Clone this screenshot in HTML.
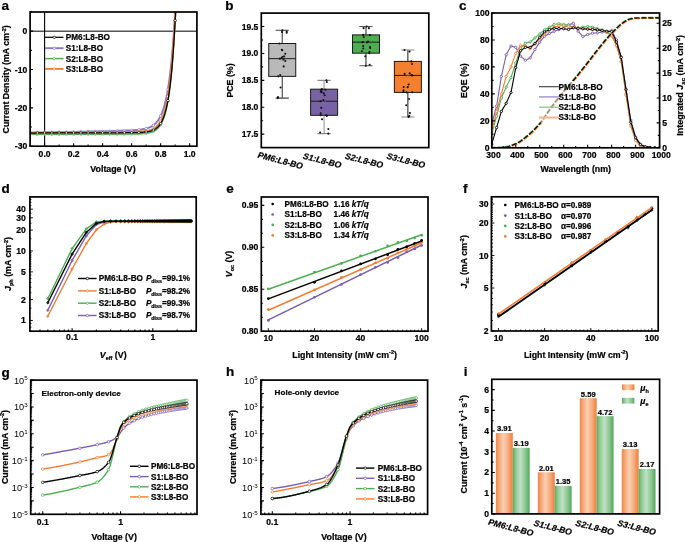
<!DOCTYPE html>
<html><head><meta charset="utf-8"><title>figure</title><style>html,body{margin:0;padding:0;background:#fff;width:685px;height:542px;overflow:hidden;}svg{display:block;font-family:"Liberation Sans",sans-serif;will-change:transform;}text{stroke:currentColor;stroke-width:0.22px;paint-order:stroke;}</style></head><body>
<svg width="685" height="542" viewBox="0 0 685 542" font-family="Liberation Sans, sans-serif" font-weight="bold"><text x="1.40" y="9.60" font-size="13.5" text-anchor="start" fill="#000">a</text>
<clipPath id="ca"><rect x="30.10" y="12.00" width="166.80" height="134.20"/></clipPath>
<line x1="30.10" y1="31.17" x2="196.90" y2="31.17" stroke="#555" stroke-width="1.5"/>
<line x1="44.60" y1="12.00" x2="44.60" y2="146.20" stroke="#000" stroke-width="1.1"/>
<g clip-path="url(#ca)">
<path d="M30.10 132.93 L30.83 132.92 L31.55 132.90 L32.28 132.88 L33.00 132.86 L33.73 132.85 L34.45 132.83 L35.18 132.81 L35.90 132.80 L36.63 132.78 L37.35 132.76 L38.08 132.74 L38.80 132.73 L39.53 132.71 L40.25 132.69 L40.98 132.67 L41.70 132.66 L42.43 132.64 L43.15 132.62 L43.88 132.61 L44.60 132.59 L45.33 132.57 L46.05 132.55 L46.78 132.54 L47.51 132.52 L48.23 132.50 L48.96 132.48 L49.68 132.47 L50.41 132.45 L51.13 132.43 L51.86 132.42 L52.58 132.40 L53.31 132.38 L54.03 132.36 L54.76 132.35 L55.48 132.33 L56.21 132.31 L56.93 132.29 L57.66 132.28 L58.38 132.26 L59.11 132.24 L59.83 132.23 L60.56 132.21 L61.28 132.19 L62.01 132.17 L62.73 132.16 L63.46 132.14 L64.19 132.12 L64.91 132.11 L65.64 132.09 L66.36 132.07 L67.09 132.05 L67.81 132.04 L68.54 132.02 L69.26 132.00 L69.99 131.98 L70.71 131.97 L71.44 131.95 L72.16 131.93 L72.89 131.92 L73.61 131.90 L74.34 131.88 L75.06 131.86 L75.79 131.85 L76.51 131.83 L77.24 131.81 L77.96 131.79 L78.69 131.78 L79.41 131.76 L80.14 131.74 L80.87 131.73 L81.59 131.71 L82.32 131.69 L83.04 131.67 L83.77 131.66 L84.49 131.64 L85.22 131.62 L85.94 131.60 L86.67 131.59 L87.39 131.57 L88.12 131.55 L88.84 131.54 L89.57 131.52 L90.29 131.50 L91.02 131.48 L91.74 131.47 L92.47 131.45 L93.19 131.43 L93.92 131.41 L94.64 131.40 L95.37 131.38 L96.09 131.36 L96.82 131.34 L97.55 131.33 L98.27 131.31 L99.00 131.29 L99.72 131.28 L100.45 131.26 L101.17 131.24 L101.90 131.22 L102.62 131.21 L103.35 131.19 L104.07 131.17 L104.80 131.15 L105.52 131.13 L106.25 131.12 L106.97 131.10 L107.70 131.08 L108.42 131.06 L109.15 131.05 L109.87 131.03 L110.60 131.01 L111.32 130.99 L112.05 130.97 L112.77 130.95 L113.50 130.94 L114.23 130.92 L114.95 130.90 L115.68 130.88 L116.40 130.86 L117.13 130.84 L117.85 130.82 L118.58 130.80 L119.30 130.78 L120.03 130.76 L120.75 130.74 L121.48 130.71 L122.20 130.69 L122.93 130.67 L123.65 130.65 L124.38 130.62 L125.10 130.60 L125.83 130.57 L126.55 130.54 L127.28 130.52 L128.00 130.49 L128.73 130.46 L129.45 130.42 L130.18 130.39 L130.91 130.36 L131.63 130.32 L132.36 130.28 L133.08 130.24 L133.81 130.19 L134.53 130.14 L135.26 130.09 L135.98 130.04 L136.71 129.98 L137.43 129.91 L138.16 129.84 L138.88 129.77 L139.61 129.69 L140.33 129.60 L141.06 129.50 L141.78 129.40 L142.51 129.28 L143.23 129.15 L143.96 129.01 L144.68 128.86 L145.41 128.69 L146.13 128.51 L146.86 128.30 L147.59 128.08 L148.31 127.83 L149.04 127.56 L149.76 127.25 L150.49 126.92 L151.21 126.55 L151.94 126.14 L152.66 125.69 L153.39 125.18 L154.11 124.63 L154.84 124.01 L155.56 123.32 L156.29 122.56 L157.01 121.72 L157.74 120.79 L158.46 119.75 L159.19 118.60 L159.91 117.32 L160.64 115.90 L161.36 114.32 L162.09 112.56 L162.81 110.62 L163.54 108.45 L164.27 106.05 L164.99 103.37 L165.72 100.40 L166.44 97.10 L167.17 93.44 L167.89 89.36 L168.62 84.83 L169.34 79.79 L170.07 74.19 L170.79 67.96 L171.52 61.04 L172.24 53.34 L172.97 44.78 L173.69 35.27 L174.42 24.69 L175.14 12.93" stroke="#8a76c2" stroke-width="1.9" fill="none" stroke-linejoin="round" stroke-linecap="round"/>
<circle cx="30.10" cy="132.93" r="1.2" fill="#fff" stroke="#8a76c2" stroke-width="0.7"/>
<circle cx="37.35" cy="132.76" r="1.2" fill="#fff" stroke="#8a76c2" stroke-width="0.7"/>
<circle cx="44.60" cy="132.59" r="1.2" fill="#fff" stroke="#8a76c2" stroke-width="0.7"/>
<circle cx="51.86" cy="132.42" r="1.2" fill="#fff" stroke="#8a76c2" stroke-width="0.7"/>
<circle cx="59.11" cy="132.24" r="1.2" fill="#fff" stroke="#8a76c2" stroke-width="0.7"/>
<circle cx="66.36" cy="132.07" r="1.2" fill="#fff" stroke="#8a76c2" stroke-width="0.7"/>
<circle cx="73.61" cy="131.90" r="1.2" fill="#fff" stroke="#8a76c2" stroke-width="0.7"/>
<circle cx="80.87" cy="131.73" r="1.2" fill="#fff" stroke="#8a76c2" stroke-width="0.7"/>
<circle cx="88.12" cy="131.55" r="1.2" fill="#fff" stroke="#8a76c2" stroke-width="0.7"/>
<circle cx="95.37" cy="131.38" r="1.2" fill="#fff" stroke="#8a76c2" stroke-width="0.7"/>
<circle cx="102.62" cy="131.21" r="1.2" fill="#fff" stroke="#8a76c2" stroke-width="0.7"/>
<circle cx="109.87" cy="131.03" r="1.2" fill="#fff" stroke="#8a76c2" stroke-width="0.7"/>
<circle cx="117.13" cy="130.84" r="1.2" fill="#fff" stroke="#8a76c2" stroke-width="0.7"/>
<circle cx="124.38" cy="130.62" r="1.2" fill="#fff" stroke="#8a76c2" stroke-width="0.7"/>
<circle cx="131.63" cy="130.32" r="1.2" fill="#fff" stroke="#8a76c2" stroke-width="0.7"/>
<circle cx="138.88" cy="129.77" r="1.2" fill="#fff" stroke="#8a76c2" stroke-width="0.7"/>
<circle cx="146.13" cy="128.51" r="1.2" fill="#fff" stroke="#8a76c2" stroke-width="0.7"/>
<circle cx="153.39" cy="125.18" r="1.2" fill="#fff" stroke="#8a76c2" stroke-width="0.7"/>
<circle cx="160.64" cy="115.90" r="1.2" fill="#fff" stroke="#8a76c2" stroke-width="0.7"/>
<circle cx="167.89" cy="89.36" r="1.2" fill="#fff" stroke="#8a76c2" stroke-width="0.7"/>
<circle cx="175.14" cy="12.93" r="1.2" fill="#fff" stroke="#8a76c2" stroke-width="0.7"/>
<path d="M30.10 134.35 L30.83 134.35 L31.55 134.35 L32.28 134.35 L33.00 134.34 L33.73 134.34 L34.45 134.34 L35.18 134.34 L35.90 134.34 L36.63 134.33 L37.35 134.33 L38.08 134.33 L38.80 134.33 L39.53 134.33 L40.25 134.33 L40.98 134.32 L41.70 134.32 L42.43 134.32 L43.15 134.32 L43.88 134.32 L44.60 134.31 L45.33 134.31 L46.05 134.31 L46.78 134.31 L47.51 134.31 L48.23 134.30 L48.96 134.30 L49.68 134.30 L50.41 134.30 L51.13 134.30 L51.86 134.29 L52.58 134.29 L53.31 134.29 L54.03 134.29 L54.76 134.29 L55.48 134.28 L56.21 134.28 L56.93 134.28 L57.66 134.28 L58.38 134.28 L59.11 134.28 L59.83 134.27 L60.56 134.27 L61.28 134.27 L62.01 134.27 L62.73 134.27 L63.46 134.26 L64.19 134.26 L64.91 134.26 L65.64 134.26 L66.36 134.26 L67.09 134.25 L67.81 134.25 L68.54 134.25 L69.26 134.25 L69.99 134.25 L70.71 134.24 L71.44 134.24 L72.16 134.24 L72.89 134.24 L73.61 134.24 L74.34 134.24 L75.06 134.23 L75.79 134.23 L76.51 134.23 L77.24 134.23 L77.96 134.23 L78.69 134.22 L79.41 134.22 L80.14 134.22 L80.87 134.22 L81.59 134.22 L82.32 134.21 L83.04 134.21 L83.77 134.21 L84.49 134.21 L85.22 134.21 L85.94 134.20 L86.67 134.20 L87.39 134.20 L88.12 134.20 L88.84 134.20 L89.57 134.19 L90.29 134.19 L91.02 134.19 L91.74 134.19 L92.47 134.19 L93.19 134.19 L93.92 134.18 L94.64 134.18 L95.37 134.18 L96.09 134.18 L96.82 134.18 L97.55 134.17 L98.27 134.17 L99.00 134.17 L99.72 134.17 L100.45 134.17 L101.17 134.16 L101.90 134.16 L102.62 134.16 L103.35 134.16 L104.07 134.16 L104.80 134.15 L105.52 134.15 L106.25 134.15 L106.97 134.15 L107.70 134.15 L108.42 134.14 L109.15 134.14 L109.87 134.14 L110.60 134.14 L111.32 134.14 L112.05 134.13 L112.77 134.13 L113.50 134.13 L114.23 134.13 L114.95 134.12 L115.68 134.12 L116.40 134.12 L117.13 134.12 L117.85 134.11 L118.58 134.11 L119.30 134.11 L120.03 134.11 L120.75 134.10 L121.48 134.10 L122.20 134.10 L122.93 134.09 L123.65 134.09 L124.38 134.08 L125.10 134.08 L125.83 134.08 L126.55 134.07 L127.28 134.07 L128.00 134.06 L128.73 134.05 L129.45 134.05 L130.18 134.04 L130.91 134.03 L131.63 134.02 L132.36 134.01 L133.08 134.00 L133.81 133.99 L134.53 133.97 L135.26 133.96 L135.98 133.94 L136.71 133.92 L137.43 133.90 L138.16 133.87 L138.88 133.84 L139.61 133.81 L140.33 133.78 L141.06 133.74 L141.78 133.69 L142.51 133.64 L143.23 133.59 L143.96 133.52 L144.68 133.45 L145.41 133.37 L146.13 133.28 L146.86 133.18 L147.59 133.06 L148.31 132.93 L149.04 132.77 L149.76 132.60 L150.49 132.41 L151.21 132.19 L151.94 131.95 L152.66 131.67 L153.39 131.35 L154.11 131.00 L154.84 130.59 L155.56 130.13 L156.29 129.61 L157.01 129.02 L157.74 128.36 L158.46 127.60 L159.19 126.75 L159.91 125.78 L160.64 124.68 L161.36 123.43 L162.09 122.02 L162.81 120.43 L163.54 118.62 L164.27 116.57 L164.99 114.25 L165.72 111.62 L166.44 108.64 L167.17 105.26 L167.89 101.43 L168.62 97.10 L169.34 92.18 L170.07 86.62 L170.79 80.31 L171.52 73.16 L172.24 65.06 L172.97 55.89 L173.69 45.49 L174.42 33.71 L175.14 20.36 L175.87 5.23" stroke="#4cae52" stroke-width="1.5" fill="none" stroke-linejoin="round" stroke-linecap="round"/>
<circle cx="30.10" cy="134.35" r="1.2" fill="#fff" stroke="#4cae52" stroke-width="0.7"/>
<circle cx="37.35" cy="134.33" r="1.2" fill="#fff" stroke="#4cae52" stroke-width="0.7"/>
<circle cx="44.60" cy="134.31" r="1.2" fill="#fff" stroke="#4cae52" stroke-width="0.7"/>
<circle cx="51.86" cy="134.29" r="1.2" fill="#fff" stroke="#4cae52" stroke-width="0.7"/>
<circle cx="59.11" cy="134.28" r="1.2" fill="#fff" stroke="#4cae52" stroke-width="0.7"/>
<circle cx="66.36" cy="134.26" r="1.2" fill="#fff" stroke="#4cae52" stroke-width="0.7"/>
<circle cx="73.61" cy="134.24" r="1.2" fill="#fff" stroke="#4cae52" stroke-width="0.7"/>
<circle cx="80.87" cy="134.22" r="1.2" fill="#fff" stroke="#4cae52" stroke-width="0.7"/>
<circle cx="88.12" cy="134.20" r="1.2" fill="#fff" stroke="#4cae52" stroke-width="0.7"/>
<circle cx="95.37" cy="134.18" r="1.2" fill="#fff" stroke="#4cae52" stroke-width="0.7"/>
<circle cx="102.62" cy="134.16" r="1.2" fill="#fff" stroke="#4cae52" stroke-width="0.7"/>
<circle cx="109.87" cy="134.14" r="1.2" fill="#fff" stroke="#4cae52" stroke-width="0.7"/>
<circle cx="117.13" cy="134.12" r="1.2" fill="#fff" stroke="#4cae52" stroke-width="0.7"/>
<circle cx="124.38" cy="134.08" r="1.2" fill="#fff" stroke="#4cae52" stroke-width="0.7"/>
<circle cx="131.63" cy="134.02" r="1.2" fill="#fff" stroke="#4cae52" stroke-width="0.7"/>
<circle cx="138.88" cy="133.84" r="1.2" fill="#fff" stroke="#4cae52" stroke-width="0.7"/>
<circle cx="146.13" cy="133.28" r="1.2" fill="#fff" stroke="#4cae52" stroke-width="0.7"/>
<circle cx="153.39" cy="131.35" r="1.2" fill="#fff" stroke="#4cae52" stroke-width="0.7"/>
<circle cx="160.64" cy="124.68" r="1.2" fill="#fff" stroke="#4cae52" stroke-width="0.7"/>
<circle cx="167.89" cy="101.43" r="1.2" fill="#fff" stroke="#4cae52" stroke-width="0.7"/>
<circle cx="175.14" cy="20.36" r="1.2" fill="#fff" stroke="#4cae52" stroke-width="0.7"/>
<path d="M30.10 132.45 L30.83 132.45 L31.55 132.45 L32.28 132.45 L33.00 132.44 L33.73 132.44 L34.45 132.44 L35.18 132.43 L35.90 132.43 L36.63 132.43 L37.35 132.43 L38.08 132.42 L38.80 132.42 L39.53 132.42 L40.25 132.41 L40.98 132.41 L41.70 132.41 L42.43 132.41 L43.15 132.40 L43.88 132.40 L44.60 132.40 L45.33 132.39 L46.05 132.39 L46.78 132.39 L47.51 132.39 L48.23 132.38 L48.96 132.38 L49.68 132.38 L50.41 132.37 L51.13 132.37 L51.86 132.37 L52.58 132.36 L53.31 132.36 L54.03 132.36 L54.76 132.36 L55.48 132.35 L56.21 132.35 L56.93 132.35 L57.66 132.34 L58.38 132.34 L59.11 132.34 L59.83 132.34 L60.56 132.33 L61.28 132.33 L62.01 132.33 L62.73 132.32 L63.46 132.32 L64.19 132.32 L64.91 132.32 L65.64 132.31 L66.36 132.31 L67.09 132.31 L67.81 132.30 L68.54 132.30 L69.26 132.30 L69.99 132.30 L70.71 132.29 L71.44 132.29 L72.16 132.29 L72.89 132.28 L73.61 132.28 L74.34 132.28 L75.06 132.28 L75.79 132.27 L76.51 132.27 L77.24 132.27 L77.96 132.26 L78.69 132.26 L79.41 132.26 L80.14 132.26 L80.87 132.25 L81.59 132.25 L82.32 132.25 L83.04 132.24 L83.77 132.24 L84.49 132.24 L85.22 132.24 L85.94 132.23 L86.67 132.23 L87.39 132.23 L88.12 132.22 L88.84 132.22 L89.57 132.22 L90.29 132.22 L91.02 132.21 L91.74 132.21 L92.47 132.21 L93.19 132.20 L93.92 132.20 L94.64 132.20 L95.37 132.20 L96.09 132.19 L96.82 132.19 L97.55 132.19 L98.27 132.18 L99.00 132.18 L99.72 132.18 L100.45 132.17 L101.17 132.17 L101.90 132.17 L102.62 132.17 L103.35 132.16 L104.07 132.16 L104.80 132.16 L105.52 132.15 L106.25 132.15 L106.97 132.15 L107.70 132.14 L108.42 132.14 L109.15 132.14 L109.87 132.14 L110.60 132.13 L111.32 132.13 L112.05 132.13 L112.77 132.12 L113.50 132.12 L114.23 132.12 L114.95 132.11 L115.68 132.11 L116.40 132.10 L117.13 132.10 L117.85 132.10 L118.58 132.09 L119.30 132.09 L120.03 132.08 L120.75 132.08 L121.48 132.07 L122.20 132.07 L122.93 132.06 L123.65 132.06 L124.38 132.05 L125.10 132.05 L125.83 132.04 L126.55 132.03 L127.28 132.02 L128.00 132.02 L128.73 132.01 L129.45 132.00 L130.18 131.98 L130.91 131.97 L131.63 131.96 L132.36 131.94 L133.08 131.93 L133.81 131.91 L134.53 131.89 L135.26 131.87 L135.98 131.85 L136.71 131.82 L137.43 131.79 L138.16 131.76 L138.88 131.72 L139.61 131.68 L140.33 131.63 L141.06 131.58 L141.78 131.52 L142.51 131.46 L143.23 131.39 L143.96 131.31 L144.68 131.22 L145.41 131.11 L146.13 131.00 L146.86 130.87 L147.59 130.73 L148.31 130.56 L149.04 130.38 L149.76 130.18 L150.49 129.95 L151.21 129.69 L151.94 129.39 L152.66 129.07 L153.39 128.70 L154.11 128.28 L154.84 127.81 L155.56 127.28 L156.29 126.69 L157.01 126.02 L157.74 125.27 L158.46 124.42 L159.19 123.47 L159.91 122.40 L160.64 121.19 L161.36 119.83 L162.09 118.29 L162.81 116.57 L163.54 114.62 L164.27 112.43 L164.99 109.97 L165.72 107.19 L166.44 104.06 L167.17 100.54 L167.89 96.57 L168.62 92.10 L169.34 87.07 L170.07 81.40 L170.79 75.02 L171.52 67.82 L172.24 59.72 L172.97 50.60 L173.69 40.32 L174.42 28.74 L175.14 15.71 L175.87 1.02" stroke="#f47c30" stroke-width="1.9" fill="none" stroke-linejoin="round" stroke-linecap="round"/>
<circle cx="30.10" cy="132.45" r="1.2" fill="#fff" stroke="#f47c30" stroke-width="0.7"/>
<circle cx="37.35" cy="132.43" r="1.2" fill="#fff" stroke="#f47c30" stroke-width="0.7"/>
<circle cx="44.60" cy="132.40" r="1.2" fill="#fff" stroke="#f47c30" stroke-width="0.7"/>
<circle cx="51.86" cy="132.37" r="1.2" fill="#fff" stroke="#f47c30" stroke-width="0.7"/>
<circle cx="59.11" cy="132.34" r="1.2" fill="#fff" stroke="#f47c30" stroke-width="0.7"/>
<circle cx="66.36" cy="132.31" r="1.2" fill="#fff" stroke="#f47c30" stroke-width="0.7"/>
<circle cx="73.61" cy="132.28" r="1.2" fill="#fff" stroke="#f47c30" stroke-width="0.7"/>
<circle cx="80.87" cy="132.25" r="1.2" fill="#fff" stroke="#f47c30" stroke-width="0.7"/>
<circle cx="88.12" cy="132.22" r="1.2" fill="#fff" stroke="#f47c30" stroke-width="0.7"/>
<circle cx="95.37" cy="132.20" r="1.2" fill="#fff" stroke="#f47c30" stroke-width="0.7"/>
<circle cx="102.62" cy="132.17" r="1.2" fill="#fff" stroke="#f47c30" stroke-width="0.7"/>
<circle cx="109.87" cy="132.14" r="1.2" fill="#fff" stroke="#f47c30" stroke-width="0.7"/>
<circle cx="117.13" cy="132.10" r="1.2" fill="#fff" stroke="#f47c30" stroke-width="0.7"/>
<circle cx="124.38" cy="132.05" r="1.2" fill="#fff" stroke="#f47c30" stroke-width="0.7"/>
<circle cx="131.63" cy="131.96" r="1.2" fill="#fff" stroke="#f47c30" stroke-width="0.7"/>
<circle cx="138.88" cy="131.72" r="1.2" fill="#fff" stroke="#f47c30" stroke-width="0.7"/>
<circle cx="146.13" cy="131.00" r="1.2" fill="#fff" stroke="#f47c30" stroke-width="0.7"/>
<circle cx="153.39" cy="128.70" r="1.2" fill="#fff" stroke="#f47c30" stroke-width="0.7"/>
<circle cx="160.64" cy="121.19" r="1.2" fill="#fff" stroke="#f47c30" stroke-width="0.7"/>
<circle cx="167.89" cy="96.57" r="1.2" fill="#fff" stroke="#f47c30" stroke-width="0.7"/>
<circle cx="175.14" cy="15.71" r="1.2" fill="#fff" stroke="#f47c30" stroke-width="0.7"/>
<path d="M30.10 133.01 L30.83 133.01 L31.55 133.01 L32.28 133.00 L33.00 133.00 L33.73 133.00 L34.45 133.00 L35.18 133.00 L35.90 132.99 L36.63 132.99 L37.35 132.99 L38.08 132.99 L38.80 132.99 L39.53 132.99 L40.25 132.98 L40.98 132.98 L41.70 132.98 L42.43 132.98 L43.15 132.98 L43.88 132.97 L44.60 132.97 L45.33 132.97 L46.05 132.97 L46.78 132.97 L47.51 132.96 L48.23 132.96 L48.96 132.96 L49.68 132.96 L50.41 132.96 L51.13 132.95 L51.86 132.95 L52.58 132.95 L53.31 132.95 L54.03 132.95 L54.76 132.94 L55.48 132.94 L56.21 132.94 L56.93 132.94 L57.66 132.94 L58.38 132.94 L59.11 132.93 L59.83 132.93 L60.56 132.93 L61.28 132.93 L62.01 132.93 L62.73 132.92 L63.46 132.92 L64.19 132.92 L64.91 132.92 L65.64 132.92 L66.36 132.91 L67.09 132.91 L67.81 132.91 L68.54 132.91 L69.26 132.91 L69.99 132.90 L70.71 132.90 L71.44 132.90 L72.16 132.90 L72.89 132.90 L73.61 132.90 L74.34 132.89 L75.06 132.89 L75.79 132.89 L76.51 132.89 L77.24 132.89 L77.96 132.88 L78.69 132.88 L79.41 132.88 L80.14 132.88 L80.87 132.88 L81.59 132.87 L82.32 132.87 L83.04 132.87 L83.77 132.87 L84.49 132.87 L85.22 132.86 L85.94 132.86 L86.67 132.86 L87.39 132.86 L88.12 132.86 L88.84 132.85 L89.57 132.85 L90.29 132.85 L91.02 132.85 L91.74 132.85 L92.47 132.85 L93.19 132.84 L93.92 132.84 L94.64 132.84 L95.37 132.84 L96.09 132.84 L96.82 132.83 L97.55 132.83 L98.27 132.83 L99.00 132.83 L99.72 132.83 L100.45 132.82 L101.17 132.82 L101.90 132.82 L102.62 132.82 L103.35 132.82 L104.07 132.81 L104.80 132.81 L105.52 132.81 L106.25 132.81 L106.97 132.81 L107.70 132.80 L108.42 132.80 L109.15 132.80 L109.87 132.80 L110.60 132.80 L111.32 132.79 L112.05 132.79 L112.77 132.79 L113.50 132.79 L114.23 132.78 L114.95 132.78 L115.68 132.78 L116.40 132.78 L117.13 132.77 L117.85 132.77 L118.58 132.77 L119.30 132.77 L120.03 132.76 L120.75 132.76 L121.48 132.76 L122.20 132.75 L122.93 132.75 L123.65 132.75 L124.38 132.74 L125.10 132.74 L125.83 132.73 L126.55 132.73 L127.28 132.72 L128.00 132.72 L128.73 132.71 L129.45 132.70 L130.18 132.70 L130.91 132.69 L131.63 132.68 L132.36 132.67 L133.08 132.66 L133.81 132.65 L134.53 132.63 L135.26 132.62 L135.98 132.60 L136.71 132.58 L137.43 132.56 L138.16 132.53 L138.88 132.51 L139.61 132.48 L140.33 132.44 L141.06 132.40 L141.78 132.36 L142.51 132.31 L143.23 132.25 L143.96 132.19 L144.68 132.12 L145.41 132.04 L146.13 131.95 L146.86 131.84 L147.59 131.73 L148.31 131.60 L149.04 131.45 L149.76 131.28 L150.49 131.09 L151.21 130.88 L151.94 130.63 L152.66 130.36 L153.39 130.05 L154.11 129.69 L154.84 129.29 L155.56 128.84 L156.29 128.33 L157.01 127.75 L157.74 127.09 L158.46 126.34 L159.19 125.50 L159.91 124.54 L160.64 123.46 L161.36 122.23 L162.09 120.84 L162.81 119.26 L163.54 117.48 L164.27 115.46 L164.99 113.16 L165.72 110.57 L166.44 107.63 L167.17 104.29 L167.89 100.52 L168.62 96.24 L169.34 91.39 L170.07 85.89 L170.79 79.67 L171.52 72.61 L172.24 64.62 L172.97 55.57 L173.69 45.30 L174.42 33.68 L175.14 20.50 L175.87 5.57" stroke="#000000" stroke-width="1.25" fill="none" stroke-linejoin="round" stroke-linecap="round"/>
<circle cx="30.10" cy="133.01" r="1.2" fill="#fff" stroke="#000000" stroke-width="0.7"/>
<circle cx="37.35" cy="132.99" r="1.2" fill="#fff" stroke="#000000" stroke-width="0.7"/>
<circle cx="44.60" cy="132.97" r="1.2" fill="#fff" stroke="#000000" stroke-width="0.7"/>
<circle cx="51.86" cy="132.95" r="1.2" fill="#fff" stroke="#000000" stroke-width="0.7"/>
<circle cx="59.11" cy="132.93" r="1.2" fill="#fff" stroke="#000000" stroke-width="0.7"/>
<circle cx="66.36" cy="132.91" r="1.2" fill="#fff" stroke="#000000" stroke-width="0.7"/>
<circle cx="73.61" cy="132.90" r="1.2" fill="#fff" stroke="#000000" stroke-width="0.7"/>
<circle cx="80.87" cy="132.88" r="1.2" fill="#fff" stroke="#000000" stroke-width="0.7"/>
<circle cx="88.12" cy="132.86" r="1.2" fill="#fff" stroke="#000000" stroke-width="0.7"/>
<circle cx="95.37" cy="132.84" r="1.2" fill="#fff" stroke="#000000" stroke-width="0.7"/>
<circle cx="102.62" cy="132.82" r="1.2" fill="#fff" stroke="#000000" stroke-width="0.7"/>
<circle cx="109.87" cy="132.80" r="1.2" fill="#fff" stroke="#000000" stroke-width="0.7"/>
<circle cx="117.13" cy="132.77" r="1.2" fill="#fff" stroke="#000000" stroke-width="0.7"/>
<circle cx="124.38" cy="132.74" r="1.2" fill="#fff" stroke="#000000" stroke-width="0.7"/>
<circle cx="131.63" cy="132.68" r="1.2" fill="#fff" stroke="#000000" stroke-width="0.7"/>
<circle cx="138.88" cy="132.51" r="1.2" fill="#fff" stroke="#000000" stroke-width="0.7"/>
<circle cx="146.13" cy="131.95" r="1.2" fill="#fff" stroke="#000000" stroke-width="0.7"/>
<circle cx="153.39" cy="130.05" r="1.2" fill="#fff" stroke="#000000" stroke-width="0.7"/>
<circle cx="160.64" cy="123.46" r="1.2" fill="#fff" stroke="#000000" stroke-width="0.7"/>
<circle cx="167.89" cy="100.52" r="1.2" fill="#fff" stroke="#000000" stroke-width="0.7"/>
<circle cx="175.14" cy="20.50" r="1.2" fill="#fff" stroke="#000000" stroke-width="0.7"/>
</g>
<rect x="30.10" y="12.00" width="166.80" height="134.20" fill="none" stroke="#000" stroke-width="1.7"/>
<path d="M44.60 146.20v-3.0M73.61 146.20v-3.0M102.62 146.20v-3.0M131.63 146.20v-3.0M160.64 146.20v-3.0M189.65 146.20v-3.0M30.10 146.20v-1.8M59.11 146.20v-1.8M88.12 146.20v-1.8M117.13 146.20v-1.8M146.13 146.20v-1.8M175.14 146.20v-1.8" stroke="#000" stroke-width="1.1" fill="none"/>
<path d="M30.10 31.17h3.0M30.10 69.51h3.0M30.10 107.86h3.0M30.10 146.20h3.0M30.10 12.00h1.8M30.10 50.34h1.8M30.10 88.69h1.8M30.10 127.03h1.8" stroke="#000" stroke-width="1.1" fill="none"/>
<text x="44.60" y="156.60" font-size="8.6" text-anchor="middle" fill="#000">0.0</text>
<text x="73.61" y="156.60" font-size="8.6" text-anchor="middle" fill="#000">0.2</text>
<text x="102.62" y="156.60" font-size="8.6" text-anchor="middle" fill="#000">0.4</text>
<text x="131.63" y="156.60" font-size="8.6" text-anchor="middle" fill="#000">0.6</text>
<text x="160.64" y="156.60" font-size="8.6" text-anchor="middle" fill="#000">0.8</text>
<text x="189.65" y="156.60" font-size="8.6" text-anchor="middle" fill="#000">1.0</text>
<text x="27.20" y="34.17" font-size="8.6" text-anchor="end" fill="#000">0</text>
<text x="27.20" y="72.51" font-size="8.6" text-anchor="end" fill="#000">-10</text>
<text x="27.20" y="110.86" font-size="8.6" text-anchor="end" fill="#000">-20</text>
<text x="27.20" y="149.20" font-size="8.6" text-anchor="end" fill="#000">-30</text>
<text x="113.00" y="172.20" font-size="8.8" text-anchor="middle" fill="#000">Voltage (V)</text>
<text x="9.30" y="79.30" font-size="8.8" text-anchor="middle" fill="#000" transform="rotate(-90.00 9.30 79.30)">Current Density (mA cm<tspan font-size="5.5" dy="-3.2">-2</tspan><tspan dy="3.2">)</tspan></text>
<line x1="45" y1="37.3" x2="63.5" y2="37.3" stroke="#000000" stroke-width="1.25"/>
<circle cx="54.20" cy="37.30" r="1.2" fill="#fff" stroke="#000000" stroke-width="0.7"/>
<text x="65.80" y="40.20" font-size="8.2" text-anchor="start" fill="#000">PM6:L8-BO</text>
<line x1="45" y1="48.2" x2="63.5" y2="48.2" stroke="#8a76c2" stroke-width="1.9"/>
<circle cx="54.20" cy="48.20" r="1.2" fill="#fff" stroke="#8a76c2" stroke-width="0.7"/>
<text x="65.80" y="51.10" font-size="8.2" text-anchor="start" fill="#000">S1:L8-BO</text>
<line x1="45" y1="58.6" x2="63.5" y2="58.6" stroke="#4cae52" stroke-width="1.5"/>
<circle cx="54.20" cy="58.60" r="1.2" fill="#fff" stroke="#4cae52" stroke-width="0.7"/>
<text x="65.80" y="61.50" font-size="8.2" text-anchor="start" fill="#000">S2:L8-BO</text>
<line x1="45" y1="68.9" x2="63.5" y2="68.9" stroke="#f47c30" stroke-width="1.9"/>
<circle cx="54.20" cy="68.90" r="1.2" fill="#fff" stroke="#f47c30" stroke-width="0.7"/>
<text x="65.80" y="71.80" font-size="8.2" text-anchor="start" fill="#000">S3:L8-BO</text>
<text x="225.20" y="9.60" font-size="13.5" text-anchor="start" fill="#000">b</text>
<path d="M282.24 30.32V43.50M282.24 76.37V98.10" stroke="#444" stroke-width="1.1"/>
<path d="M275.64 30.32h13.2M275.64 98.10h13.2" stroke="#444" stroke-width="1.1"/>
<rect x="268.74" y="43.50" width="27.0" height="32.87" fill="#b9b9b9" stroke="#1a1a1a" stroke-width="1.0"/>
<line x1="268.74" y1="58.67" x2="295.74" y2="58.67" stroke="#1a1a1a" stroke-width="1.0"/>
<circle cx="282.24" cy="59.39" r="1.3" fill="none" stroke="#888" stroke-width="0.6"/>
<circle cx="277.87" cy="98.10" r="1.05" fill="#111"/>
<circle cx="282.49" cy="30.32" r="1.05" fill="#111"/>
<circle cx="278.27" cy="76.37" r="1.05" fill="#111"/>
<circle cx="279.45" cy="43.50" r="1.05" fill="#111"/>
<circle cx="279.91" cy="58.67" r="1.05" fill="#111"/>
<circle cx="278.01" cy="97.03" r="1.05" fill="#111"/>
<circle cx="281.91" cy="31.93" r="1.05" fill="#111"/>
<circle cx="281.70" cy="57.97" r="1.05" fill="#111"/>
<circle cx="285.32" cy="61.06" r="1.05" fill="#111"/>
<circle cx="282.41" cy="57.06" r="1.05" fill="#111"/>
<circle cx="283.50" cy="59.54" r="1.05" fill="#111"/>
<circle cx="282.24" cy="50.30" r="1.05" fill="#111"/>
<circle cx="283.70" cy="66.40" r="1.05" fill="#111"/>
<circle cx="281.85" cy="49.75" r="1.05" fill="#111"/>
<circle cx="280.24" cy="74.99" r="1.05" fill="#111"/>
<circle cx="286.72" cy="31.52" r="1.05" fill="#111"/>
<circle cx="286.70" cy="32.70" r="1.05" fill="#111"/>
<circle cx="285.30" cy="53.78" r="1.05" fill="#111"/>
<circle cx="284.11" cy="56.38" r="1.05" fill="#111"/>
<circle cx="280.57" cy="87.43" r="1.05" fill="#111"/>
<path d="M324.11 80.35V89.17M324.11 115.32V133.61" stroke="#9a9a9a" stroke-width="1.1"/>
<path d="M317.51 80.35h13.2M317.51 133.61h13.2" stroke="#8a8a8a" stroke-width="1.1"/>
<rect x="310.61" y="89.17" width="27.0" height="26.15" fill="#7862a6" stroke="#1a1a1a" stroke-width="1.0"/>
<line x1="310.61" y1="101.22" x2="337.61" y2="101.22" stroke="#1a1a1a" stroke-width="1.0"/>
<circle cx="324.11" cy="101.71" r="1.3" fill="none" stroke="#888" stroke-width="0.6"/>
<circle cx="328.29" cy="133.61" r="1.05" fill="#111"/>
<circle cx="326.43" cy="80.35" r="1.05" fill="#111"/>
<circle cx="320.67" cy="115.32" r="1.05" fill="#111"/>
<circle cx="321.83" cy="89.17" r="1.05" fill="#111"/>
<circle cx="320.52" cy="101.22" r="1.05" fill="#111"/>
<circle cx="320.15" cy="132.54" r="1.05" fill="#111"/>
<circle cx="326.79" cy="81.96" r="1.05" fill="#111"/>
<circle cx="321.21" cy="107.76" r="1.05" fill="#111"/>
<circle cx="324.65" cy="95.28" r="1.05" fill="#111"/>
<circle cx="323.64" cy="93.18" r="1.05" fill="#111"/>
<circle cx="321.33" cy="90.27" r="1.05" fill="#111"/>
<circle cx="326.20" cy="115.31" r="1.05" fill="#111"/>
<circle cx="320.79" cy="91.52" r="1.05" fill="#111"/>
<circle cx="325.41" cy="89.69" r="1.05" fill="#111"/>
<circle cx="320.66" cy="113.41" r="1.05" fill="#111"/>
<circle cx="323.40" cy="100.09" r="1.05" fill="#111"/>
<circle cx="321.53" cy="92.15" r="1.05" fill="#111"/>
<circle cx="322.04" cy="119.24" r="1.05" fill="#111"/>
<circle cx="328.35" cy="128.97" r="1.05" fill="#111"/>
<circle cx="326.84" cy="115.90" r="1.05" fill="#111"/>
<path d="M365.99 26.55V34.89M365.99 53.18V65.82" stroke="#333" stroke-width="1.1"/>
<path d="M359.39 26.55h13.2M359.39 65.82h13.2" stroke="#555" stroke-width="1.1"/>
<rect x="352.49" y="34.89" width="27.0" height="18.29" fill="#4cae50" stroke="#1a1a1a" stroke-width="1.0"/>
<line x1="352.49" y1="42.15" x2="379.49" y2="42.15" stroke="#1a1a1a" stroke-width="1.0"/>
<circle cx="365.99" cy="43.50" r="1.3" fill="none" stroke="#888" stroke-width="0.6"/>
<circle cx="365.84" cy="65.82" r="1.05" fill="#111"/>
<circle cx="366.66" cy="26.55" r="1.05" fill="#111"/>
<circle cx="369.29" cy="53.18" r="1.05" fill="#111"/>
<circle cx="363.13" cy="34.89" r="1.05" fill="#111"/>
<circle cx="362.87" cy="42.15" r="1.05" fill="#111"/>
<circle cx="369.66" cy="64.75" r="1.05" fill="#111"/>
<circle cx="368.85" cy="28.16" r="1.05" fill="#111"/>
<circle cx="363.73" cy="37.00" r="1.05" fill="#111"/>
<circle cx="363.20" cy="45.97" r="1.05" fill="#111"/>
<circle cx="368.14" cy="41.44" r="1.05" fill="#111"/>
<circle cx="369.95" cy="35.08" r="1.05" fill="#111"/>
<circle cx="363.26" cy="48.46" r="1.05" fill="#111"/>
<circle cx="370.04" cy="47.16" r="1.05" fill="#111"/>
<circle cx="369.43" cy="51.84" r="1.05" fill="#111"/>
<circle cx="366.92" cy="42.52" r="1.05" fill="#111"/>
<circle cx="365.28" cy="56.28" r="1.05" fill="#111"/>
<circle cx="362.42" cy="42.21" r="1.05" fill="#111"/>
<circle cx="361.84" cy="51.23" r="1.05" fill="#111"/>
<circle cx="370.15" cy="48.02" r="1.05" fill="#111"/>
<circle cx="363.63" cy="28.15" r="1.05" fill="#111"/>
<path d="M407.86 50.01V61.41M407.86 92.40V116.99" stroke="#333" stroke-width="1.1"/>
<path d="M401.26 50.01h13.2M401.26 116.99h13.2" stroke="#8a8a8a" stroke-width="1.1"/>
<rect x="394.36" y="61.41" width="27.0" height="30.99" fill="#f4802f" stroke="#1a1a1a" stroke-width="1.0"/>
<line x1="394.36" y1="75.40" x2="421.36" y2="75.40" stroke="#1a1a1a" stroke-width="1.0"/>
<circle cx="407.86" cy="76.37" r="1.3" fill="none" stroke="#888" stroke-width="0.6"/>
<circle cx="408.51" cy="116.99" r="1.05" fill="#111"/>
<circle cx="404.55" cy="50.01" r="1.05" fill="#111"/>
<circle cx="406.62" cy="92.40" r="1.05" fill="#111"/>
<circle cx="411.38" cy="61.41" r="1.05" fill="#111"/>
<circle cx="412.19" cy="75.40" r="1.05" fill="#111"/>
<circle cx="409.27" cy="115.91" r="1.05" fill="#111"/>
<circle cx="409.58" cy="51.62" r="1.05" fill="#111"/>
<circle cx="408.62" cy="84.44" r="1.05" fill="#111"/>
<circle cx="404.63" cy="73.92" r="1.05" fill="#111"/>
<circle cx="403.68" cy="86.96" r="1.05" fill="#111"/>
<circle cx="403.52" cy="90.27" r="1.05" fill="#111"/>
<circle cx="411.55" cy="75.07" r="1.05" fill="#111"/>
<circle cx="409.67" cy="73.36" r="1.05" fill="#111"/>
<circle cx="412.03" cy="63.97" r="1.05" fill="#111"/>
<circle cx="403.55" cy="91.89" r="1.05" fill="#111"/>
<circle cx="409.09" cy="98.96" r="1.05" fill="#111"/>
<circle cx="407.70" cy="87.13" r="1.05" fill="#111"/>
<circle cx="409.94" cy="112.94" r="1.05" fill="#111"/>
<circle cx="406.23" cy="105.18" r="1.05" fill="#111"/>
<circle cx="412.36" cy="92.29" r="1.05" fill="#111"/>
<rect x="261.30" y="13.10" width="167.50" height="134.50" fill="none" stroke="#000" stroke-width="1.7"/>
<path d="M261.30 134.15h3.0M261.30 107.25h3.0M261.30 80.35h3.0M261.30 53.45h3.0M261.30 26.55h3.0M261.30 120.70h1.8M261.30 93.80h1.8M261.30 66.90h1.8M261.30 40.00h1.8" stroke="#000" stroke-width="1.1" fill="none"/>
<text x="258.40" y="137.15" font-size="8.6" text-anchor="end" fill="#000">17.5</text>
<text x="258.40" y="110.25" font-size="8.6" text-anchor="end" fill="#000">18.0</text>
<text x="258.40" y="83.35" font-size="8.6" text-anchor="end" fill="#000">18.5</text>
<text x="258.40" y="56.45" font-size="8.6" text-anchor="end" fill="#000">19.0</text>
<text x="258.40" y="29.55" font-size="8.6" text-anchor="end" fill="#000">19.5</text>
<text x="233.00" y="80.50" font-size="8.8" text-anchor="middle" fill="#000" transform="rotate(-90.00 233.00 80.50)">PCE (%)</text>
<text x="279.64" y="163.40" font-size="8.6" text-anchor="middle" font-style="italic" fill="#000" transform="rotate(14.50 279.64 163.40)">PM6:L8-BO</text>
<text x="321.51" y="163.40" font-size="8.6" text-anchor="middle" font-style="italic" fill="#000" transform="rotate(14.50 321.51 163.40)">S1:L8-BO</text>
<text x="363.39" y="163.40" font-size="8.6" text-anchor="middle" font-style="italic" fill="#000" transform="rotate(14.50 363.39 163.40)">S2:L8-BO</text>
<text x="405.26" y="163.40" font-size="8.6" text-anchor="middle" font-style="italic" fill="#000" transform="rotate(14.50 405.26 163.40)">S3:L8-BO</text>
<text x="458.90" y="9.60" font-size="13.5" text-anchor="start" fill="#000">c</text>
<clipPath id="cc"><rect x="491.80" y="13.00" width="167.80" height="134.80"/></clipPath>
<g clip-path="url(#cc)">
<path d="M491.80 124.21 L496.59 106.01 L501.39 76.36 L506.18 54.79 L510.98 46.03 L515.77 47.37 L520.57 56.14 L525.36 60.18 L530.15 57.89 L534.95 49.40 L539.74 42.12 L544.54 36.32 L549.33 33.49 L554.13 31.33 L558.92 29.58 L563.71 27.56 L568.51 24.86 L573.30 23.24 L578.10 31.20 L582.89 36.59 L587.69 34.57 L592.48 33.22 L597.27 32.82 L602.07 32.14 L606.86 31.60 L611.66 30.52 L616.45 39.96 L621.25 56.81 L626.04 89.16 L630.83 120.17 L635.63 137.02 L640.42 144.43 L645.22 146.72 L650.01 147.40 L654.81 147.67 L659.60 147.80" stroke="#7b5cb0" stroke-width="1.1" fill="none" stroke-linejoin="round" stroke-linecap="round"/>
<circle cx="491.80" cy="124.21" r="1.15" fill="#fff" stroke="#7b5cb0" stroke-width="0.9"/>
<circle cx="496.59" cy="106.01" r="1.15" fill="#fff" stroke="#7b5cb0" stroke-width="0.9"/>
<circle cx="501.39" cy="76.36" r="1.15" fill="#fff" stroke="#7b5cb0" stroke-width="0.9"/>
<circle cx="506.18" cy="54.79" r="1.15" fill="#fff" stroke="#7b5cb0" stroke-width="0.9"/>
<circle cx="510.98" cy="46.03" r="1.15" fill="#fff" stroke="#7b5cb0" stroke-width="0.9"/>
<circle cx="515.77" cy="47.37" r="1.15" fill="#fff" stroke="#7b5cb0" stroke-width="0.9"/>
<circle cx="520.57" cy="56.14" r="1.15" fill="#fff" stroke="#7b5cb0" stroke-width="0.9"/>
<circle cx="525.36" cy="60.18" r="1.15" fill="#fff" stroke="#7b5cb0" stroke-width="0.9"/>
<circle cx="530.15" cy="57.89" r="1.15" fill="#fff" stroke="#7b5cb0" stroke-width="0.9"/>
<circle cx="534.95" cy="49.40" r="1.15" fill="#fff" stroke="#7b5cb0" stroke-width="0.9"/>
<circle cx="539.74" cy="42.12" r="1.15" fill="#fff" stroke="#7b5cb0" stroke-width="0.9"/>
<circle cx="544.54" cy="36.32" r="1.15" fill="#fff" stroke="#7b5cb0" stroke-width="0.9"/>
<circle cx="549.33" cy="33.49" r="1.15" fill="#fff" stroke="#7b5cb0" stroke-width="0.9"/>
<circle cx="554.13" cy="31.33" r="1.15" fill="#fff" stroke="#7b5cb0" stroke-width="0.9"/>
<circle cx="558.92" cy="29.58" r="1.15" fill="#fff" stroke="#7b5cb0" stroke-width="0.9"/>
<circle cx="563.71" cy="27.56" r="1.15" fill="#fff" stroke="#7b5cb0" stroke-width="0.9"/>
<circle cx="568.51" cy="24.86" r="1.15" fill="#fff" stroke="#7b5cb0" stroke-width="0.9"/>
<circle cx="573.30" cy="23.24" r="1.15" fill="#fff" stroke="#7b5cb0" stroke-width="0.9"/>
<circle cx="578.10" cy="31.20" r="1.15" fill="#fff" stroke="#7b5cb0" stroke-width="0.9"/>
<circle cx="582.89" cy="36.59" r="1.15" fill="#fff" stroke="#7b5cb0" stroke-width="0.9"/>
<circle cx="587.69" cy="34.57" r="1.15" fill="#fff" stroke="#7b5cb0" stroke-width="0.9"/>
<circle cx="592.48" cy="33.22" r="1.15" fill="#fff" stroke="#7b5cb0" stroke-width="0.9"/>
<circle cx="597.27" cy="32.82" r="1.15" fill="#fff" stroke="#7b5cb0" stroke-width="0.9"/>
<circle cx="602.07" cy="32.14" r="1.15" fill="#fff" stroke="#7b5cb0" stroke-width="0.9"/>
<circle cx="606.86" cy="31.60" r="1.15" fill="#fff" stroke="#7b5cb0" stroke-width="0.9"/>
<circle cx="611.66" cy="30.52" r="1.15" fill="#fff" stroke="#7b5cb0" stroke-width="0.9"/>
<circle cx="616.45" cy="39.96" r="1.15" fill="#fff" stroke="#7b5cb0" stroke-width="0.9"/>
<circle cx="621.25" cy="56.81" r="1.15" fill="#fff" stroke="#7b5cb0" stroke-width="0.9"/>
<circle cx="626.04" cy="89.16" r="1.15" fill="#fff" stroke="#7b5cb0" stroke-width="0.9"/>
<circle cx="630.83" cy="120.17" r="1.15" fill="#fff" stroke="#7b5cb0" stroke-width="0.9"/>
<circle cx="635.63" cy="137.02" r="1.15" fill="#fff" stroke="#7b5cb0" stroke-width="0.9"/>
<circle cx="640.42" cy="144.43" r="1.15" fill="#fff" stroke="#7b5cb0" stroke-width="0.9"/>
<circle cx="645.22" cy="146.72" r="1.15" fill="#fff" stroke="#7b5cb0" stroke-width="0.9"/>
<circle cx="650.01" cy="147.40" r="1.15" fill="#fff" stroke="#7b5cb0" stroke-width="0.9"/>
<circle cx="654.81" cy="147.67" r="1.15" fill="#fff" stroke="#7b5cb0" stroke-width="0.9"/>
<circle cx="659.60" cy="147.80" r="1.15" fill="#fff" stroke="#7b5cb0" stroke-width="0.9"/>
<path d="M491.80 133.65 L496.59 116.12 L501.39 97.92 L506.18 87.14 L510.98 77.70 L515.77 62.88 L520.57 48.05 L525.36 43.33 L530.15 41.98 L534.95 37.94 L539.74 33.89 L544.54 29.85 L549.33 27.15 L554.13 24.46 L558.92 23.78 L563.71 24.46 L568.51 25.13 L573.30 27.15 L578.10 27.83 L582.89 27.15 L587.69 26.48 L592.48 27.15 L597.27 28.50 L602.07 29.85 L606.86 31.87 L611.66 34.57 L616.45 45.35 L621.25 61.53 L626.04 93.88 L630.83 124.88 L635.63 139.71 L640.42 145.37 L645.22 147.13 L650.01 147.53 L654.81 147.73 L659.60 147.80" stroke="#4cae52" stroke-width="1.1" fill="none" stroke-linejoin="round" stroke-linecap="round"/>
<circle cx="491.80" cy="133.65" r="1.15" fill="#fff" stroke="#4cae52" stroke-width="0.9"/>
<circle cx="496.59" cy="116.12" r="1.15" fill="#fff" stroke="#4cae52" stroke-width="0.9"/>
<circle cx="501.39" cy="97.92" r="1.15" fill="#fff" stroke="#4cae52" stroke-width="0.9"/>
<circle cx="506.18" cy="87.14" r="1.15" fill="#fff" stroke="#4cae52" stroke-width="0.9"/>
<circle cx="510.98" cy="77.70" r="1.15" fill="#fff" stroke="#4cae52" stroke-width="0.9"/>
<circle cx="515.77" cy="62.88" r="1.15" fill="#fff" stroke="#4cae52" stroke-width="0.9"/>
<circle cx="520.57" cy="48.05" r="1.15" fill="#fff" stroke="#4cae52" stroke-width="0.9"/>
<circle cx="525.36" cy="43.33" r="1.15" fill="#fff" stroke="#4cae52" stroke-width="0.9"/>
<circle cx="530.15" cy="41.98" r="1.15" fill="#fff" stroke="#4cae52" stroke-width="0.9"/>
<circle cx="534.95" cy="37.94" r="1.15" fill="#fff" stroke="#4cae52" stroke-width="0.9"/>
<circle cx="539.74" cy="33.89" r="1.15" fill="#fff" stroke="#4cae52" stroke-width="0.9"/>
<circle cx="544.54" cy="29.85" r="1.15" fill="#fff" stroke="#4cae52" stroke-width="0.9"/>
<circle cx="549.33" cy="27.15" r="1.15" fill="#fff" stroke="#4cae52" stroke-width="0.9"/>
<circle cx="554.13" cy="24.46" r="1.15" fill="#fff" stroke="#4cae52" stroke-width="0.9"/>
<circle cx="558.92" cy="23.78" r="1.15" fill="#fff" stroke="#4cae52" stroke-width="0.9"/>
<circle cx="563.71" cy="24.46" r="1.15" fill="#fff" stroke="#4cae52" stroke-width="0.9"/>
<circle cx="568.51" cy="25.13" r="1.15" fill="#fff" stroke="#4cae52" stroke-width="0.9"/>
<circle cx="573.30" cy="27.15" r="1.15" fill="#fff" stroke="#4cae52" stroke-width="0.9"/>
<circle cx="578.10" cy="27.83" r="1.15" fill="#fff" stroke="#4cae52" stroke-width="0.9"/>
<circle cx="582.89" cy="27.15" r="1.15" fill="#fff" stroke="#4cae52" stroke-width="0.9"/>
<circle cx="587.69" cy="26.48" r="1.15" fill="#fff" stroke="#4cae52" stroke-width="0.9"/>
<circle cx="592.48" cy="27.15" r="1.15" fill="#fff" stroke="#4cae52" stroke-width="0.9"/>
<circle cx="597.27" cy="28.50" r="1.15" fill="#fff" stroke="#4cae52" stroke-width="0.9"/>
<circle cx="602.07" cy="29.85" r="1.15" fill="#fff" stroke="#4cae52" stroke-width="0.9"/>
<circle cx="606.86" cy="31.87" r="1.15" fill="#fff" stroke="#4cae52" stroke-width="0.9"/>
<circle cx="611.66" cy="34.57" r="1.15" fill="#fff" stroke="#4cae52" stroke-width="0.9"/>
<circle cx="616.45" cy="45.35" r="1.15" fill="#fff" stroke="#4cae52" stroke-width="0.9"/>
<circle cx="621.25" cy="61.53" r="1.15" fill="#fff" stroke="#4cae52" stroke-width="0.9"/>
<circle cx="626.04" cy="93.88" r="1.15" fill="#fff" stroke="#4cae52" stroke-width="0.9"/>
<circle cx="630.83" cy="124.88" r="1.15" fill="#fff" stroke="#4cae52" stroke-width="0.9"/>
<circle cx="635.63" cy="139.71" r="1.15" fill="#fff" stroke="#4cae52" stroke-width="0.9"/>
<circle cx="640.42" cy="145.37" r="1.15" fill="#fff" stroke="#4cae52" stroke-width="0.9"/>
<circle cx="645.22" cy="147.13" r="1.15" fill="#fff" stroke="#4cae52" stroke-width="0.9"/>
<circle cx="650.01" cy="147.53" r="1.15" fill="#fff" stroke="#4cae52" stroke-width="0.9"/>
<circle cx="654.81" cy="147.73" r="1.15" fill="#fff" stroke="#4cae52" stroke-width="0.9"/>
<circle cx="659.60" cy="147.80" r="1.15" fill="#fff" stroke="#4cae52" stroke-width="0.9"/>
<path d="M491.80 130.95 L496.59 111.40 L501.39 93.88 L506.18 76.36 L510.98 66.92 L515.77 53.44 L520.57 45.35 L525.36 46.03 L530.15 48.72 L534.95 44.00 L539.74 38.61 L544.54 33.89 L549.33 30.52 L554.13 27.15 L558.92 25.81 L563.71 25.81 L568.51 26.48 L573.30 27.15 L578.10 27.83 L582.89 28.50 L587.69 28.77 L592.48 29.18 L597.27 29.85 L602.07 30.52 L606.86 32.55 L611.66 35.92 L616.45 45.35 L621.25 61.53 L626.04 95.23 L630.83 126.23 L635.63 140.39 L640.42 145.78 L645.22 147.26 L650.01 147.67 L654.81 147.80 L659.60 147.80" stroke="#f47c30" stroke-width="1.1" fill="none" stroke-linejoin="round" stroke-linecap="round"/>
<circle cx="491.80" cy="130.95" r="1.15" fill="#fff" stroke="#f47c30" stroke-width="0.9"/>
<circle cx="496.59" cy="111.40" r="1.15" fill="#fff" stroke="#f47c30" stroke-width="0.9"/>
<circle cx="501.39" cy="93.88" r="1.15" fill="#fff" stroke="#f47c30" stroke-width="0.9"/>
<circle cx="506.18" cy="76.36" r="1.15" fill="#fff" stroke="#f47c30" stroke-width="0.9"/>
<circle cx="510.98" cy="66.92" r="1.15" fill="#fff" stroke="#f47c30" stroke-width="0.9"/>
<circle cx="515.77" cy="53.44" r="1.15" fill="#fff" stroke="#f47c30" stroke-width="0.9"/>
<circle cx="520.57" cy="45.35" r="1.15" fill="#fff" stroke="#f47c30" stroke-width="0.9"/>
<circle cx="525.36" cy="46.03" r="1.15" fill="#fff" stroke="#f47c30" stroke-width="0.9"/>
<circle cx="530.15" cy="48.72" r="1.15" fill="#fff" stroke="#f47c30" stroke-width="0.9"/>
<circle cx="534.95" cy="44.00" r="1.15" fill="#fff" stroke="#f47c30" stroke-width="0.9"/>
<circle cx="539.74" cy="38.61" r="1.15" fill="#fff" stroke="#f47c30" stroke-width="0.9"/>
<circle cx="544.54" cy="33.89" r="1.15" fill="#fff" stroke="#f47c30" stroke-width="0.9"/>
<circle cx="549.33" cy="30.52" r="1.15" fill="#fff" stroke="#f47c30" stroke-width="0.9"/>
<circle cx="554.13" cy="27.15" r="1.15" fill="#fff" stroke="#f47c30" stroke-width="0.9"/>
<circle cx="558.92" cy="25.81" r="1.15" fill="#fff" stroke="#f47c30" stroke-width="0.9"/>
<circle cx="563.71" cy="25.81" r="1.15" fill="#fff" stroke="#f47c30" stroke-width="0.9"/>
<circle cx="568.51" cy="26.48" r="1.15" fill="#fff" stroke="#f47c30" stroke-width="0.9"/>
<circle cx="573.30" cy="27.15" r="1.15" fill="#fff" stroke="#f47c30" stroke-width="0.9"/>
<circle cx="578.10" cy="27.83" r="1.15" fill="#fff" stroke="#f47c30" stroke-width="0.9"/>
<circle cx="582.89" cy="28.50" r="1.15" fill="#fff" stroke="#f47c30" stroke-width="0.9"/>
<circle cx="587.69" cy="28.77" r="1.15" fill="#fff" stroke="#f47c30" stroke-width="0.9"/>
<circle cx="592.48" cy="29.18" r="1.15" fill="#fff" stroke="#f47c30" stroke-width="0.9"/>
<circle cx="597.27" cy="29.85" r="1.15" fill="#fff" stroke="#f47c30" stroke-width="0.9"/>
<circle cx="602.07" cy="30.52" r="1.15" fill="#fff" stroke="#f47c30" stroke-width="0.9"/>
<circle cx="606.86" cy="32.55" r="1.15" fill="#fff" stroke="#f47c30" stroke-width="0.9"/>
<circle cx="611.66" cy="35.92" r="1.15" fill="#fff" stroke="#f47c30" stroke-width="0.9"/>
<circle cx="616.45" cy="45.35" r="1.15" fill="#fff" stroke="#f47c30" stroke-width="0.9"/>
<circle cx="621.25" cy="61.53" r="1.15" fill="#fff" stroke="#f47c30" stroke-width="0.9"/>
<circle cx="626.04" cy="95.23" r="1.15" fill="#fff" stroke="#f47c30" stroke-width="0.9"/>
<circle cx="630.83" cy="126.23" r="1.15" fill="#fff" stroke="#f47c30" stroke-width="0.9"/>
<circle cx="635.63" cy="140.39" r="1.15" fill="#fff" stroke="#f47c30" stroke-width="0.9"/>
<circle cx="640.42" cy="145.78" r="1.15" fill="#fff" stroke="#f47c30" stroke-width="0.9"/>
<circle cx="645.22" cy="147.26" r="1.15" fill="#fff" stroke="#f47c30" stroke-width="0.9"/>
<circle cx="650.01" cy="147.67" r="1.15" fill="#fff" stroke="#f47c30" stroke-width="0.9"/>
<circle cx="654.81" cy="147.80" r="1.15" fill="#fff" stroke="#f47c30" stroke-width="0.9"/>
<circle cx="659.60" cy="147.80" r="1.15" fill="#fff" stroke="#f47c30" stroke-width="0.9"/>
<path d="M491.80 144.16 L496.59 127.58 L501.39 111.40 L506.18 103.32 L510.98 92.53 L515.77 67.59 L520.57 50.74 L525.36 47.37 L530.15 47.37 L534.95 43.33 L539.74 37.26 L544.54 31.87 L549.33 29.45 L554.13 28.37 L558.92 28.50 L563.71 28.77 L568.51 29.45 L573.30 27.83 L578.10 28.50 L582.89 28.77 L587.69 29.18 L592.48 29.45 L597.27 29.85 L602.07 30.52 L606.86 31.20 L611.66 31.47 L616.45 41.98 L621.25 57.48 L626.04 89.84 L630.83 122.19 L635.63 137.69 L640.42 144.43 L645.22 146.72 L650.01 147.40 L654.81 147.67 L659.60 147.80" stroke="#000000" stroke-width="1.1" fill="none" stroke-linejoin="round" stroke-linecap="round"/>
<circle cx="491.80" cy="144.16" r="1.15" fill="#fff" stroke="#000000" stroke-width="0.9"/>
<circle cx="496.59" cy="127.58" r="1.15" fill="#fff" stroke="#000000" stroke-width="0.9"/>
<circle cx="501.39" cy="111.40" r="1.15" fill="#fff" stroke="#000000" stroke-width="0.9"/>
<circle cx="506.18" cy="103.32" r="1.15" fill="#fff" stroke="#000000" stroke-width="0.9"/>
<circle cx="510.98" cy="92.53" r="1.15" fill="#fff" stroke="#000000" stroke-width="0.9"/>
<circle cx="515.77" cy="67.59" r="1.15" fill="#fff" stroke="#000000" stroke-width="0.9"/>
<circle cx="520.57" cy="50.74" r="1.15" fill="#fff" stroke="#000000" stroke-width="0.9"/>
<circle cx="525.36" cy="47.37" r="1.15" fill="#fff" stroke="#000000" stroke-width="0.9"/>
<circle cx="530.15" cy="47.37" r="1.15" fill="#fff" stroke="#000000" stroke-width="0.9"/>
<circle cx="534.95" cy="43.33" r="1.15" fill="#fff" stroke="#000000" stroke-width="0.9"/>
<circle cx="539.74" cy="37.26" r="1.15" fill="#fff" stroke="#000000" stroke-width="0.9"/>
<circle cx="544.54" cy="31.87" r="1.15" fill="#fff" stroke="#000000" stroke-width="0.9"/>
<circle cx="549.33" cy="29.45" r="1.15" fill="#fff" stroke="#000000" stroke-width="0.9"/>
<circle cx="554.13" cy="28.37" r="1.15" fill="#fff" stroke="#000000" stroke-width="0.9"/>
<circle cx="558.92" cy="28.50" r="1.15" fill="#fff" stroke="#000000" stroke-width="0.9"/>
<circle cx="563.71" cy="28.77" r="1.15" fill="#fff" stroke="#000000" stroke-width="0.9"/>
<circle cx="568.51" cy="29.45" r="1.15" fill="#fff" stroke="#000000" stroke-width="0.9"/>
<circle cx="573.30" cy="27.83" r="1.15" fill="#fff" stroke="#000000" stroke-width="0.9"/>
<circle cx="578.10" cy="28.50" r="1.15" fill="#fff" stroke="#000000" stroke-width="0.9"/>
<circle cx="582.89" cy="28.77" r="1.15" fill="#fff" stroke="#000000" stroke-width="0.9"/>
<circle cx="587.69" cy="29.18" r="1.15" fill="#fff" stroke="#000000" stroke-width="0.9"/>
<circle cx="592.48" cy="29.45" r="1.15" fill="#fff" stroke="#000000" stroke-width="0.9"/>
<circle cx="597.27" cy="29.85" r="1.15" fill="#fff" stroke="#000000" stroke-width="0.9"/>
<circle cx="602.07" cy="30.52" r="1.15" fill="#fff" stroke="#000000" stroke-width="0.9"/>
<circle cx="606.86" cy="31.20" r="1.15" fill="#fff" stroke="#000000" stroke-width="0.9"/>
<circle cx="611.66" cy="31.47" r="1.15" fill="#fff" stroke="#000000" stroke-width="0.9"/>
<circle cx="616.45" cy="41.98" r="1.15" fill="#fff" stroke="#000000" stroke-width="0.9"/>
<circle cx="621.25" cy="57.48" r="1.15" fill="#fff" stroke="#000000" stroke-width="0.9"/>
<circle cx="626.04" cy="89.84" r="1.15" fill="#fff" stroke="#000000" stroke-width="0.9"/>
<circle cx="630.83" cy="122.19" r="1.15" fill="#fff" stroke="#000000" stroke-width="0.9"/>
<circle cx="635.63" cy="137.69" r="1.15" fill="#fff" stroke="#000000" stroke-width="0.9"/>
<circle cx="640.42" cy="144.43" r="1.15" fill="#fff" stroke="#000000" stroke-width="0.9"/>
<circle cx="645.22" cy="146.72" r="1.15" fill="#fff" stroke="#000000" stroke-width="0.9"/>
<circle cx="650.01" cy="147.40" r="1.15" fill="#fff" stroke="#000000" stroke-width="0.9"/>
<circle cx="654.81" cy="147.67" r="1.15" fill="#fff" stroke="#000000" stroke-width="0.9"/>
<circle cx="659.60" cy="147.80" r="1.15" fill="#fff" stroke="#000000" stroke-width="0.9"/>
<path d="M491.45 147.45 L492.29 147.45 L493.14 147.44 L493.98 147.42 L494.82 147.40 L495.67 147.38 L496.51 147.35 L497.35 147.31 L498.20 147.28 L499.04 147.23 L499.88 147.19 L500.73 147.13 L501.57 147.08 L502.41 147.02 L503.26 146.97 L504.10 146.89 L504.94 146.78 L505.78 146.64 L506.63 146.47 L507.47 146.27 L508.31 146.05 L509.16 145.80 L510.00 145.53 L510.84 145.24 L511.69 144.94 L512.53 144.62 L513.37 144.29 L514.22 143.95 L515.06 143.61 L515.90 143.26 L516.75 142.86 L517.59 142.42 L518.43 141.94 L519.28 141.42 L520.12 140.87 L520.96 140.29 L521.81 139.68 L522.65 139.05 L523.49 138.40 L524.34 137.73 L525.18 137.06 L526.02 136.38 L526.87 135.69 L527.71 135.00 L528.55 134.30 L529.39 133.57 L530.24 132.82 L531.08 132.05 L531.92 131.25 L532.77 130.44 L533.61 129.60 L534.45 128.74 L535.30 127.86 L536.14 126.96 L536.98 126.04 L537.83 125.10 L538.67 124.14 L539.51 123.16 L540.36 122.13 L541.20 121.05 L542.04 119.91 L542.89 118.74 L543.73 117.53 L544.57 116.29 L545.42 115.04 L546.26 113.78 L547.10 112.51 L547.95 111.25 L548.79 110.01 L549.63 108.79 L550.48 107.60 L551.32 106.45 L552.16 105.33 L553.00 104.21 L553.85 103.11 L554.69 102.01 L555.53 100.93 L556.38 99.85 L557.22 98.78 L558.06 97.72 L558.91 96.66 L559.75 95.61 L560.59 94.57 L561.44 93.53 L562.28 92.50 L563.12 91.47 L563.97 90.45 L564.81 89.45 L565.65 88.46 L566.50 87.48 L567.34 86.50 L568.18 85.54 L569.03 84.57 L569.87 83.61 L570.71 82.65 L571.56 81.68 L572.40 80.71 L573.24 79.73 L574.09 78.74 L574.93 77.74 L575.77 76.73 L576.61 75.71 L577.46 74.68 L578.30 73.64 L579.14 72.60 L579.99 71.55 L580.83 70.50 L581.67 69.45 L582.52 68.39 L583.36 67.33 L584.20 66.26 L585.05 65.20 L585.89 64.13 L586.73 63.06 L587.58 61.99 L588.42 60.91 L589.26 59.83 L590.11 58.73 L590.95 57.63 L591.79 56.53 L592.64 55.42 L593.48 54.32 L594.32 53.21 L595.17 52.12 L596.01 51.03 L596.85 49.95 L597.70 48.88 L598.54 47.83 L599.38 46.79 L600.22 45.75 L601.07 44.72 L601.91 43.69 L602.75 42.67 L603.60 41.64 L604.44 40.63 L605.28 39.63 L606.13 38.63 L606.97 37.66 L607.81 36.69 L608.66 35.75 L609.50 34.82 L610.34 33.92 L611.19 33.04 L612.03 32.18 L612.87 31.31 L613.72 30.45 L614.56 29.59 L615.40 28.75 L616.25 27.91 L617.09 27.10 L617.93 26.30 L618.78 25.53 L619.62 24.79 L620.46 24.07 L621.31 23.40 L622.15 22.76 L622.99 22.16 L623.83 21.60 L624.68 21.05 L625.52 20.50 L626.36 20.00 L627.21 19.54 L628.05 19.15 L628.89 18.84 L629.74 18.61 L630.58 18.41 L631.42 18.23 L632.27 18.07 L633.11 17.93 L633.95 17.83 L634.80 17.75 L635.64 17.71 L636.48 17.68 L637.33 17.65 L638.17 17.63 L639.01 17.60 L639.86 17.58 L640.70 17.56 L641.54 17.54 L642.39 17.52 L643.23 17.51 L644.07 17.50 L644.92 17.49 L645.76 17.48 L646.60 17.48 L647.44 17.48 L648.29 17.48 L649.13 17.48 L649.97 17.48 L650.82 17.48 L651.66 17.48 L652.50 17.48 L653.35 17.48 L654.19 17.48 L655.03 17.48 L655.88 17.48 L656.72 17.48 L657.56 17.48 L658.41 17.48 L659.25 17.48" stroke="#4cae52" stroke-width="1.3" fill="none" stroke-linejoin="round" stroke-linecap="round" stroke-dasharray="4.3 2.6" stroke-linecap="butt"/>
<path d="M492.30 148.30 L493.14 148.30 L493.99 148.29 L494.83 148.27 L495.67 148.25 L496.52 148.23 L497.36 148.20 L498.20 148.16 L499.05 148.13 L499.89 148.08 L500.73 148.04 L501.58 147.98 L502.42 147.93 L503.26 147.87 L504.11 147.82 L504.95 147.74 L505.79 147.63 L506.63 147.49 L507.48 147.32 L508.32 147.12 L509.16 146.90 L510.01 146.65 L510.85 146.38 L511.69 146.09 L512.54 145.79 L513.38 145.47 L514.22 145.14 L515.07 144.80 L515.91 144.46 L516.75 144.11 L517.60 143.71 L518.44 143.27 L519.28 142.79 L520.13 142.27 L520.97 141.72 L521.81 141.14 L522.66 140.53 L523.50 139.90 L524.34 139.25 L525.19 138.58 L526.03 137.91 L526.87 137.23 L527.72 136.54 L528.56 135.85 L529.40 135.15 L530.24 134.42 L531.09 133.67 L531.93 132.90 L532.77 132.10 L533.62 131.29 L534.46 130.45 L535.30 129.59 L536.15 128.71 L536.99 127.81 L537.83 126.89 L538.68 125.95 L539.52 124.99 L540.36 124.01 L541.21 122.98 L542.05 121.90 L542.89 120.76 L543.74 119.59 L544.58 118.38 L545.42 117.14 L546.27 115.89 L547.11 114.63 L547.95 113.36 L548.80 112.10 L549.64 110.86 L550.48 109.64 L551.33 108.45 L552.17 107.30 L553.01 106.18 L553.85 105.06 L554.70 103.96 L555.54 102.86 L556.38 101.78 L557.23 100.70 L558.07 99.63 L558.91 98.57 L559.76 97.51 L560.60 96.46 L561.44 95.42 L562.29 94.38 L563.13 93.35 L563.97 92.32 L564.82 91.30 L565.66 90.30 L566.50 89.31 L567.35 88.33 L568.19 87.35 L569.03 86.39 L569.88 85.42 L570.72 84.46 L571.56 83.50 L572.41 82.53 L573.25 81.56 L574.09 80.58 L574.94 79.59 L575.78 78.59 L576.62 77.58 L577.46 76.56 L578.31 75.53 L579.15 74.49 L579.99 73.45 L580.84 72.40 L581.68 71.35 L582.52 70.30 L583.37 69.24 L584.21 68.18 L585.05 67.11 L585.90 66.05 L586.74 64.98 L587.58 63.91 L588.43 62.84 L589.27 61.76 L590.11 60.68 L590.96 59.58 L591.80 58.48 L592.64 57.38 L593.49 56.27 L594.33 55.17 L595.17 54.06 L596.02 52.97 L596.86 51.88 L597.70 50.80 L598.55 49.73 L599.39 48.68 L600.23 47.64 L601.07 46.60 L601.92 45.57 L602.76 44.54 L603.60 43.52 L604.45 42.49 L605.29 41.48 L606.13 40.48 L606.98 39.48 L607.82 38.51 L608.66 37.54 L609.51 36.60 L610.35 35.67 L611.19 34.77 L612.04 33.89 L612.88 33.03 L613.72 32.16 L614.57 31.30 L615.41 30.44 L616.25 29.60 L617.10 28.76 L617.94 27.95 L618.78 27.15 L619.63 26.38 L620.47 25.64 L621.31 24.92 L622.16 24.25 L623.00 23.61 L623.84 23.01 L624.68 22.45 L625.53 21.90 L626.37 21.35 L627.21 20.85 L628.06 20.39 L628.90 20.00 L629.74 19.69 L630.59 19.46 L631.43 19.26 L632.27 19.08 L633.12 18.92 L633.96 18.78 L634.80 18.68 L635.65 18.60 L636.49 18.56 L637.33 18.53 L638.18 18.50 L639.02 18.48 L639.86 18.45 L640.71 18.43 L641.55 18.41 L642.39 18.39 L643.24 18.37 L644.08 18.36 L644.92 18.35 L645.77 18.34 L646.61 18.33 L647.45 18.33 L648.29 18.33 L649.14 18.33 L649.98 18.33 L650.82 18.33 L651.67 18.33 L652.51 18.33 L653.35 18.33 L654.20 18.33 L655.04 18.33 L655.88 18.33 L656.73 18.33 L657.57 18.33 L658.41 18.33 L659.26 18.33 L660.10 18.33" stroke="#f47c30" stroke-width="1.5" fill="none" stroke-linejoin="round" stroke-linecap="round" stroke-dasharray="4.3 2.6" stroke-linecap="butt"/>
<path d="M491.80 147.80 L492.64 147.80 L493.49 147.79 L494.33 147.77 L495.17 147.75 L496.02 147.73 L496.86 147.70 L497.70 147.66 L498.55 147.63 L499.39 147.58 L500.23 147.54 L501.08 147.48 L501.92 147.43 L502.76 147.37 L503.61 147.32 L504.45 147.24 L505.29 147.13 L506.13 146.99 L506.98 146.82 L507.82 146.62 L508.66 146.40 L509.51 146.15 L510.35 145.88 L511.19 145.59 L512.04 145.29 L512.88 144.97 L513.72 144.64 L514.57 144.30 L515.41 143.96 L516.25 143.61 L517.10 143.21 L517.94 142.77 L518.78 142.29 L519.63 141.77 L520.47 141.22 L521.31 140.64 L522.16 140.03 L523.00 139.40 L523.84 138.75 L524.69 138.08 L525.53 137.41 L526.37 136.73 L527.22 136.04 L528.06 135.35 L528.90 134.65 L529.74 133.92 L530.59 133.17 L531.43 132.40 L532.27 131.60 L533.12 130.79 L533.96 129.95 L534.80 129.09 L535.65 128.21 L536.49 127.31 L537.33 126.39 L538.18 125.45 L539.02 124.49 L539.86 123.51 L540.71 122.48 L541.55 121.40 L542.39 120.26 L543.24 119.09 L544.08 117.88 L544.92 116.64 L545.77 115.39 L546.61 114.13 L547.45 112.86 L548.30 111.60 L549.14 110.36 L549.98 109.14 L550.83 107.95 L551.67 106.80 L552.51 105.68 L553.35 104.56 L554.20 103.46 L555.04 102.36 L555.88 101.28 L556.73 100.20 L557.57 99.13 L558.41 98.07 L559.26 97.01 L560.10 95.96 L560.94 94.92 L561.79 93.88 L562.63 92.85 L563.47 91.82 L564.32 90.80 L565.16 89.80 L566.00 88.81 L566.85 87.83 L567.69 86.85 L568.53 85.89 L569.38 84.92 L570.22 83.96 L571.06 83.00 L571.91 82.03 L572.75 81.06 L573.59 80.08 L574.44 79.09 L575.28 78.09 L576.12 77.08 L576.96 76.06 L577.81 75.03 L578.65 73.99 L579.49 72.95 L580.34 71.90 L581.18 70.85 L582.02 69.80 L582.87 68.74 L583.71 67.68 L584.55 66.61 L585.40 65.55 L586.24 64.48 L587.08 63.41 L587.93 62.34 L588.77 61.26 L589.61 60.18 L590.46 59.08 L591.30 57.98 L592.14 56.88 L592.99 55.77 L593.83 54.67 L594.67 53.56 L595.52 52.47 L596.36 51.38 L597.20 50.30 L598.05 49.23 L598.89 48.18 L599.73 47.14 L600.57 46.10 L601.42 45.07 L602.26 44.04 L603.10 43.02 L603.95 41.99 L604.79 40.98 L605.63 39.98 L606.48 38.98 L607.32 38.01 L608.16 37.04 L609.01 36.10 L609.85 35.17 L610.69 34.27 L611.54 33.39 L612.38 32.53 L613.22 31.66 L614.07 30.80 L614.91 29.94 L615.75 29.10 L616.60 28.26 L617.44 27.45 L618.28 26.65 L619.13 25.88 L619.97 25.14 L620.81 24.42 L621.66 23.75 L622.50 23.11 L623.34 22.51 L624.18 21.95 L625.03 21.40 L625.87 20.85 L626.71 20.35 L627.56 19.89 L628.40 19.50 L629.24 19.19 L630.09 18.96 L630.93 18.76 L631.77 18.58 L632.62 18.42 L633.46 18.28 L634.30 18.18 L635.15 18.10 L635.99 18.06 L636.83 18.03 L637.68 18.00 L638.52 17.98 L639.36 17.95 L640.21 17.93 L641.05 17.91 L641.89 17.89 L642.74 17.87 L643.58 17.86 L644.42 17.85 L645.27 17.84 L646.11 17.83 L646.95 17.83 L647.79 17.83 L648.64 17.83 L649.48 17.83 L650.32 17.83 L651.17 17.83 L652.01 17.83 L652.85 17.83 L653.70 17.83 L654.54 17.83 L655.38 17.83 L656.23 17.83 L657.07 17.83 L657.91 17.83 L658.76 17.83 L659.60 17.83" stroke="#000000" stroke-width="1.15" fill="none" stroke-linejoin="round" stroke-linecap="round" stroke-dasharray="4.3 2.6" stroke-linecap="butt"/>
</g>
<rect x="491.80" y="13.00" width="167.80" height="134.80" fill="none" stroke="#000" stroke-width="1.7"/>
<path d="M491.80 147.80v-3.0M515.77 147.80v-3.0M539.74 147.80v-3.0M563.71 147.80v-3.0M587.69 147.80v-3.0M611.66 147.80v-3.0M635.63 147.80v-3.0M659.60 147.80v-3.0M503.79 147.80v-1.8M527.76 147.80v-1.8M551.73 147.80v-1.8M575.70 147.80v-1.8M599.67 147.80v-1.8M623.64 147.80v-1.8M647.61 147.80v-1.8" stroke="#000" stroke-width="1.1" fill="none"/>
<path d="M491.80 147.80h3.0M491.80 120.84h3.0M491.80 93.88h3.0M491.80 66.92h3.0M491.80 39.96h3.0M491.80 13.00h3.0M491.80 134.32h1.8M491.80 107.36h1.8M491.80 80.40h1.8M491.80 53.44h1.8M491.80 26.48h1.8" stroke="#000" stroke-width="1.1" fill="none"/>
<path d="M659.60 147.80h-3M659.60 122.90h-3M659.60 98.00h-3M659.60 73.10h-3M659.60 48.21h-3M659.60 23.31h-3M659.60 135.35h-1.8M659.60 110.45h-1.8M659.60 85.55h-1.8M659.60 60.66h-1.8M659.60 35.76h-1.8" stroke="#000" stroke-width="1.1"/>
<text x="493.50" y="158.00" font-size="8.6" text-anchor="middle" fill="#000">300</text>
<text x="517.47" y="158.00" font-size="8.6" text-anchor="middle" fill="#000">400</text>
<text x="541.44" y="158.00" font-size="8.6" text-anchor="middle" fill="#000">500</text>
<text x="565.41" y="158.00" font-size="8.6" text-anchor="middle" fill="#000">600</text>
<text x="589.39" y="158.00" font-size="8.6" text-anchor="middle" fill="#000">700</text>
<text x="613.36" y="158.00" font-size="8.6" text-anchor="middle" fill="#000">800</text>
<text x="637.33" y="158.00" font-size="8.6" text-anchor="middle" fill="#000">900</text>
<text x="661.30" y="158.00" font-size="8.6" text-anchor="middle" fill="#000">1000</text>
<text x="489.50" y="150.80" font-size="8.6" text-anchor="end" fill="#000">0</text>
<text x="489.50" y="123.84" font-size="8.6" text-anchor="end" fill="#000">20</text>
<text x="489.50" y="96.88" font-size="8.6" text-anchor="end" fill="#000">40</text>
<text x="489.50" y="69.92" font-size="8.6" text-anchor="end" fill="#000">60</text>
<text x="489.50" y="42.96" font-size="8.6" text-anchor="end" fill="#000">80</text>
<text x="489.50" y="16.00" font-size="8.6" text-anchor="end" fill="#000">100</text>
<text x="662.30" y="150.80" font-size="8.6" text-anchor="start" fill="#000">0</text>
<text x="662.30" y="125.90" font-size="8.6" text-anchor="start" fill="#000">5</text>
<text x="662.30" y="101.00" font-size="8.6" text-anchor="start" fill="#000">10</text>
<text x="662.30" y="76.10" font-size="8.6" text-anchor="start" fill="#000">15</text>
<text x="662.30" y="51.21" font-size="8.6" text-anchor="start" fill="#000">20</text>
<text x="662.30" y="26.31" font-size="8.6" text-anchor="start" fill="#000">25</text>
<text x="575.70" y="172.40" font-size="8.8" text-anchor="middle" fill="#000">Wavelength (nm)</text>
<text x="467.40" y="80.70" font-size="8.8" text-anchor="middle" fill="#000" transform="rotate(-90.00 467.40 80.70)">EQE (%)</text>
<text x="683.00" y="85.30" font-size="9.0" text-anchor="middle" fill="#000" transform="rotate(-90.00 683.00 85.30)">Integrated <tspan font-style="italic">J</tspan><tspan font-size="6.0" dy="2.0">sc</tspan><tspan dy="-2.0"> (mA cm</tspan><tspan font-size="5.5" dy="-3.2">-2</tspan><tspan dy="3.2">)</tspan></text>
<rect x="537" y="81" width="68" height="41.5" fill="#fff" fill-opacity="0.55"/>
<line x1="539" y1="86.7" x2="558.8" y2="86.7" stroke="#3a3a3a" stroke-width="1.1"/>
<text x="558.60" y="89.60" font-size="8.2" text-anchor="start" fill="#000">PM6:L8-BO</text>
<line x1="539" y1="96.9" x2="558.8" y2="96.9" stroke="#a996d6" stroke-width="1.5"/>
<text x="558.60" y="99.80" font-size="8.2" text-anchor="start" fill="#000">S1:L8-BO</text>
<line x1="539" y1="107.2" x2="558.8" y2="107.2" stroke="#7fc784" stroke-width="1.2"/>
<text x="558.60" y="110.10" font-size="8.2" text-anchor="start" fill="#000">S2:L8-BO</text>
<line x1="539" y1="117.5" x2="558.8" y2="117.5" stroke="#f8b48d" stroke-width="2.0"/>
<text x="558.60" y="120.40" font-size="8.2" text-anchor="start" fill="#000">S3:L8-BO</text>
<text x="1.60" y="193.30" font-size="13.5" text-anchor="start" fill="#000">d</text>
<clipPath id="cd"><rect x="29.90" y="196.90" width="166.30" height="134.30"/></clipPath>
<g clip-path="url(#cd)">
<path d="M47.80 310.29 L72.10 260.46 L86.31 235.85 L96.39 224.55 L104.21 222.13 L110.60 221.67 L116.00 221.55 L120.68 221.54 L124.81 221.54 L128.50 221.53 L131.84 221.53 L134.89 221.52 L137.70 221.52 L140.30 221.52 L142.71 221.51 L144.98 221.51 L147.10 221.51 L149.10 221.50 L151.00 221.50 L152.80 221.50 L154.51 221.50 L156.14 221.49 L157.70 221.49 L159.19 221.49 L160.62 221.49 L161.99 221.48 L163.32 221.48 L164.59 221.48 L165.82 221.48 L167.01 221.48 L168.16 221.48 L169.27 221.47 L170.35 221.47 L171.39 221.47 L172.41 221.47 L173.40 221.47 L174.36 221.47 L175.29 221.47 L176.20 221.46 L177.09 221.46 L177.96 221.46 L178.80 221.46 L179.63 221.46 L180.43 221.46 L181.22 221.46 L181.99 221.46 L182.74 221.46 L183.48 221.45 L184.20 221.45 L184.91 221.45 L185.61 221.45 L186.29 221.45 L186.95 221.45 L187.61 221.45 L188.25 221.45 L188.88 221.45 L189.50 221.45 L190.11 221.45 L190.71 221.44 L191.30 221.44" stroke="#7b5cb0" stroke-width="1.4" fill="none" stroke-linejoin="round" stroke-linecap="round"/>
<circle cx="47.80" cy="310.29" r="1.05" fill="none" stroke="#7b5cb0" stroke-width="0.95"/>
<circle cx="72.10" cy="260.46" r="1.05" fill="none" stroke="#7b5cb0" stroke-width="0.95"/>
<circle cx="86.31" cy="235.85" r="1.05" fill="none" stroke="#7b5cb0" stroke-width="0.95"/>
<circle cx="96.39" cy="224.55" r="1.05" fill="none" stroke="#7b5cb0" stroke-width="0.95"/>
<circle cx="104.21" cy="222.13" r="1.05" fill="none" stroke="#7b5cb0" stroke-width="0.95"/>
<circle cx="110.60" cy="221.67" r="1.05" fill="none" stroke="#7b5cb0" stroke-width="0.95"/>
<circle cx="116.00" cy="221.55" r="1.05" fill="none" stroke="#7b5cb0" stroke-width="0.95"/>
<circle cx="120.68" cy="221.54" r="1.05" fill="none" stroke="#7b5cb0" stroke-width="0.95"/>
<circle cx="124.81" cy="221.54" r="1.05" fill="none" stroke="#7b5cb0" stroke-width="0.95"/>
<circle cx="128.50" cy="221.53" r="1.05" fill="none" stroke="#7b5cb0" stroke-width="0.95"/>
<circle cx="131.84" cy="221.53" r="1.05" fill="none" stroke="#7b5cb0" stroke-width="0.95"/>
<circle cx="134.89" cy="221.52" r="1.05" fill="none" stroke="#7b5cb0" stroke-width="0.95"/>
<circle cx="137.70" cy="221.52" r="1.05" fill="none" stroke="#7b5cb0" stroke-width="0.95"/>
<circle cx="140.30" cy="221.52" r="1.05" fill="none" stroke="#7b5cb0" stroke-width="0.95"/>
<circle cx="142.71" cy="221.51" r="1.05" fill="none" stroke="#7b5cb0" stroke-width="0.95"/>
<circle cx="144.98" cy="221.51" r="1.05" fill="none" stroke="#7b5cb0" stroke-width="0.95"/>
<circle cx="147.10" cy="221.51" r="1.05" fill="none" stroke="#7b5cb0" stroke-width="0.95"/>
<circle cx="149.10" cy="221.50" r="1.05" fill="none" stroke="#7b5cb0" stroke-width="0.95"/>
<circle cx="151.00" cy="221.50" r="1.05" fill="none" stroke="#7b5cb0" stroke-width="0.95"/>
<circle cx="152.80" cy="221.50" r="1.05" fill="none" stroke="#7b5cb0" stroke-width="0.95"/>
<circle cx="154.51" cy="221.50" r="1.05" fill="none" stroke="#7b5cb0" stroke-width="0.95"/>
<circle cx="156.14" cy="221.49" r="1.05" fill="none" stroke="#7b5cb0" stroke-width="0.95"/>
<circle cx="157.70" cy="221.49" r="1.05" fill="none" stroke="#7b5cb0" stroke-width="0.95"/>
<circle cx="159.19" cy="221.49" r="1.05" fill="none" stroke="#7b5cb0" stroke-width="0.95"/>
<circle cx="160.62" cy="221.49" r="1.05" fill="none" stroke="#7b5cb0" stroke-width="0.95"/>
<circle cx="161.99" cy="221.48" r="1.05" fill="none" stroke="#7b5cb0" stroke-width="0.95"/>
<circle cx="163.32" cy="221.48" r="1.05" fill="none" stroke="#7b5cb0" stroke-width="0.95"/>
<circle cx="164.59" cy="221.48" r="1.05" fill="none" stroke="#7b5cb0" stroke-width="0.95"/>
<circle cx="165.82" cy="221.48" r="1.05" fill="none" stroke="#7b5cb0" stroke-width="0.95"/>
<circle cx="167.01" cy="221.48" r="1.05" fill="none" stroke="#7b5cb0" stroke-width="0.95"/>
<circle cx="168.16" cy="221.48" r="1.05" fill="none" stroke="#7b5cb0" stroke-width="0.95"/>
<circle cx="169.27" cy="221.47" r="1.05" fill="none" stroke="#7b5cb0" stroke-width="0.95"/>
<circle cx="170.35" cy="221.47" r="1.05" fill="none" stroke="#7b5cb0" stroke-width="0.95"/>
<circle cx="171.39" cy="221.47" r="1.05" fill="none" stroke="#7b5cb0" stroke-width="0.95"/>
<circle cx="172.41" cy="221.47" r="1.05" fill="none" stroke="#7b5cb0" stroke-width="0.95"/>
<circle cx="173.40" cy="221.47" r="1.05" fill="none" stroke="#7b5cb0" stroke-width="0.95"/>
<circle cx="174.36" cy="221.47" r="1.05" fill="none" stroke="#7b5cb0" stroke-width="0.95"/>
<circle cx="175.29" cy="221.47" r="1.05" fill="none" stroke="#7b5cb0" stroke-width="0.95"/>
<circle cx="176.20" cy="221.46" r="1.05" fill="none" stroke="#7b5cb0" stroke-width="0.95"/>
<circle cx="177.09" cy="221.46" r="1.05" fill="none" stroke="#7b5cb0" stroke-width="0.95"/>
<circle cx="177.96" cy="221.46" r="1.05" fill="none" stroke="#7b5cb0" stroke-width="0.95"/>
<circle cx="178.80" cy="221.46" r="1.05" fill="none" stroke="#7b5cb0" stroke-width="0.95"/>
<circle cx="179.63" cy="221.46" r="1.05" fill="none" stroke="#7b5cb0" stroke-width="0.95"/>
<circle cx="180.43" cy="221.46" r="1.05" fill="none" stroke="#7b5cb0" stroke-width="0.95"/>
<circle cx="181.22" cy="221.46" r="1.05" fill="none" stroke="#7b5cb0" stroke-width="0.95"/>
<circle cx="181.99" cy="221.46" r="1.05" fill="none" stroke="#7b5cb0" stroke-width="0.95"/>
<circle cx="182.74" cy="221.46" r="1.05" fill="none" stroke="#7b5cb0" stroke-width="0.95"/>
<circle cx="183.48" cy="221.45" r="1.05" fill="none" stroke="#7b5cb0" stroke-width="0.95"/>
<circle cx="184.20" cy="221.45" r="1.05" fill="none" stroke="#7b5cb0" stroke-width="0.95"/>
<circle cx="184.91" cy="221.45" r="1.05" fill="none" stroke="#7b5cb0" stroke-width="0.95"/>
<circle cx="185.61" cy="221.45" r="1.05" fill="none" stroke="#7b5cb0" stroke-width="0.95"/>
<circle cx="186.29" cy="221.45" r="1.05" fill="none" stroke="#7b5cb0" stroke-width="0.95"/>
<circle cx="186.95" cy="221.45" r="1.05" fill="none" stroke="#7b5cb0" stroke-width="0.95"/>
<circle cx="187.61" cy="221.45" r="1.05" fill="none" stroke="#7b5cb0" stroke-width="0.95"/>
<circle cx="188.25" cy="221.45" r="1.05" fill="none" stroke="#7b5cb0" stroke-width="0.95"/>
<circle cx="188.88" cy="221.45" r="1.05" fill="none" stroke="#7b5cb0" stroke-width="0.95"/>
<circle cx="189.50" cy="221.45" r="1.05" fill="none" stroke="#7b5cb0" stroke-width="0.95"/>
<circle cx="190.11" cy="221.45" r="1.05" fill="none" stroke="#7b5cb0" stroke-width="0.95"/>
<circle cx="190.71" cy="221.44" r="1.05" fill="none" stroke="#7b5cb0" stroke-width="0.95"/>
<circle cx="191.30" cy="221.44" r="1.05" fill="none" stroke="#7b5cb0" stroke-width="0.95"/>
<path d="M47.80 316.22 L72.10 269.00 L86.31 243.51 L96.39 229.75 L104.21 224.05 L110.60 222.13 L116.00 221.66 L120.68 221.66 L124.81 221.65 L128.50 221.65 L131.84 221.64 L134.89 221.64 L137.70 221.63 L140.30 221.63 L142.71 221.63 L144.98 221.62 L147.10 221.62 L149.10 221.62 L151.00 221.61 L152.80 221.61 L154.51 221.61 L156.14 221.61 L157.70 221.60 L159.19 221.60 L160.62 221.60 L161.99 221.60 L163.32 221.60 L164.59 221.59 L165.82 221.59 L167.01 221.59 L168.16 221.59 L169.27 221.59 L170.35 221.59 L171.39 221.59 L172.41 221.58 L173.40 221.58 L174.36 221.58 L175.29 221.58 L176.20 221.58 L177.09 221.58 L177.96 221.58 L178.80 221.57 L179.63 221.57 L180.43 221.57 L181.22 221.57 L181.99 221.57 L182.74 221.57 L183.48 221.57 L184.20 221.57 L184.91 221.57 L185.61 221.57 L186.29 221.56 L186.95 221.56 L187.61 221.56 L188.25 221.56 L188.88 221.56 L189.50 221.56 L190.11 221.56 L190.71 221.56 L191.30 221.56" stroke="#f47c30" stroke-width="1.4" fill="none" stroke-linejoin="round" stroke-linecap="round"/>
<circle cx="47.80" cy="316.22" r="1.05" fill="none" stroke="#f47c30" stroke-width="0.95"/>
<circle cx="72.10" cy="269.00" r="1.05" fill="none" stroke="#f47c30" stroke-width="0.95"/>
<circle cx="86.31" cy="243.51" r="1.05" fill="none" stroke="#f47c30" stroke-width="0.95"/>
<circle cx="96.39" cy="229.75" r="1.05" fill="none" stroke="#f47c30" stroke-width="0.95"/>
<circle cx="104.21" cy="224.05" r="1.05" fill="none" stroke="#f47c30" stroke-width="0.95"/>
<circle cx="110.60" cy="222.13" r="1.05" fill="none" stroke="#f47c30" stroke-width="0.95"/>
<circle cx="116.00" cy="221.66" r="1.05" fill="none" stroke="#f47c30" stroke-width="0.95"/>
<circle cx="120.68" cy="221.66" r="1.05" fill="none" stroke="#f47c30" stroke-width="0.95"/>
<circle cx="124.81" cy="221.65" r="1.05" fill="none" stroke="#f47c30" stroke-width="0.95"/>
<circle cx="128.50" cy="221.65" r="1.05" fill="none" stroke="#f47c30" stroke-width="0.95"/>
<circle cx="131.84" cy="221.64" r="1.05" fill="none" stroke="#f47c30" stroke-width="0.95"/>
<circle cx="134.89" cy="221.64" r="1.05" fill="none" stroke="#f47c30" stroke-width="0.95"/>
<circle cx="137.70" cy="221.63" r="1.05" fill="none" stroke="#f47c30" stroke-width="0.95"/>
<circle cx="140.30" cy="221.63" r="1.05" fill="none" stroke="#f47c30" stroke-width="0.95"/>
<circle cx="142.71" cy="221.63" r="1.05" fill="none" stroke="#f47c30" stroke-width="0.95"/>
<circle cx="144.98" cy="221.62" r="1.05" fill="none" stroke="#f47c30" stroke-width="0.95"/>
<circle cx="147.10" cy="221.62" r="1.05" fill="none" stroke="#f47c30" stroke-width="0.95"/>
<circle cx="149.10" cy="221.62" r="1.05" fill="none" stroke="#f47c30" stroke-width="0.95"/>
<circle cx="151.00" cy="221.61" r="1.05" fill="none" stroke="#f47c30" stroke-width="0.95"/>
<circle cx="152.80" cy="221.61" r="1.05" fill="none" stroke="#f47c30" stroke-width="0.95"/>
<circle cx="154.51" cy="221.61" r="1.05" fill="none" stroke="#f47c30" stroke-width="0.95"/>
<circle cx="156.14" cy="221.61" r="1.05" fill="none" stroke="#f47c30" stroke-width="0.95"/>
<circle cx="157.70" cy="221.60" r="1.05" fill="none" stroke="#f47c30" stroke-width="0.95"/>
<circle cx="159.19" cy="221.60" r="1.05" fill="none" stroke="#f47c30" stroke-width="0.95"/>
<circle cx="160.62" cy="221.60" r="1.05" fill="none" stroke="#f47c30" stroke-width="0.95"/>
<circle cx="161.99" cy="221.60" r="1.05" fill="none" stroke="#f47c30" stroke-width="0.95"/>
<circle cx="163.32" cy="221.60" r="1.05" fill="none" stroke="#f47c30" stroke-width="0.95"/>
<circle cx="164.59" cy="221.59" r="1.05" fill="none" stroke="#f47c30" stroke-width="0.95"/>
<circle cx="165.82" cy="221.59" r="1.05" fill="none" stroke="#f47c30" stroke-width="0.95"/>
<circle cx="167.01" cy="221.59" r="1.05" fill="none" stroke="#f47c30" stroke-width="0.95"/>
<circle cx="168.16" cy="221.59" r="1.05" fill="none" stroke="#f47c30" stroke-width="0.95"/>
<circle cx="169.27" cy="221.59" r="1.05" fill="none" stroke="#f47c30" stroke-width="0.95"/>
<circle cx="170.35" cy="221.59" r="1.05" fill="none" stroke="#f47c30" stroke-width="0.95"/>
<circle cx="171.39" cy="221.59" r="1.05" fill="none" stroke="#f47c30" stroke-width="0.95"/>
<circle cx="172.41" cy="221.58" r="1.05" fill="none" stroke="#f47c30" stroke-width="0.95"/>
<circle cx="173.40" cy="221.58" r="1.05" fill="none" stroke="#f47c30" stroke-width="0.95"/>
<circle cx="174.36" cy="221.58" r="1.05" fill="none" stroke="#f47c30" stroke-width="0.95"/>
<circle cx="175.29" cy="221.58" r="1.05" fill="none" stroke="#f47c30" stroke-width="0.95"/>
<circle cx="176.20" cy="221.58" r="1.05" fill="none" stroke="#f47c30" stroke-width="0.95"/>
<circle cx="177.09" cy="221.58" r="1.05" fill="none" stroke="#f47c30" stroke-width="0.95"/>
<circle cx="177.96" cy="221.58" r="1.05" fill="none" stroke="#f47c30" stroke-width="0.95"/>
<circle cx="178.80" cy="221.57" r="1.05" fill="none" stroke="#f47c30" stroke-width="0.95"/>
<circle cx="179.63" cy="221.57" r="1.05" fill="none" stroke="#f47c30" stroke-width="0.95"/>
<circle cx="180.43" cy="221.57" r="1.05" fill="none" stroke="#f47c30" stroke-width="0.95"/>
<circle cx="181.22" cy="221.57" r="1.05" fill="none" stroke="#f47c30" stroke-width="0.95"/>
<circle cx="181.99" cy="221.57" r="1.05" fill="none" stroke="#f47c30" stroke-width="0.95"/>
<circle cx="182.74" cy="221.57" r="1.05" fill="none" stroke="#f47c30" stroke-width="0.95"/>
<circle cx="183.48" cy="221.57" r="1.05" fill="none" stroke="#f47c30" stroke-width="0.95"/>
<circle cx="184.20" cy="221.57" r="1.05" fill="none" stroke="#f47c30" stroke-width="0.95"/>
<circle cx="184.91" cy="221.57" r="1.05" fill="none" stroke="#f47c30" stroke-width="0.95"/>
<circle cx="185.61" cy="221.57" r="1.05" fill="none" stroke="#f47c30" stroke-width="0.95"/>
<circle cx="186.29" cy="221.56" r="1.05" fill="none" stroke="#f47c30" stroke-width="0.95"/>
<circle cx="186.95" cy="221.56" r="1.05" fill="none" stroke="#f47c30" stroke-width="0.95"/>
<circle cx="187.61" cy="221.56" r="1.05" fill="none" stroke="#f47c30" stroke-width="0.95"/>
<circle cx="188.25" cy="221.56" r="1.05" fill="none" stroke="#f47c30" stroke-width="0.95"/>
<circle cx="188.88" cy="221.56" r="1.05" fill="none" stroke="#f47c30" stroke-width="0.95"/>
<circle cx="189.50" cy="221.56" r="1.05" fill="none" stroke="#f47c30" stroke-width="0.95"/>
<circle cx="190.11" cy="221.56" r="1.05" fill="none" stroke="#f47c30" stroke-width="0.95"/>
<circle cx="190.71" cy="221.56" r="1.05" fill="none" stroke="#f47c30" stroke-width="0.95"/>
<circle cx="191.30" cy="221.56" r="1.05" fill="none" stroke="#f47c30" stroke-width="0.95"/>
<path d="M47.80 298.78 L72.10 248.64 L86.31 228.86 L96.39 221.90 L104.21 221.11 L110.60 220.99 L116.00 220.99 L120.68 220.98 L124.81 220.97 L128.50 220.97 L131.84 220.96 L134.89 220.96 L137.70 220.96 L140.30 220.95 L142.71 220.95 L144.98 220.95 L147.10 220.94 L149.10 220.94 L151.00 220.94 L152.80 220.93 L154.51 220.93 L156.14 220.93 L157.70 220.93 L159.19 220.93 L160.62 220.92 L161.99 220.92 L163.32 220.92 L164.59 220.92 L165.82 220.92 L167.01 220.92 L168.16 220.91 L169.27 220.91 L170.35 220.91 L171.39 220.91 L172.41 220.91 L173.40 220.91 L174.36 220.91 L175.29 220.90 L176.20 220.90 L177.09 220.90 L177.96 220.90 L178.80 220.90 L179.63 220.90 L180.43 220.90 L181.22 220.90 L181.99 220.89 L182.74 220.89 L183.48 220.89 L184.20 220.89 L184.91 220.89 L185.61 220.89 L186.29 220.89 L186.95 220.89 L187.61 220.89 L188.25 220.89 L188.88 220.89 L189.50 220.88 L190.11 220.88 L190.71 220.88 L191.30 220.88" stroke="#4cae52" stroke-width="1.4" fill="none" stroke-linejoin="round" stroke-linecap="round"/>
<circle cx="47.80" cy="298.78" r="1.05" fill="none" stroke="#4cae52" stroke-width="0.95"/>
<circle cx="72.10" cy="248.64" r="1.05" fill="none" stroke="#4cae52" stroke-width="0.95"/>
<circle cx="86.31" cy="228.86" r="1.05" fill="none" stroke="#4cae52" stroke-width="0.95"/>
<circle cx="96.39" cy="221.90" r="1.05" fill="none" stroke="#4cae52" stroke-width="0.95"/>
<circle cx="104.21" cy="221.11" r="1.05" fill="none" stroke="#4cae52" stroke-width="0.95"/>
<circle cx="110.60" cy="220.99" r="1.05" fill="none" stroke="#4cae52" stroke-width="0.95"/>
<circle cx="116.00" cy="220.99" r="1.05" fill="none" stroke="#4cae52" stroke-width="0.95"/>
<circle cx="120.68" cy="220.98" r="1.05" fill="none" stroke="#4cae52" stroke-width="0.95"/>
<circle cx="124.81" cy="220.97" r="1.05" fill="none" stroke="#4cae52" stroke-width="0.95"/>
<circle cx="128.50" cy="220.97" r="1.05" fill="none" stroke="#4cae52" stroke-width="0.95"/>
<circle cx="131.84" cy="220.96" r="1.05" fill="none" stroke="#4cae52" stroke-width="0.95"/>
<circle cx="134.89" cy="220.96" r="1.05" fill="none" stroke="#4cae52" stroke-width="0.95"/>
<circle cx="137.70" cy="220.96" r="1.05" fill="none" stroke="#4cae52" stroke-width="0.95"/>
<circle cx="140.30" cy="220.95" r="1.05" fill="none" stroke="#4cae52" stroke-width="0.95"/>
<circle cx="142.71" cy="220.95" r="1.05" fill="none" stroke="#4cae52" stroke-width="0.95"/>
<circle cx="144.98" cy="220.95" r="1.05" fill="none" stroke="#4cae52" stroke-width="0.95"/>
<circle cx="147.10" cy="220.94" r="1.05" fill="none" stroke="#4cae52" stroke-width="0.95"/>
<circle cx="149.10" cy="220.94" r="1.05" fill="none" stroke="#4cae52" stroke-width="0.95"/>
<circle cx="151.00" cy="220.94" r="1.05" fill="none" stroke="#4cae52" stroke-width="0.95"/>
<circle cx="152.80" cy="220.93" r="1.05" fill="none" stroke="#4cae52" stroke-width="0.95"/>
<circle cx="154.51" cy="220.93" r="1.05" fill="none" stroke="#4cae52" stroke-width="0.95"/>
<circle cx="156.14" cy="220.93" r="1.05" fill="none" stroke="#4cae52" stroke-width="0.95"/>
<circle cx="157.70" cy="220.93" r="1.05" fill="none" stroke="#4cae52" stroke-width="0.95"/>
<circle cx="159.19" cy="220.93" r="1.05" fill="none" stroke="#4cae52" stroke-width="0.95"/>
<circle cx="160.62" cy="220.92" r="1.05" fill="none" stroke="#4cae52" stroke-width="0.95"/>
<circle cx="161.99" cy="220.92" r="1.05" fill="none" stroke="#4cae52" stroke-width="0.95"/>
<circle cx="163.32" cy="220.92" r="1.05" fill="none" stroke="#4cae52" stroke-width="0.95"/>
<circle cx="164.59" cy="220.92" r="1.05" fill="none" stroke="#4cae52" stroke-width="0.95"/>
<circle cx="165.82" cy="220.92" r="1.05" fill="none" stroke="#4cae52" stroke-width="0.95"/>
<circle cx="167.01" cy="220.92" r="1.05" fill="none" stroke="#4cae52" stroke-width="0.95"/>
<circle cx="168.16" cy="220.91" r="1.05" fill="none" stroke="#4cae52" stroke-width="0.95"/>
<circle cx="169.27" cy="220.91" r="1.05" fill="none" stroke="#4cae52" stroke-width="0.95"/>
<circle cx="170.35" cy="220.91" r="1.05" fill="none" stroke="#4cae52" stroke-width="0.95"/>
<circle cx="171.39" cy="220.91" r="1.05" fill="none" stroke="#4cae52" stroke-width="0.95"/>
<circle cx="172.41" cy="220.91" r="1.05" fill="none" stroke="#4cae52" stroke-width="0.95"/>
<circle cx="173.40" cy="220.91" r="1.05" fill="none" stroke="#4cae52" stroke-width="0.95"/>
<circle cx="174.36" cy="220.91" r="1.05" fill="none" stroke="#4cae52" stroke-width="0.95"/>
<circle cx="175.29" cy="220.90" r="1.05" fill="none" stroke="#4cae52" stroke-width="0.95"/>
<circle cx="176.20" cy="220.90" r="1.05" fill="none" stroke="#4cae52" stroke-width="0.95"/>
<circle cx="177.09" cy="220.90" r="1.05" fill="none" stroke="#4cae52" stroke-width="0.95"/>
<circle cx="177.96" cy="220.90" r="1.05" fill="none" stroke="#4cae52" stroke-width="0.95"/>
<circle cx="178.80" cy="220.90" r="1.05" fill="none" stroke="#4cae52" stroke-width="0.95"/>
<circle cx="179.63" cy="220.90" r="1.05" fill="none" stroke="#4cae52" stroke-width="0.95"/>
<circle cx="180.43" cy="220.90" r="1.05" fill="none" stroke="#4cae52" stroke-width="0.95"/>
<circle cx="181.22" cy="220.90" r="1.05" fill="none" stroke="#4cae52" stroke-width="0.95"/>
<circle cx="181.99" cy="220.89" r="1.05" fill="none" stroke="#4cae52" stroke-width="0.95"/>
<circle cx="182.74" cy="220.89" r="1.05" fill="none" stroke="#4cae52" stroke-width="0.95"/>
<circle cx="183.48" cy="220.89" r="1.05" fill="none" stroke="#4cae52" stroke-width="0.95"/>
<circle cx="184.20" cy="220.89" r="1.05" fill="none" stroke="#4cae52" stroke-width="0.95"/>
<circle cx="184.91" cy="220.89" r="1.05" fill="none" stroke="#4cae52" stroke-width="0.95"/>
<circle cx="185.61" cy="220.89" r="1.05" fill="none" stroke="#4cae52" stroke-width="0.95"/>
<circle cx="186.29" cy="220.89" r="1.05" fill="none" stroke="#4cae52" stroke-width="0.95"/>
<circle cx="186.95" cy="220.89" r="1.05" fill="none" stroke="#4cae52" stroke-width="0.95"/>
<circle cx="187.61" cy="220.89" r="1.05" fill="none" stroke="#4cae52" stroke-width="0.95"/>
<circle cx="188.25" cy="220.89" r="1.05" fill="none" stroke="#4cae52" stroke-width="0.95"/>
<circle cx="188.88" cy="220.89" r="1.05" fill="none" stroke="#4cae52" stroke-width="0.95"/>
<circle cx="189.50" cy="220.88" r="1.05" fill="none" stroke="#4cae52" stroke-width="0.95"/>
<circle cx="190.11" cy="220.88" r="1.05" fill="none" stroke="#4cae52" stroke-width="0.95"/>
<circle cx="190.71" cy="220.88" r="1.05" fill="none" stroke="#4cae52" stroke-width="0.95"/>
<circle cx="191.30" cy="220.88" r="1.05" fill="none" stroke="#4cae52" stroke-width="0.95"/>
<path d="M47.80 302.70 L72.10 254.14 L86.31 232.40 L96.39 223.32 L104.21 221.44 L110.60 221.22 L116.00 221.10 L120.68 221.09 L124.81 221.09 L128.50 221.08 L131.84 221.08 L134.89 221.07 L137.70 221.07 L140.30 221.06 L142.71 221.06 L144.98 221.06 L147.10 221.05 L149.10 221.05 L151.00 221.05 L152.80 221.05 L154.51 221.04 L156.14 221.04 L157.70 221.04 L159.19 221.04 L160.62 221.04 L161.99 221.03 L163.32 221.03 L164.59 221.03 L165.82 221.03 L167.01 221.03 L168.16 221.03 L169.27 221.02 L170.35 221.02 L171.39 221.02 L172.41 221.02 L173.40 221.02 L174.36 221.02 L175.29 221.02 L176.20 221.01 L177.09 221.01 L177.96 221.01 L178.80 221.01 L179.63 221.01 L180.43 221.01 L181.22 221.01 L181.99 221.01 L182.74 221.01 L183.48 221.00 L184.20 221.00 L184.91 221.00 L185.61 221.00 L186.29 221.00 L186.95 221.00 L187.61 221.00 L188.25 221.00 L188.88 221.00 L189.50 221.00 L190.11 220.99 L190.71 220.99 L191.30 220.99" stroke="#000000" stroke-width="1.4" fill="none" stroke-linejoin="round" stroke-linecap="round"/>
<circle cx="47.80" cy="302.70" r="1.05" fill="none" stroke="#000000" stroke-width="0.95"/>
<circle cx="72.10" cy="254.14" r="1.05" fill="none" stroke="#000000" stroke-width="0.95"/>
<circle cx="86.31" cy="232.40" r="1.05" fill="none" stroke="#000000" stroke-width="0.95"/>
<circle cx="96.39" cy="223.32" r="1.05" fill="none" stroke="#000000" stroke-width="0.95"/>
<circle cx="104.21" cy="221.44" r="1.05" fill="none" stroke="#000000" stroke-width="0.95"/>
<circle cx="110.60" cy="221.22" r="1.05" fill="none" stroke="#000000" stroke-width="0.95"/>
<circle cx="116.00" cy="221.10" r="1.05" fill="none" stroke="#000000" stroke-width="0.95"/>
<circle cx="120.68" cy="221.09" r="1.05" fill="none" stroke="#000000" stroke-width="0.95"/>
<circle cx="124.81" cy="221.09" r="1.05" fill="none" stroke="#000000" stroke-width="0.95"/>
<circle cx="128.50" cy="221.08" r="1.05" fill="none" stroke="#000000" stroke-width="0.95"/>
<circle cx="131.84" cy="221.08" r="1.05" fill="none" stroke="#000000" stroke-width="0.95"/>
<circle cx="134.89" cy="221.07" r="1.05" fill="none" stroke="#000000" stroke-width="0.95"/>
<circle cx="137.70" cy="221.07" r="1.05" fill="none" stroke="#000000" stroke-width="0.95"/>
<circle cx="140.30" cy="221.06" r="1.05" fill="none" stroke="#000000" stroke-width="0.95"/>
<circle cx="142.71" cy="221.06" r="1.05" fill="none" stroke="#000000" stroke-width="0.95"/>
<circle cx="144.98" cy="221.06" r="1.05" fill="none" stroke="#000000" stroke-width="0.95"/>
<circle cx="147.10" cy="221.05" r="1.05" fill="none" stroke="#000000" stroke-width="0.95"/>
<circle cx="149.10" cy="221.05" r="1.05" fill="none" stroke="#000000" stroke-width="0.95"/>
<circle cx="151.00" cy="221.05" r="1.05" fill="none" stroke="#000000" stroke-width="0.95"/>
<circle cx="152.80" cy="221.05" r="1.05" fill="none" stroke="#000000" stroke-width="0.95"/>
<circle cx="154.51" cy="221.04" r="1.05" fill="none" stroke="#000000" stroke-width="0.95"/>
<circle cx="156.14" cy="221.04" r="1.05" fill="none" stroke="#000000" stroke-width="0.95"/>
<circle cx="157.70" cy="221.04" r="1.05" fill="none" stroke="#000000" stroke-width="0.95"/>
<circle cx="159.19" cy="221.04" r="1.05" fill="none" stroke="#000000" stroke-width="0.95"/>
<circle cx="160.62" cy="221.04" r="1.05" fill="none" stroke="#000000" stroke-width="0.95"/>
<circle cx="161.99" cy="221.03" r="1.05" fill="none" stroke="#000000" stroke-width="0.95"/>
<circle cx="163.32" cy="221.03" r="1.05" fill="none" stroke="#000000" stroke-width="0.95"/>
<circle cx="164.59" cy="221.03" r="1.05" fill="none" stroke="#000000" stroke-width="0.95"/>
<circle cx="165.82" cy="221.03" r="1.05" fill="none" stroke="#000000" stroke-width="0.95"/>
<circle cx="167.01" cy="221.03" r="1.05" fill="none" stroke="#000000" stroke-width="0.95"/>
<circle cx="168.16" cy="221.03" r="1.05" fill="none" stroke="#000000" stroke-width="0.95"/>
<circle cx="169.27" cy="221.02" r="1.05" fill="none" stroke="#000000" stroke-width="0.95"/>
<circle cx="170.35" cy="221.02" r="1.05" fill="none" stroke="#000000" stroke-width="0.95"/>
<circle cx="171.39" cy="221.02" r="1.05" fill="none" stroke="#000000" stroke-width="0.95"/>
<circle cx="172.41" cy="221.02" r="1.05" fill="none" stroke="#000000" stroke-width="0.95"/>
<circle cx="173.40" cy="221.02" r="1.05" fill="none" stroke="#000000" stroke-width="0.95"/>
<circle cx="174.36" cy="221.02" r="1.05" fill="none" stroke="#000000" stroke-width="0.95"/>
<circle cx="175.29" cy="221.02" r="1.05" fill="none" stroke="#000000" stroke-width="0.95"/>
<circle cx="176.20" cy="221.01" r="1.05" fill="none" stroke="#000000" stroke-width="0.95"/>
<circle cx="177.09" cy="221.01" r="1.05" fill="none" stroke="#000000" stroke-width="0.95"/>
<circle cx="177.96" cy="221.01" r="1.05" fill="none" stroke="#000000" stroke-width="0.95"/>
<circle cx="178.80" cy="221.01" r="1.05" fill="none" stroke="#000000" stroke-width="0.95"/>
<circle cx="179.63" cy="221.01" r="1.05" fill="none" stroke="#000000" stroke-width="0.95"/>
<circle cx="180.43" cy="221.01" r="1.05" fill="none" stroke="#000000" stroke-width="0.95"/>
<circle cx="181.22" cy="221.01" r="1.05" fill="none" stroke="#000000" stroke-width="0.95"/>
<circle cx="181.99" cy="221.01" r="1.05" fill="none" stroke="#000000" stroke-width="0.95"/>
<circle cx="182.74" cy="221.01" r="1.05" fill="none" stroke="#000000" stroke-width="0.95"/>
<circle cx="183.48" cy="221.00" r="1.05" fill="none" stroke="#000000" stroke-width="0.95"/>
<circle cx="184.20" cy="221.00" r="1.05" fill="none" stroke="#000000" stroke-width="0.95"/>
<circle cx="184.91" cy="221.00" r="1.05" fill="none" stroke="#000000" stroke-width="0.95"/>
<circle cx="185.61" cy="221.00" r="1.05" fill="none" stroke="#000000" stroke-width="0.95"/>
<circle cx="186.29" cy="221.00" r="1.05" fill="none" stroke="#000000" stroke-width="0.95"/>
<circle cx="186.95" cy="221.00" r="1.05" fill="none" stroke="#000000" stroke-width="0.95"/>
<circle cx="187.61" cy="221.00" r="1.05" fill="none" stroke="#000000" stroke-width="0.95"/>
<circle cx="188.25" cy="221.00" r="1.05" fill="none" stroke="#000000" stroke-width="0.95"/>
<circle cx="188.88" cy="221.00" r="1.05" fill="none" stroke="#000000" stroke-width="0.95"/>
<circle cx="189.50" cy="221.00" r="1.05" fill="none" stroke="#000000" stroke-width="0.95"/>
<circle cx="190.11" cy="220.99" r="1.05" fill="none" stroke="#000000" stroke-width="0.95"/>
<circle cx="190.71" cy="220.99" r="1.05" fill="none" stroke="#000000" stroke-width="0.95"/>
<circle cx="191.30" cy="220.99" r="1.05" fill="none" stroke="#000000" stroke-width="0.95"/>
</g>
<rect x="29.90" y="196.90" width="166.30" height="134.30" fill="none" stroke="#000" stroke-width="1.7"/>
<path d="M72.10 331.20v-3.0M152.80 331.20v-3.0M39.98 331.20v-1.8M47.80 331.20v-1.8M54.19 331.20v-1.8M59.60 331.20v-1.8M64.28 331.20v-1.8M68.40 331.20v-1.8M96.39 331.20v-1.8M110.60 331.20v-1.8M120.68 331.20v-1.8M128.50 331.20v-1.8M134.89 331.20v-1.8M140.30 331.20v-1.8M144.98 331.20v-1.8M149.10 331.20v-1.8M177.09 331.20v-1.8M191.30 331.20v-1.8" stroke="#000" stroke-width="1.1" fill="none"/>
<path d="M29.90 320.44h3.0M29.90 299.52h3.0M29.90 271.88h3.0M29.90 250.96h3.0M29.90 230.05h3.0M29.90 217.81h3.0M29.90 209.13h3.0M29.90 331.20h1.5M29.90 327.17h1.5M29.90 323.62h1.5M29.90 308.20h1.5M29.90 292.79h1.5M29.90 287.29h1.5M29.90 282.64h1.5M29.90 278.61h1.5M29.90 275.06h1.5M29.90 269.00h1.5M29.90 266.38h1.5M29.90 263.96h1.5M29.90 261.72h1.5M29.90 259.64h1.5M29.90 257.70h1.5M29.90 255.87h1.5M29.90 254.14h1.5M29.90 252.51h1.5M29.90 238.73h1.5M29.90 223.32h1.5M29.90 213.16h1.5M29.90 205.58h1.5M29.90 202.40h1.5M29.90 199.53h1.5" stroke="#000" stroke-width="0.9" fill="none"/>
<text x="72.10" y="340.40" font-size="8.6" text-anchor="middle" fill="#000">0.1</text>
<text x="152.80" y="340.40" font-size="8.6" text-anchor="middle" fill="#000">1</text>
<text x="25.80" y="323.44" font-size="8.6" text-anchor="end" fill="#000">1</text>
<text x="25.80" y="302.52" font-size="8.6" text-anchor="end" fill="#000">2</text>
<text x="25.80" y="274.88" font-size="8.6" text-anchor="end" fill="#000">5</text>
<text x="25.80" y="253.96" font-size="8.6" text-anchor="end" fill="#000">10</text>
<text x="25.80" y="233.05" font-size="8.6" text-anchor="end" fill="#000">20</text>
<text x="25.80" y="220.81" font-size="8.6" text-anchor="end" fill="#000">30</text>
<text x="25.80" y="212.13" font-size="8.6" text-anchor="end" fill="#000">40</text>
<text x="113.20" y="357.80" font-size="8.8" text-anchor="middle" fill="#000"><tspan font-style="italic">V</tspan><tspan font-size="5.5" dy="2.0">eff</tspan><tspan dy="-2.0"> (V)</tspan></text>
<text x="10.80" y="264.00" font-size="8.8" text-anchor="middle" fill="#000" transform="rotate(-90.00 10.80 264.00)"><tspan font-style="italic">J</tspan><tspan font-size="5.5" dy="2.0">ph</tspan><tspan dy="-2.0"> (mA cm</tspan><tspan font-size="5.5" dy="-3.2">-2</tspan><tspan dy="3.2">)</tspan></text>
<line x1="78" y1="278.5" x2="96.6" y2="278.5" stroke="#000000" stroke-width="1.4"/>
<circle cx="87.30" cy="278.50" r="1.2" fill="#fff" stroke="#000000" stroke-width="0.7"/>
<text x="98.80" y="281.40" font-size="8.2" text-anchor="start" fill="#000">PM6:L8-BO</text>
<text x="145.90" y="281.40" font-size="8.2" text-anchor="start" fill="#000"><tspan font-style="italic">P</tspan><tspan font-size="5.3" dy="2.0">diss</tspan><tspan dy="-2.0">=99.1%</tspan></text>
<line x1="78" y1="290.9" x2="96.6" y2="290.9" stroke="#f47c30" stroke-width="1.4"/>
<circle cx="87.30" cy="290.90" r="1.2" fill="#fff" stroke="#f47c30" stroke-width="0.7"/>
<text x="98.80" y="293.80" font-size="8.2" text-anchor="start" fill="#000">S1:L8-BO</text>
<text x="145.90" y="293.80" font-size="8.2" text-anchor="start" fill="#000"><tspan font-style="italic">P</tspan><tspan font-size="5.3" dy="2.0">diss</tspan><tspan dy="-2.0">=98.2%</tspan></text>
<line x1="78" y1="303.2" x2="96.6" y2="303.2" stroke="#4cae52" stroke-width="1.4"/>
<circle cx="87.30" cy="303.20" r="1.2" fill="#fff" stroke="#4cae52" stroke-width="0.7"/>
<text x="98.80" y="306.10" font-size="8.2" text-anchor="start" fill="#000">S2:L8-BO</text>
<text x="145.90" y="306.10" font-size="8.2" text-anchor="start" fill="#000"><tspan font-style="italic">P</tspan><tspan font-size="5.3" dy="2.0">diss</tspan><tspan dy="-2.0">=99.3%</tspan></text>
<line x1="78" y1="315.5" x2="96.6" y2="315.5" stroke="#7b5cb0" stroke-width="1.4"/>
<circle cx="87.30" cy="315.50" r="1.2" fill="#fff" stroke="#7b5cb0" stroke-width="0.7"/>
<text x="98.80" y="318.40" font-size="8.2" text-anchor="start" fill="#000">S3:L8-BO</text>
<text x="145.90" y="318.40" font-size="8.2" text-anchor="start" fill="#000"><tspan font-style="italic">P</tspan><tspan font-size="5.3" dy="2.0">diss</tspan><tspan dy="-2.0">=98.7%</tspan></text>
<text x="226.20" y="193.30" font-size="13.5" text-anchor="start" fill="#000">e</text>
<path d="M268.32 319.88 L421.65 244.98" stroke="#7b5cb0" stroke-width="1.5" fill="none" stroke-linejoin="round" stroke-linecap="round"/>
<circle cx="268.32" cy="320.40" r="1.35" fill="#7b5cb0"/>
<circle cx="314.48" cy="297.24" r="1.35" fill="#7b5cb0"/>
<circle cx="341.48" cy="284.40" r="1.35" fill="#7b5cb0"/>
<circle cx="360.63" cy="274.57" r="1.35" fill="#7b5cb0"/>
<circle cx="375.49" cy="267.27" r="1.35" fill="#7b5cb0"/>
<circle cx="387.64" cy="262.47" r="1.35" fill="#7b5cb0"/>
<circle cx="397.90" cy="257.56" r="1.35" fill="#7b5cb0"/>
<circle cx="406.79" cy="251.56" r="1.35" fill="#7b5cb0"/>
<circle cx="414.64" cy="248.89" r="1.35" fill="#7b5cb0"/>
<circle cx="421.65" cy="245.51" r="1.35" fill="#7b5cb0"/>
<path d="M268.32 310.23 L421.65 242.71" stroke="#f47c30" stroke-width="1.5" fill="none" stroke-linejoin="round" stroke-linecap="round"/>
<circle cx="268.32" cy="309.23" r="1.35" fill="#f47c30"/>
<circle cx="314.48" cy="289.97" r="1.35" fill="#f47c30"/>
<circle cx="341.48" cy="277.34" r="1.35" fill="#f47c30"/>
<circle cx="360.63" cy="269.63" r="1.35" fill="#f47c30"/>
<circle cx="375.49" cy="262.76" r="1.35" fill="#f47c30"/>
<circle cx="387.64" cy="258.39" r="1.35" fill="#f47c30"/>
<circle cx="397.90" cy="252.90" r="1.35" fill="#f47c30"/>
<circle cx="406.79" cy="248.51" r="1.35" fill="#f47c30"/>
<circle cx="414.64" cy="245.75" r="1.35" fill="#f47c30"/>
<circle cx="421.65" cy="242.23" r="1.35" fill="#f47c30"/>
<path d="M268.32 298.91 L421.65 241.03" stroke="#000000" stroke-width="1.5" fill="none" stroke-linejoin="round" stroke-linecap="round"/>
<circle cx="268.32" cy="298.56" r="1.35" fill="#000000"/>
<circle cx="314.48" cy="282.36" r="1.35" fill="#000000"/>
<circle cx="341.48" cy="270.78" r="1.35" fill="#000000"/>
<circle cx="360.63" cy="263.88" r="1.35" fill="#000000"/>
<circle cx="375.49" cy="258.86" r="1.35" fill="#000000"/>
<circle cx="387.64" cy="254.82" r="1.35" fill="#000000"/>
<circle cx="397.90" cy="249.26" r="1.35" fill="#000000"/>
<circle cx="406.79" cy="246.70" r="1.35" fill="#000000"/>
<circle cx="414.64" cy="243.24" r="1.35" fill="#000000"/>
<circle cx="421.65" cy="240.27" r="1.35" fill="#000000"/>
<path d="M268.32 289.26 L421.65 234.74" stroke="#4cae52" stroke-width="1.5" fill="none" stroke-linejoin="round" stroke-linecap="round"/>
<circle cx="268.32" cy="288.83" r="1.35" fill="#4cae52"/>
<circle cx="314.48" cy="272.00" r="1.35" fill="#4cae52"/>
<circle cx="341.48" cy="263.46" r="1.35" fill="#4cae52"/>
<circle cx="360.63" cy="255.83" r="1.35" fill="#4cae52"/>
<circle cx="375.49" cy="251.27" r="1.35" fill="#4cae52"/>
<circle cx="387.64" cy="245.96" r="1.35" fill="#4cae52"/>
<circle cx="397.90" cy="242.43" r="1.35" fill="#4cae52"/>
<circle cx="406.79" cy="240.84" r="1.35" fill="#4cae52"/>
<circle cx="414.64" cy="237.97" r="1.35" fill="#4cae52"/>
<circle cx="421.65" cy="235.31" r="1.35" fill="#4cae52"/>
<rect x="261.30" y="197.00" width="166.70" height="134.20" fill="none" stroke="#000" stroke-width="1.7"/>
<path d="M268.32 331.20v-3.0M314.48 331.20v-3.0M360.63 331.20v-3.0M421.65 331.20v-3.0M274.66 331.20v-1.5M280.46 331.20v-1.5M285.79 331.20v-1.5M290.72 331.20v-1.5M295.32 331.20v-1.5M299.62 331.20v-1.5M303.65 331.20v-1.5M307.46 331.20v-1.5M311.06 331.20v-1.5M320.82 331.20v-1.5M326.62 331.20v-1.5M331.95 331.20v-1.5M336.88 331.20v-1.5M341.48 331.20v-1.5M345.77 331.20v-1.5M349.81 331.20v-1.5M353.62 331.20v-1.5M357.22 331.20v-1.5M368.48 331.20v-1.5M375.49 331.20v-1.5M381.84 331.20v-1.5M387.64 331.20v-1.5M392.97 331.20v-1.5M397.90 331.20v-1.5M402.50 331.20v-1.5M406.79 331.20v-1.5M410.83 331.20v-1.5M414.64 331.20v-1.5M418.24 331.20v-1.5M424.90 331.20v-1.5" stroke="#000" stroke-width="0.9" fill="none"/>
<path d="M261.30 331.20h3.0M261.30 289.26h3.0M261.30 247.32h3.0M261.30 205.39h3.0M261.30 317.19h1.6M261.30 303.27h1.6M261.30 275.26h1.6M261.30 261.33h1.6M261.30 233.32h1.6M261.30 219.39h1.6" stroke="#000" stroke-width="1.1" fill="none"/>
<text x="268.32" y="341.00" font-size="8.6" text-anchor="middle" fill="#000">10</text>
<text x="314.48" y="341.00" font-size="8.6" text-anchor="middle" fill="#000">20</text>
<text x="360.63" y="341.00" font-size="8.6" text-anchor="middle" fill="#000">40</text>
<text x="421.65" y="341.00" font-size="8.6" text-anchor="middle" fill="#000">100</text>
<text x="258.40" y="334.20" font-size="8.6" text-anchor="end" fill="#000">0.80</text>
<text x="258.40" y="292.26" font-size="8.6" text-anchor="end" fill="#000">0.85</text>
<text x="258.40" y="250.32" font-size="8.6" text-anchor="end" fill="#000">0.90</text>
<text x="258.40" y="208.39" font-size="8.6" text-anchor="end" fill="#000">0.95</text>
<text x="344.60" y="357.60" font-size="8.8" text-anchor="middle" fill="#000">Light Intensity (mW cm<tspan font-size="5.5" dy="-3.2">-2</tspan><tspan dy="3.2">)</tspan></text>
<text x="231.50" y="264.00" font-size="8.8" text-anchor="middle" fill="#000" transform="rotate(-90.00 231.50 264.00)"><tspan font-style="italic">V</tspan><tspan font-size="5.5" dy="2.0">oc</tspan><tspan dy="-2.0"> (V)</tspan></text>
<circle cx="272.70" cy="204.00" r="1.35" fill="#000000"/>
<text x="284.60" y="206.90" font-size="8.2" text-anchor="start" fill="#000">PM6:L8-BO</text>
<text x="333.60" y="206.90" font-size="8.2" text-anchor="start" fill="#000">1.16 <tspan font-style="italic">kT/q</tspan></text>
<circle cx="272.70" cy="214.50" r="1.35" fill="#7b5cb0"/>
<text x="284.60" y="217.40" font-size="8.2" text-anchor="start" fill="#000">S1:L8-BO</text>
<text x="333.60" y="217.40" font-size="8.2" text-anchor="start" fill="#000">1.46 <tspan font-style="italic">kT/q</tspan></text>
<circle cx="272.70" cy="224.90" r="1.35" fill="#4cae52"/>
<text x="284.60" y="227.80" font-size="8.2" text-anchor="start" fill="#000">S2:L8-BO</text>
<text x="333.60" y="227.80" font-size="8.2" text-anchor="start" fill="#000">1.06 <tspan font-style="italic">kT/q</tspan></text>
<circle cx="272.70" cy="235.40" r="1.35" fill="#f47c30"/>
<text x="284.60" y="238.30" font-size="8.2" text-anchor="start" fill="#000">S3:L8-BO</text>
<text x="333.60" y="238.30" font-size="8.2" text-anchor="start" fill="#000">1.34 <tspan font-style="italic">kT/q</tspan></text>
<text x="463.00" y="193.30" font-size="13.5" text-anchor="start" fill="#000">f</text>
<clipPath id="cf"><rect x="491.40" y="196.80" width="166.80" height="134.20"/></clipPath>
<g clip-path="url(#cf)">
<circle cx="498.42" cy="314.88" r="1.4" fill="#7b5cb0"/>
<circle cx="544.61" cy="283.02" r="1.4" fill="#7b5cb0"/>
<circle cx="571.62" cy="264.44" r="1.4" fill="#7b5cb0"/>
<circle cx="590.79" cy="250.95" r="1.4" fill="#7b5cb0"/>
<circle cx="605.66" cy="241.36" r="1.4" fill="#7b5cb0"/>
<circle cx="617.81" cy="232.56" r="1.4" fill="#7b5cb0"/>
<circle cx="628.08" cy="228.07" r="1.4" fill="#7b5cb0"/>
<circle cx="636.98" cy="220.75" r="1.4" fill="#7b5cb0"/>
<circle cx="644.83" cy="214.06" r="1.4" fill="#7b5cb0"/>
<circle cx="651.85" cy="210.08" r="1.4" fill="#7b5cb0"/>
<circle cx="498.42" cy="315.47" r="1.4" fill="#4cae52"/>
<circle cx="544.61" cy="285.31" r="1.4" fill="#4cae52"/>
<circle cx="571.62" cy="265.37" r="1.4" fill="#4cae52"/>
<circle cx="590.79" cy="252.56" r="1.4" fill="#4cae52"/>
<circle cx="605.66" cy="241.30" r="1.4" fill="#4cae52"/>
<circle cx="617.81" cy="232.70" r="1.4" fill="#4cae52"/>
<circle cx="628.08" cy="227.10" r="1.4" fill="#4cae52"/>
<circle cx="636.98" cy="220.28" r="1.4" fill="#4cae52"/>
<circle cx="644.83" cy="214.60" r="1.4" fill="#4cae52"/>
<circle cx="651.85" cy="207.90" r="1.4" fill="#4cae52"/>
<circle cx="498.42" cy="313.65" r="1.4" fill="#f47c30"/>
<circle cx="544.61" cy="283.28" r="1.4" fill="#f47c30"/>
<circle cx="571.62" cy="262.72" r="1.4" fill="#f47c30"/>
<circle cx="590.79" cy="251.27" r="1.4" fill="#f47c30"/>
<circle cx="605.66" cy="239.58" r="1.4" fill="#f47c30"/>
<circle cx="617.81" cy="232.54" r="1.4" fill="#f47c30"/>
<circle cx="628.08" cy="225.77" r="1.4" fill="#f47c30"/>
<circle cx="636.98" cy="217.13" r="1.4" fill="#f47c30"/>
<circle cx="644.83" cy="213.54" r="1.4" fill="#f47c30"/>
<circle cx="651.85" cy="208.64" r="1.4" fill="#f47c30"/>
<circle cx="498.42" cy="314.90" r="1.4" fill="#000000"/>
<circle cx="544.61" cy="283.06" r="1.4" fill="#000000"/>
<circle cx="571.62" cy="265.89" r="1.4" fill="#000000"/>
<circle cx="590.79" cy="250.67" r="1.4" fill="#000000"/>
<circle cx="605.66" cy="241.50" r="1.4" fill="#000000"/>
<circle cx="617.81" cy="232.66" r="1.4" fill="#000000"/>
<circle cx="628.08" cy="226.84" r="1.4" fill="#000000"/>
<circle cx="636.98" cy="218.59" r="1.4" fill="#000000"/>
<circle cx="644.83" cy="213.82" r="1.4" fill="#000000"/>
<circle cx="651.85" cy="208.17" r="1.4" fill="#000000"/>
<path d="M498.42 314.09 L651.85 207.54" stroke="#f47c30" stroke-width="1.6" fill="none" stroke-linejoin="round" stroke-linecap="round"/>
<path d="M498.42 316.84 L651.85 210.07" stroke="#000000" stroke-width="1.9" fill="none" stroke-linejoin="round" stroke-linecap="round"/>
</g>
<rect x="491.40" y="196.80" width="166.80" height="134.20" fill="none" stroke="#000" stroke-width="1.7"/>
<path d="M498.42 331.00v-3.0M544.61 331.00v-3.0M590.79 331.00v-3.0M651.85 331.00v-3.0M504.77 331.00v-1.5M510.57 331.00v-1.5M515.90 331.00v-1.5M520.84 331.00v-1.5M525.44 331.00v-1.5M529.74 331.00v-1.5M533.78 331.00v-1.5M537.59 331.00v-1.5M541.19 331.00v-1.5M550.96 331.00v-1.5M556.76 331.00v-1.5M562.09 331.00v-1.5M567.03 331.00v-1.5M571.62 331.00v-1.5M575.92 331.00v-1.5M579.96 331.00v-1.5M583.77 331.00v-1.5M587.38 331.00v-1.5M598.64 331.00v-1.5M605.66 331.00v-1.5M612.01 331.00v-1.5M617.81 331.00v-1.5M623.14 331.00v-1.5M628.08 331.00v-1.5M632.68 331.00v-1.5M636.98 331.00v-1.5M641.02 331.00v-1.5M644.83 331.00v-1.5M648.43 331.00v-1.5M655.10 331.00v-1.5" stroke="#000" stroke-width="0.9" fill="none"/>
<path d="M491.40 331.00h3.0M491.40 288.04h3.0M491.40 255.54h3.0M491.40 223.04h3.0M491.40 204.03h3.0M491.40 320.54h1.5M491.40 311.99h1.5M491.40 304.76h1.5M491.40 298.50h1.5M491.40 292.98h1.5M491.40 283.57h1.5M491.40 279.49h1.5M491.40 275.74h1.5M491.40 272.26h1.5M491.40 269.03h1.5M491.40 266.00h1.5M491.40 263.16h1.5M491.40 260.48h1.5M491.40 257.94h1.5M491.40 251.07h1.5M491.40 246.99h1.5M491.40 243.24h1.5M491.40 239.76h1.5M491.40 236.53h1.5M491.40 233.50h1.5M491.40 230.66h1.5M491.40 227.98h1.5M491.40 225.44h1.5M491.40 220.75h1.5M491.40 218.57h1.5M491.40 216.49h1.5M491.40 214.49h1.5M491.40 212.58h1.5M491.40 210.74h1.5M491.40 208.97h1.5M491.40 207.26h1.5M491.40 205.62h1.5M491.40 202.49h1.5M491.40 201.00h1.5M491.40 199.56h1.5M491.40 198.16h1.5" stroke="#000" stroke-width="0.9" fill="none"/>
<text x="498.42" y="341.00" font-size="8.6" text-anchor="middle" fill="#000">10</text>
<text x="544.61" y="341.00" font-size="8.6" text-anchor="middle" fill="#000">20</text>
<text x="590.79" y="341.00" font-size="8.6" text-anchor="middle" fill="#000">40</text>
<text x="651.85" y="341.00" font-size="8.6" text-anchor="middle" fill="#000">100</text>
<text x="488.60" y="334.00" font-size="8.6" text-anchor="end" fill="#000">2</text>
<text x="488.60" y="291.04" font-size="8.6" text-anchor="end" fill="#000">5</text>
<text x="488.60" y="258.54" font-size="8.6" text-anchor="end" fill="#000">10</text>
<text x="488.60" y="226.04" font-size="8.6" text-anchor="end" fill="#000">20</text>
<text x="488.60" y="207.03" font-size="8.6" text-anchor="end" fill="#000">30</text>
<text x="576.20" y="357.60" font-size="8.8" text-anchor="middle" fill="#000">Light Intensity (mW cm<tspan font-size="5.5" dy="-3.2">-2</tspan><tspan dy="3.2">)</tspan></text>
<text x="467.10" y="261.80" font-size="8.8" text-anchor="middle" fill="#000" transform="rotate(-90.00 467.10 261.80)"><tspan font-style="italic">J</tspan><tspan font-size="5.5" dy="2.0">sc</tspan><tspan dy="-2.0"> (mA cm</tspan><tspan font-size="5.5" dy="-3.2">-2</tspan><tspan dy="3.2">)</tspan></text>
<circle cx="505.30" cy="205.00" r="1.35" fill="#000000"/>
<text x="514.60" y="207.90" font-size="8.2" text-anchor="start" fill="#000">PM6:L8-BO</text>
<text x="561.00" y="207.90" font-size="8.2" text-anchor="start" fill="#000">α=0.989</text>
<circle cx="505.30" cy="215.60" r="1.35" fill="#7b5cb0"/>
<text x="514.60" y="218.50" font-size="8.2" text-anchor="start" fill="#000">S1:L8-BO</text>
<text x="561.00" y="218.50" font-size="8.2" text-anchor="start" fill="#000">α=0.970</text>
<circle cx="505.30" cy="225.90" r="1.35" fill="#4cae52"/>
<text x="514.60" y="228.80" font-size="8.2" text-anchor="start" fill="#000">S2:L8-BO</text>
<text x="561.00" y="228.80" font-size="8.2" text-anchor="start" fill="#000">α=0.996</text>
<circle cx="505.30" cy="236.40" r="1.35" fill="#f47c30"/>
<text x="514.60" y="239.30" font-size="8.2" text-anchor="start" fill="#000">S3:L8-BO</text>
<text x="561.00" y="239.30" font-size="8.2" text-anchor="start" fill="#000">α=0.987</text>
<text x="1.50" y="377.00" font-size="13.5" text-anchor="start" fill="#000">g</text>
<clipPath id="cg"><rect x="30.70" y="380.10" width="166.30" height="134.20"/></clipPath>
<g clip-path="url(#cg)">
<path d="M42.75 454.81 L43.48 454.69 L44.20 454.57 L44.93 454.45 L45.65 454.33 L46.37 454.21 L47.10 454.09 L47.82 453.96 L48.54 453.84 L49.27 453.72 L49.99 453.59 L50.72 453.47 L51.44 453.35 L52.16 453.22 L52.89 453.09 L53.61 452.97 L54.34 452.84 L55.06 452.72 L55.78 452.59 L56.51 452.46 L57.23 452.33 L57.95 452.20 L58.68 452.07 L59.40 451.95 L60.13 451.82 L60.85 451.68 L61.57 451.55 L62.30 451.42 L63.02 451.29 L63.75 451.16 L64.47 451.03 L65.19 450.90 L65.92 450.76 L66.64 450.63 L67.37 450.50 L68.09 450.36 L68.81 450.23 L69.54 450.09 L70.26 449.96 L70.98 449.82 L71.71 449.69 L72.43 449.55 L73.16 449.42 L73.88 449.28 L74.60 449.14 L75.33 449.01 L76.05 448.87 L76.78 448.73 L77.50 448.59 L78.22 448.46 L78.95 448.32 L79.67 448.18 L80.40 448.04 L81.12 447.90 L81.84 447.76 L82.57 447.63 L83.29 447.49 L84.01 447.35 L84.74 447.21 L85.46 447.07 L86.19 446.93 L86.91 446.79 L87.63 446.65 L88.36 446.51 L89.08 446.36 L89.81 446.22 L90.53 446.07 L91.25 445.92 L91.98 445.77 L92.70 445.62 L93.42 445.47 L94.15 445.32 L94.87 445.16 L95.60 445.00 L96.32 444.84 L97.04 444.67 L97.77 444.51 L98.49 444.35 L99.22 444.18 L99.94 444.02 L100.66 443.86 L101.39 443.69 L102.11 443.53 L102.84 443.35 L103.56 443.17 L104.28 442.99 L105.01 442.79 L105.73 442.59 L106.45 442.37 L107.18 442.15 L107.90 441.91 L108.63 441.66 L109.35 441.39 L110.07 441.11 L110.80 440.81 L111.52 440.50 L112.25 440.16 L112.97 439.79 L113.69 439.39 L114.42 438.97 L115.14 438.50 L115.87 438.01 L116.59 437.47 L117.31 436.86 L118.04 436.05 L118.76 435.06 L119.48 434.00 L120.21 432.93 L120.93 431.93 L121.66 430.87 L122.38 429.81 L123.10 428.81 L123.83 427.97 L124.55 427.24 L125.28 426.55 L126.00 425.91 L126.72 425.30 L127.45 424.74 L128.17 424.21 L128.90 423.71 L129.62 423.25 L130.34 422.81 L131.07 422.38 L131.79 421.97 L132.51 421.56 L133.24 421.17 L133.96 420.79 L134.69 420.42 L135.41 420.06 L136.13 419.71 L136.86 419.37 L137.58 419.04 L138.31 418.72 L139.03 418.42 L139.75 418.12 L140.48 417.83 L141.20 417.55 L141.92 417.28 L142.65 417.01 L143.37 416.76 L144.10 416.52 L144.82 416.28 L145.54 416.05 L146.27 415.83 L146.99 415.61 L147.72 415.39 L148.44 415.18 L149.16 414.98 L149.89 414.77 L150.61 414.58 L151.34 414.38 L152.06 414.19 L152.78 414.01 L153.51 413.82 L154.23 413.64 L154.95 413.47 L155.68 413.30 L156.40 413.13 L157.13 412.96 L157.85 412.80 L158.57 412.64 L159.30 412.48 L160.02 412.33 L160.75 412.18 L161.47 412.03 L162.19 411.88 L162.92 411.74 L163.64 411.60 L164.37 411.46 L165.09 411.32 L165.81 411.18 L166.54 411.05 L167.26 410.92 L167.98 410.79 L168.71 410.66 L169.43 410.53 L170.16 410.40 L170.88 410.27 L171.60 410.15 L172.33 410.03 L173.05 409.91 L173.78 409.79 L174.50 409.67 L175.22 409.56 L175.95 409.44 L176.67 409.33 L177.40 409.22 L178.12 409.12 L178.84 409.01 L179.57 408.91 L180.29 408.81 L181.01 408.71 L181.74 408.62 L182.46 408.52 L183.19 408.43 L183.91 408.34 L184.63 408.26 L185.36 408.17 L186.08 408.09 L186.81 408.01" stroke="#7b5cb0" stroke-width="1.4" fill="none" stroke-linejoin="round" stroke-linecap="round"/>
<circle cx="42.75" cy="454.81" r="1.3" fill="#fff" stroke="#7b5cb0" stroke-width="0.7"/>
<circle cx="79.88" cy="448.14" r="1.3" fill="#fff" stroke="#7b5cb0" stroke-width="0.7"/>
<circle cx="97.14" cy="444.65" r="1.3" fill="#fff" stroke="#7b5cb0" stroke-width="0.7"/>
<circle cx="108.51" cy="441.70" r="1.3" fill="#fff" stroke="#7b5cb0" stroke-width="0.7"/>
<circle cx="117.01" cy="437.13" r="1.3" fill="#fff" stroke="#7b5cb0" stroke-width="0.7"/>
<circle cx="123.79" cy="428.01" r="1.3" fill="#fff" stroke="#7b5cb0" stroke-width="0.7"/>
<circle cx="129.43" cy="423.36" r="1.3" fill="#fff" stroke="#7b5cb0" stroke-width="0.7"/>
<circle cx="134.27" cy="420.63" r="1.3" fill="#fff" stroke="#7b5cb0" stroke-width="0.7"/>
<circle cx="138.50" cy="418.64" r="1.3" fill="#fff" stroke="#7b5cb0" stroke-width="0.7"/>
<circle cx="142.26" cy="417.15" r="1.3" fill="#fff" stroke="#7b5cb0" stroke-width="0.7"/>
<circle cx="145.64" cy="416.02" r="1.3" fill="#fff" stroke="#7b5cb0" stroke-width="0.7"/>
<circle cx="148.71" cy="415.10" r="1.3" fill="#fff" stroke="#7b5cb0" stroke-width="0.7"/>
<circle cx="151.53" cy="414.33" r="1.3" fill="#fff" stroke="#7b5cb0" stroke-width="0.7"/>
<circle cx="154.13" cy="413.67" r="1.3" fill="#fff" stroke="#7b5cb0" stroke-width="0.7"/>
<circle cx="156.55" cy="413.10" r="1.3" fill="#fff" stroke="#7b5cb0" stroke-width="0.7"/>
<circle cx="158.80" cy="412.59" r="1.3" fill="#fff" stroke="#7b5cb0" stroke-width="0.7"/>
<circle cx="160.91" cy="412.14" r="1.3" fill="#fff" stroke="#7b5cb0" stroke-width="0.7"/>
<circle cx="162.90" cy="411.74" r="1.3" fill="#fff" stroke="#7b5cb0" stroke-width="0.7"/>
<circle cx="164.78" cy="411.38" r="1.3" fill="#fff" stroke="#7b5cb0" stroke-width="0.7"/>
<circle cx="166.56" cy="411.05" r="1.3" fill="#fff" stroke="#7b5cb0" stroke-width="0.7"/>
<circle cx="168.25" cy="410.74" r="1.3" fill="#fff" stroke="#7b5cb0" stroke-width="0.7"/>
<circle cx="169.86" cy="410.45" r="1.3" fill="#fff" stroke="#7b5cb0" stroke-width="0.7"/>
<circle cx="171.39" cy="410.19" r="1.3" fill="#fff" stroke="#7b5cb0" stroke-width="0.7"/>
<circle cx="172.86" cy="409.94" r="1.3" fill="#fff" stroke="#7b5cb0" stroke-width="0.7"/>
<circle cx="174.27" cy="409.71" r="1.3" fill="#fff" stroke="#7b5cb0" stroke-width="0.7"/>
<circle cx="175.62" cy="409.49" r="1.3" fill="#fff" stroke="#7b5cb0" stroke-width="0.7"/>
<circle cx="176.92" cy="409.29" r="1.3" fill="#fff" stroke="#7b5cb0" stroke-width="0.7"/>
<circle cx="178.18" cy="409.11" r="1.3" fill="#fff" stroke="#7b5cb0" stroke-width="0.7"/>
<circle cx="179.38" cy="408.94" r="1.3" fill="#fff" stroke="#7b5cb0" stroke-width="0.7"/>
<circle cx="180.55" cy="408.77" r="1.3" fill="#fff" stroke="#7b5cb0" stroke-width="0.7"/>
<circle cx="181.68" cy="408.62" r="1.3" fill="#fff" stroke="#7b5cb0" stroke-width="0.7"/>
<circle cx="182.77" cy="408.48" r="1.3" fill="#fff" stroke="#7b5cb0" stroke-width="0.7"/>
<circle cx="183.82" cy="408.35" r="1.3" fill="#fff" stroke="#7b5cb0" stroke-width="0.7"/>
<circle cx="184.85" cy="408.23" r="1.3" fill="#fff" stroke="#7b5cb0" stroke-width="0.7"/>
<circle cx="185.84" cy="408.12" r="1.3" fill="#fff" stroke="#7b5cb0" stroke-width="0.7"/>
<circle cx="186.81" cy="408.01" r="1.3" fill="#fff" stroke="#7b5cb0" stroke-width="0.7"/>
<path d="M42.75 469.07 L43.48 468.96 L44.20 468.85 L44.93 468.74 L45.65 468.62 L46.37 468.51 L47.10 468.39 L47.82 468.27 L48.54 468.15 L49.27 468.03 L49.99 467.90 L50.72 467.78 L51.44 467.65 L52.16 467.53 L52.89 467.40 L53.61 467.27 L54.34 467.14 L55.06 467.01 L55.78 466.88 L56.51 466.74 L57.23 466.61 L57.95 466.47 L58.68 466.34 L59.40 466.20 L60.13 466.06 L60.85 465.92 L61.57 465.78 L62.30 465.64 L63.02 465.50 L63.75 465.35 L64.47 465.21 L65.19 465.06 L65.92 464.92 L66.64 464.77 L67.37 464.62 L68.09 464.48 L68.81 464.33 L69.54 464.18 L70.26 464.03 L70.98 463.88 L71.71 463.72 L72.43 463.57 L73.16 463.42 L73.88 463.26 L74.60 463.11 L75.33 462.95 L76.05 462.80 L76.78 462.64 L77.50 462.48 L78.22 462.32 L78.95 462.17 L79.67 462.01 L80.40 461.85 L81.12 461.68 L81.84 461.52 L82.57 461.35 L83.29 461.18 L84.01 461.00 L84.74 460.83 L85.46 460.65 L86.19 460.47 L86.91 460.28 L87.63 460.10 L88.36 459.92 L89.08 459.73 L89.81 459.54 L90.53 459.36 L91.25 459.17 L91.98 458.98 L92.70 458.80 L93.42 458.61 L94.15 458.42 L94.87 458.24 L95.60 458.06 L96.32 457.87 L97.04 457.69 L97.77 457.52 L98.49 457.36 L99.22 457.22 L99.94 457.08 L100.66 456.95 L101.39 456.82 L102.11 456.69 L102.84 456.55 L103.56 456.40 L104.28 456.24 L105.01 456.06 L105.73 455.87 L106.45 455.64 L107.18 455.39 L107.90 455.11 L108.63 454.79 L109.35 454.28 L110.07 453.52 L110.80 452.53 L111.52 451.35 L112.25 450.00 L112.97 448.52 L113.69 446.93 L114.42 445.26 L115.14 443.55 L115.87 441.83 L116.59 440.12 L117.31 438.39 L118.04 436.31 L118.76 434.02 L119.48 431.78 L120.21 429.85 L120.93 428.40 L121.66 427.17 L122.38 426.09 L123.10 425.15 L123.83 424.34 L124.55 423.63 L125.28 422.96 L126.00 422.35 L126.72 421.78 L127.45 421.25 L128.17 420.76 L128.90 420.30 L129.62 419.87 L130.34 419.47 L131.07 419.08 L131.79 418.71 L132.51 418.35 L133.24 418.00 L133.96 417.66 L134.69 417.33 L135.41 417.01 L136.13 416.71 L136.86 416.41 L137.58 416.12 L138.31 415.84 L139.03 415.57 L139.75 415.30 L140.48 415.04 L141.20 414.79 L141.92 414.54 L142.65 414.30 L143.37 414.06 L144.10 413.83 L144.82 413.60 L145.54 413.37 L146.27 413.15 L146.99 412.93 L147.72 412.71 L148.44 412.50 L149.16 412.29 L149.89 412.08 L150.61 411.87 L151.34 411.67 L152.06 411.47 L152.78 411.28 L153.51 411.09 L154.23 410.90 L154.95 410.71 L155.68 410.53 L156.40 410.35 L157.13 410.17 L157.85 410.00 L158.57 409.83 L159.30 409.66 L160.02 409.49 L160.75 409.33 L161.47 409.17 L162.19 409.01 L162.92 408.85 L163.64 408.70 L164.37 408.54 L165.09 408.40 L165.81 408.25 L166.54 408.10 L167.26 407.96 L167.98 407.82 L168.71 407.68 L169.43 407.54 L170.16 407.40 L170.88 407.27 L171.60 407.14 L172.33 407.00 L173.05 406.87 L173.78 406.75 L174.50 406.62 L175.22 406.49 L175.95 406.37 L176.67 406.25 L177.40 406.13 L178.12 406.02 L178.84 405.90 L179.57 405.79 L180.29 405.68 L181.01 405.57 L181.74 405.46 L182.46 405.36 L183.19 405.26 L183.91 405.16 L184.63 405.07 L185.36 404.97 L186.08 404.88 L186.81 404.79" stroke="#f47c30" stroke-width="1.4" fill="none" stroke-linejoin="round" stroke-linecap="round"/>
<circle cx="42.75" cy="469.07" r="1.3" fill="#fff" stroke="#f47c30" stroke-width="0.7"/>
<circle cx="79.88" cy="461.96" r="1.3" fill="#fff" stroke="#f47c30" stroke-width="0.7"/>
<circle cx="97.14" cy="457.67" r="1.3" fill="#fff" stroke="#f47c30" stroke-width="0.7"/>
<circle cx="108.51" cy="454.85" r="1.3" fill="#fff" stroke="#f47c30" stroke-width="0.7"/>
<circle cx="117.01" cy="439.15" r="1.3" fill="#fff" stroke="#f47c30" stroke-width="0.7"/>
<circle cx="123.79" cy="424.39" r="1.3" fill="#fff" stroke="#f47c30" stroke-width="0.7"/>
<circle cx="129.43" cy="419.98" r="1.3" fill="#fff" stroke="#f47c30" stroke-width="0.7"/>
<circle cx="134.27" cy="417.52" r="1.3" fill="#fff" stroke="#f47c30" stroke-width="0.7"/>
<circle cx="138.50" cy="415.77" r="1.3" fill="#fff" stroke="#f47c30" stroke-width="0.7"/>
<circle cx="142.26" cy="414.43" r="1.3" fill="#fff" stroke="#f47c30" stroke-width="0.7"/>
<circle cx="145.64" cy="413.34" r="1.3" fill="#fff" stroke="#f47c30" stroke-width="0.7"/>
<circle cx="148.71" cy="412.42" r="1.3" fill="#fff" stroke="#f47c30" stroke-width="0.7"/>
<circle cx="151.53" cy="411.62" r="1.3" fill="#fff" stroke="#f47c30" stroke-width="0.7"/>
<circle cx="154.13" cy="410.93" r="1.3" fill="#fff" stroke="#f47c30" stroke-width="0.7"/>
<circle cx="156.55" cy="410.32" r="1.3" fill="#fff" stroke="#f47c30" stroke-width="0.7"/>
<circle cx="158.80" cy="409.77" r="1.3" fill="#fff" stroke="#f47c30" stroke-width="0.7"/>
<circle cx="160.91" cy="409.29" r="1.3" fill="#fff" stroke="#f47c30" stroke-width="0.7"/>
<circle cx="162.90" cy="408.85" r="1.3" fill="#fff" stroke="#f47c30" stroke-width="0.7"/>
<circle cx="164.78" cy="408.46" r="1.3" fill="#fff" stroke="#f47c30" stroke-width="0.7"/>
<circle cx="166.56" cy="408.10" r="1.3" fill="#fff" stroke="#f47c30" stroke-width="0.7"/>
<circle cx="168.25" cy="407.77" r="1.3" fill="#fff" stroke="#f47c30" stroke-width="0.7"/>
<circle cx="169.86" cy="407.46" r="1.3" fill="#fff" stroke="#f47c30" stroke-width="0.7"/>
<circle cx="171.39" cy="407.17" r="1.3" fill="#fff" stroke="#f47c30" stroke-width="0.7"/>
<circle cx="172.86" cy="406.91" r="1.3" fill="#fff" stroke="#f47c30" stroke-width="0.7"/>
<circle cx="174.27" cy="406.66" r="1.3" fill="#fff" stroke="#f47c30" stroke-width="0.7"/>
<circle cx="175.62" cy="406.43" r="1.3" fill="#fff" stroke="#f47c30" stroke-width="0.7"/>
<circle cx="176.92" cy="406.21" r="1.3" fill="#fff" stroke="#f47c30" stroke-width="0.7"/>
<circle cx="178.18" cy="406.01" r="1.3" fill="#fff" stroke="#f47c30" stroke-width="0.7"/>
<circle cx="179.38" cy="405.82" r="1.3" fill="#fff" stroke="#f47c30" stroke-width="0.7"/>
<circle cx="180.55" cy="405.64" r="1.3" fill="#fff" stroke="#f47c30" stroke-width="0.7"/>
<circle cx="181.68" cy="405.47" r="1.3" fill="#fff" stroke="#f47c30" stroke-width="0.7"/>
<circle cx="182.77" cy="405.32" r="1.3" fill="#fff" stroke="#f47c30" stroke-width="0.7"/>
<circle cx="183.82" cy="405.17" r="1.3" fill="#fff" stroke="#f47c30" stroke-width="0.7"/>
<circle cx="184.85" cy="405.04" r="1.3" fill="#fff" stroke="#f47c30" stroke-width="0.7"/>
<circle cx="185.84" cy="404.91" r="1.3" fill="#fff" stroke="#f47c30" stroke-width="0.7"/>
<circle cx="186.81" cy="404.79" r="1.3" fill="#fff" stroke="#f47c30" stroke-width="0.7"/>
<path d="M42.75 495.11 L43.48 494.99 L44.20 494.88 L44.93 494.76 L45.65 494.64 L46.37 494.52 L47.10 494.39 L47.82 494.26 L48.54 494.14 L49.27 494.01 L49.99 493.87 L50.72 493.74 L51.44 493.60 L52.16 493.47 L52.89 493.33 L53.61 493.19 L54.34 493.04 L55.06 492.90 L55.78 492.76 L56.51 492.61 L57.23 492.46 L57.95 492.31 L58.68 492.16 L59.40 492.00 L60.13 491.85 L60.85 491.69 L61.57 491.54 L62.30 491.38 L63.02 491.22 L63.75 491.06 L64.47 490.90 L65.19 490.73 L65.92 490.57 L66.64 490.40 L67.37 490.23 L68.09 490.07 L68.81 489.90 L69.54 489.73 L70.26 489.55 L70.98 489.38 L71.71 489.21 L72.43 489.03 L73.16 488.86 L73.88 488.68 L74.60 488.51 L75.33 488.33 L76.05 488.15 L76.78 487.97 L77.50 487.79 L78.22 487.61 L78.95 487.43 L79.67 487.24 L80.40 487.06 L81.12 486.89 L81.84 486.71 L82.57 486.55 L83.29 486.38 L84.01 486.21 L84.74 486.05 L85.46 485.88 L86.19 485.71 L86.91 485.54 L87.63 485.36 L88.36 485.18 L89.08 484.99 L89.81 484.80 L90.53 484.59 L91.25 484.37 L91.98 484.14 L92.70 483.90 L93.42 483.65 L94.15 483.38 L94.87 483.10 L95.60 482.80 L96.32 482.48 L97.04 482.14 L97.77 481.77 L98.49 481.34 L99.22 480.87 L99.94 480.33 L100.66 479.74 L101.39 479.10 L102.11 478.39 L102.84 477.63 L103.56 476.81 L104.28 475.94 L105.01 475.00 L105.73 474.01 L106.45 472.95 L107.18 471.83 L107.90 470.65 L108.63 469.41 L109.35 467.81 L110.07 465.77 L110.80 463.35 L111.52 460.63 L112.25 457.68 L112.97 454.57 L113.69 451.38 L114.42 448.19 L115.14 445.06 L115.87 442.06 L116.59 439.28 L117.31 436.74 L118.04 434.14 L118.76 431.56 L119.48 429.18 L120.21 427.19 L120.93 425.70 L121.66 424.47 L122.38 423.42 L123.10 422.49 L123.83 421.66 L124.55 420.87 L125.28 420.13 L126.00 419.42 L126.72 418.76 L127.45 418.15 L128.17 417.57 L128.90 417.04 L129.62 416.54 L130.34 416.09 L131.07 415.65 L131.79 415.23 L132.51 414.82 L133.24 414.42 L133.96 414.04 L134.69 413.67 L135.41 413.31 L136.13 412.96 L136.86 412.62 L137.58 412.30 L138.31 411.98 L139.03 411.68 L139.75 411.38 L140.48 411.10 L141.20 410.82 L141.92 410.56 L142.65 410.30 L143.37 410.05 L144.10 409.81 L144.82 409.57 L145.54 409.34 L146.27 409.12 L146.99 408.91 L147.72 408.70 L148.44 408.49 L149.16 408.29 L149.89 408.09 L150.61 407.90 L151.34 407.72 L152.06 407.54 L152.78 407.36 L153.51 407.18 L154.23 407.01 L154.95 406.84 L155.68 406.68 L156.40 406.51 L157.13 406.35 L157.85 406.19 L158.57 406.04 L159.30 405.88 L160.02 405.73 L160.75 405.57 L161.47 405.42 L162.19 405.27 L162.92 405.12 L163.64 404.97 L164.37 404.81 L165.09 404.66 L165.81 404.51 L166.54 404.35 L167.26 404.20 L167.98 404.04 L168.71 403.89 L169.43 403.73 L170.16 403.58 L170.88 403.43 L171.60 403.28 L172.33 403.13 L173.05 402.98 L173.78 402.83 L174.50 402.69 L175.22 402.54 L175.95 402.40 L176.67 402.26 L177.40 402.11 L178.12 401.97 L178.84 401.83 L179.57 401.69 L180.29 401.56 L181.01 401.42 L181.74 401.28 L182.46 401.15 L183.19 401.01 L183.91 400.88 L184.63 400.75 L185.36 400.62 L186.08 400.49 L186.81 400.36" stroke="#4cae52" stroke-width="1.4" fill="none" stroke-linejoin="round" stroke-linecap="round"/>
<circle cx="42.75" cy="495.11" r="1.3" fill="#fff" stroke="#4cae52" stroke-width="0.7"/>
<circle cx="79.88" cy="487.19" r="1.3" fill="#fff" stroke="#4cae52" stroke-width="0.7"/>
<circle cx="97.14" cy="482.09" r="1.3" fill="#fff" stroke="#4cae52" stroke-width="0.7"/>
<circle cx="108.51" cy="469.61" r="1.3" fill="#fff" stroke="#4cae52" stroke-width="0.7"/>
<circle cx="117.01" cy="437.81" r="1.3" fill="#fff" stroke="#4cae52" stroke-width="0.7"/>
<circle cx="123.79" cy="421.70" r="1.3" fill="#fff" stroke="#4cae52" stroke-width="0.7"/>
<circle cx="129.43" cy="416.67" r="1.3" fill="#fff" stroke="#4cae52" stroke-width="0.7"/>
<circle cx="134.27" cy="413.88" r="1.3" fill="#fff" stroke="#4cae52" stroke-width="0.7"/>
<circle cx="138.50" cy="411.90" r="1.3" fill="#fff" stroke="#4cae52" stroke-width="0.7"/>
<circle cx="142.26" cy="410.44" r="1.3" fill="#fff" stroke="#4cae52" stroke-width="0.7"/>
<circle cx="145.64" cy="409.31" r="1.3" fill="#fff" stroke="#4cae52" stroke-width="0.7"/>
<circle cx="148.71" cy="408.41" r="1.3" fill="#fff" stroke="#4cae52" stroke-width="0.7"/>
<circle cx="151.53" cy="407.67" r="1.3" fill="#fff" stroke="#4cae52" stroke-width="0.7"/>
<circle cx="154.13" cy="407.03" r="1.3" fill="#fff" stroke="#4cae52" stroke-width="0.7"/>
<circle cx="156.55" cy="406.48" r="1.3" fill="#fff" stroke="#4cae52" stroke-width="0.7"/>
<circle cx="158.80" cy="405.99" r="1.3" fill="#fff" stroke="#4cae52" stroke-width="0.7"/>
<circle cx="160.91" cy="405.54" r="1.3" fill="#fff" stroke="#4cae52" stroke-width="0.7"/>
<circle cx="162.90" cy="405.12" r="1.3" fill="#fff" stroke="#4cae52" stroke-width="0.7"/>
<circle cx="164.78" cy="404.73" r="1.3" fill="#fff" stroke="#4cae52" stroke-width="0.7"/>
<circle cx="166.56" cy="404.35" r="1.3" fill="#fff" stroke="#4cae52" stroke-width="0.7"/>
<circle cx="168.25" cy="403.99" r="1.3" fill="#fff" stroke="#4cae52" stroke-width="0.7"/>
<circle cx="169.86" cy="403.64" r="1.3" fill="#fff" stroke="#4cae52" stroke-width="0.7"/>
<circle cx="171.39" cy="403.32" r="1.3" fill="#fff" stroke="#4cae52" stroke-width="0.7"/>
<circle cx="172.86" cy="403.02" r="1.3" fill="#fff" stroke="#4cae52" stroke-width="0.7"/>
<circle cx="174.27" cy="402.73" r="1.3" fill="#fff" stroke="#4cae52" stroke-width="0.7"/>
<circle cx="175.62" cy="402.46" r="1.3" fill="#fff" stroke="#4cae52" stroke-width="0.7"/>
<circle cx="176.92" cy="402.21" r="1.3" fill="#fff" stroke="#4cae52" stroke-width="0.7"/>
<circle cx="178.18" cy="401.96" r="1.3" fill="#fff" stroke="#4cae52" stroke-width="0.7"/>
<circle cx="179.38" cy="401.73" r="1.3" fill="#fff" stroke="#4cae52" stroke-width="0.7"/>
<circle cx="180.55" cy="401.51" r="1.3" fill="#fff" stroke="#4cae52" stroke-width="0.7"/>
<circle cx="181.68" cy="401.29" r="1.3" fill="#fff" stroke="#4cae52" stroke-width="0.7"/>
<circle cx="182.77" cy="401.09" r="1.3" fill="#fff" stroke="#4cae52" stroke-width="0.7"/>
<circle cx="183.82" cy="400.90" r="1.3" fill="#fff" stroke="#4cae52" stroke-width="0.7"/>
<circle cx="184.85" cy="400.71" r="1.3" fill="#fff" stroke="#4cae52" stroke-width="0.7"/>
<circle cx="185.84" cy="400.53" r="1.3" fill="#fff" stroke="#4cae52" stroke-width="0.7"/>
<circle cx="186.81" cy="400.36" r="1.3" fill="#fff" stroke="#4cae52" stroke-width="0.7"/>
<path d="M42.75 482.36 L43.48 482.25 L44.20 482.13 L44.93 482.02 L45.65 481.90 L46.37 481.78 L47.10 481.66 L47.82 481.54 L48.54 481.42 L49.27 481.30 L49.99 481.18 L50.72 481.06 L51.44 480.93 L52.16 480.81 L52.89 480.68 L53.61 480.56 L54.34 480.43 L55.06 480.30 L55.78 480.17 L56.51 480.05 L57.23 479.91 L57.95 479.78 L58.68 479.65 L59.40 479.52 L60.13 479.39 L60.85 479.25 L61.57 479.12 L62.30 478.98 L63.02 478.85 L63.75 478.71 L64.47 478.57 L65.19 478.43 L65.92 478.30 L66.64 478.16 L67.37 478.02 L68.09 477.88 L68.81 477.74 L69.54 477.59 L70.26 477.45 L70.98 477.31 L71.71 477.17 L72.43 477.02 L73.16 476.88 L73.88 476.73 L74.60 476.59 L75.33 476.44 L76.05 476.30 L76.78 476.15 L77.50 476.00 L78.22 475.86 L78.95 475.71 L79.67 475.56 L80.40 475.41 L81.12 475.27 L81.84 475.13 L82.57 475.00 L83.29 474.87 L84.01 474.74 L84.74 474.61 L85.46 474.48 L86.19 474.35 L86.91 474.22 L87.63 474.09 L88.36 473.95 L89.08 473.81 L89.81 473.66 L90.53 473.50 L91.25 473.34 L91.98 473.17 L92.70 472.99 L93.42 472.80 L94.15 472.60 L94.87 472.38 L95.60 472.16 L96.32 471.92 L97.04 471.66 L97.77 471.38 L98.49 471.06 L99.22 470.71 L99.94 470.31 L100.66 469.88 L101.39 469.40 L102.11 468.89 L102.84 468.33 L103.56 467.72 L104.28 467.08 L105.01 466.38 L105.73 465.65 L106.45 464.86 L107.18 464.03 L107.90 463.15 L108.63 462.21 L109.35 461.02 L110.07 459.48 L110.80 457.66 L111.52 455.60 L112.25 453.35 L112.97 450.97 L113.69 448.50 L114.42 446.00 L115.14 443.51 L115.87 441.09 L116.59 438.79 L117.31 436.61 L118.04 434.30 L118.76 431.94 L119.48 429.73 L120.21 427.83 L120.93 426.38 L121.66 425.15 L122.38 424.07 L123.10 423.14 L123.83 422.33 L124.55 421.61 L125.28 420.95 L126.00 420.33 L126.72 419.76 L127.45 419.24 L128.17 418.75 L128.90 418.29 L129.62 417.86 L130.34 417.46 L131.07 417.07 L131.79 416.69 L132.51 416.32 L133.24 415.96 L133.96 415.62 L134.69 415.28 L135.41 414.96 L136.13 414.64 L136.86 414.34 L137.58 414.04 L138.31 413.76 L139.03 413.48 L139.75 413.22 L140.48 412.96 L141.20 412.71 L141.92 412.47 L142.65 412.24 L143.37 412.02 L144.10 411.80 L144.82 411.59 L145.54 411.39 L146.27 411.19 L146.99 411.00 L147.72 410.82 L148.44 410.63 L149.16 410.46 L149.89 410.28 L150.61 410.12 L151.34 409.95 L152.06 409.79 L152.78 409.63 L153.51 409.48 L154.23 409.33 L154.95 409.18 L155.68 409.03 L156.40 408.89 L157.13 408.75 L157.85 408.61 L158.57 408.47 L159.30 408.34 L160.02 408.20 L160.75 408.07 L161.47 407.94 L162.19 407.81 L162.92 407.68 L163.64 407.55 L164.37 407.42 L165.09 407.29 L165.81 407.15 L166.54 407.02 L167.26 406.89 L167.98 406.76 L168.71 406.63 L169.43 406.50 L170.16 406.37 L170.88 406.24 L171.60 406.12 L172.33 405.99 L173.05 405.87 L173.78 405.74 L174.50 405.62 L175.22 405.50 L175.95 405.38 L176.67 405.26 L177.40 405.14 L178.12 405.03 L178.84 404.91 L179.57 404.80 L180.29 404.68 L181.01 404.57 L181.74 404.46 L182.46 404.35 L183.19 404.24 L183.91 404.14 L184.63 404.03 L185.36 403.92 L186.08 403.82 L186.81 403.72" stroke="#000000" stroke-width="1.4" fill="none" stroke-linejoin="round" stroke-linecap="round"/>
<circle cx="42.75" cy="482.36" r="1.3" fill="#fff" stroke="#000000" stroke-width="0.7"/>
<circle cx="79.88" cy="475.52" r="1.3" fill="#fff" stroke="#000000" stroke-width="0.7"/>
<circle cx="97.14" cy="471.62" r="1.3" fill="#fff" stroke="#000000" stroke-width="0.7"/>
<circle cx="108.51" cy="462.36" r="1.3" fill="#fff" stroke="#000000" stroke-width="0.7"/>
<circle cx="117.01" cy="437.54" r="1.3" fill="#fff" stroke="#000000" stroke-width="0.7"/>
<circle cx="123.79" cy="422.37" r="1.3" fill="#fff" stroke="#000000" stroke-width="0.7"/>
<circle cx="129.43" cy="417.97" r="1.3" fill="#fff" stroke="#000000" stroke-width="0.7"/>
<circle cx="134.27" cy="415.48" r="1.3" fill="#fff" stroke="#000000" stroke-width="0.7"/>
<circle cx="138.50" cy="413.69" r="1.3" fill="#fff" stroke="#000000" stroke-width="0.7"/>
<circle cx="142.26" cy="412.36" r="1.3" fill="#fff" stroke="#000000" stroke-width="0.7"/>
<circle cx="145.64" cy="411.36" r="1.3" fill="#fff" stroke="#000000" stroke-width="0.7"/>
<circle cx="148.71" cy="410.57" r="1.3" fill="#fff" stroke="#000000" stroke-width="0.7"/>
<circle cx="151.53" cy="409.91" r="1.3" fill="#fff" stroke="#000000" stroke-width="0.7"/>
<circle cx="154.13" cy="409.35" r="1.3" fill="#fff" stroke="#000000" stroke-width="0.7"/>
<circle cx="156.55" cy="408.86" r="1.3" fill="#fff" stroke="#000000" stroke-width="0.7"/>
<circle cx="158.80" cy="408.43" r="1.3" fill="#fff" stroke="#000000" stroke-width="0.7"/>
<circle cx="160.91" cy="408.04" r="1.3" fill="#fff" stroke="#000000" stroke-width="0.7"/>
<circle cx="162.90" cy="407.68" r="1.3" fill="#fff" stroke="#000000" stroke-width="0.7"/>
<circle cx="164.78" cy="407.34" r="1.3" fill="#fff" stroke="#000000" stroke-width="0.7"/>
<circle cx="166.56" cy="407.02" r="1.3" fill="#fff" stroke="#000000" stroke-width="0.7"/>
<circle cx="168.25" cy="406.71" r="1.3" fill="#fff" stroke="#000000" stroke-width="0.7"/>
<circle cx="169.86" cy="406.42" r="1.3" fill="#fff" stroke="#000000" stroke-width="0.7"/>
<circle cx="171.39" cy="406.15" r="1.3" fill="#fff" stroke="#000000" stroke-width="0.7"/>
<circle cx="172.86" cy="405.90" r="1.3" fill="#fff" stroke="#000000" stroke-width="0.7"/>
<circle cx="174.27" cy="405.66" r="1.3" fill="#fff" stroke="#000000" stroke-width="0.7"/>
<circle cx="175.62" cy="405.43" r="1.3" fill="#fff" stroke="#000000" stroke-width="0.7"/>
<circle cx="176.92" cy="405.22" r="1.3" fill="#fff" stroke="#000000" stroke-width="0.7"/>
<circle cx="178.18" cy="405.02" r="1.3" fill="#fff" stroke="#000000" stroke-width="0.7"/>
<circle cx="179.38" cy="404.82" r="1.3" fill="#fff" stroke="#000000" stroke-width="0.7"/>
<circle cx="180.55" cy="404.64" r="1.3" fill="#fff" stroke="#000000" stroke-width="0.7"/>
<circle cx="181.68" cy="404.47" r="1.3" fill="#fff" stroke="#000000" stroke-width="0.7"/>
<circle cx="182.77" cy="404.30" r="1.3" fill="#fff" stroke="#000000" stroke-width="0.7"/>
<circle cx="183.82" cy="404.15" r="1.3" fill="#fff" stroke="#000000" stroke-width="0.7"/>
<circle cx="184.85" cy="404.00" r="1.3" fill="#fff" stroke="#000000" stroke-width="0.7"/>
<circle cx="185.84" cy="403.86" r="1.3" fill="#fff" stroke="#000000" stroke-width="0.7"/>
<circle cx="186.81" cy="403.72" r="1.3" fill="#fff" stroke="#000000" stroke-width="0.7"/>
</g>
<rect x="30.70" y="380.10" width="166.30" height="134.20" fill="none" stroke="#000" stroke-width="1.7"/>
<path d="M42.75 514.30v-3.0M120.57 514.30v-3.0M35.21 514.30v-1.8M39.19 514.30v-1.8M66.18 514.30v-1.8M79.88 514.30v-1.8M89.60 514.30v-1.8M97.14 514.30v-1.8M103.30 514.30v-1.8M108.51 514.30v-1.8M113.03 514.30v-1.8M117.01 514.30v-1.8M143.99 514.30v-1.8M157.69 514.30v-1.8M167.41 514.30v-1.8M174.96 514.30v-1.8M181.12 514.30v-1.8M186.33 514.30v-1.8M190.84 514.30v-1.8M194.82 514.30v-1.8" stroke="#000" stroke-width="1.1" fill="none"/>
<path d="M30.70 514.30h3.0M30.70 500.88h3.0M30.70 487.46h3.0M30.70 474.04h3.0M30.70 460.62h3.0M30.70 447.20h3.0M30.70 433.78h3.0M30.70 420.36h3.0M30.70 406.94h3.0M30.70 393.52h3.0M30.70 380.10h3.0" stroke="#000" stroke-width="1.1" fill="none"/>
<path d="M30.70 510.26h1.4M30.70 507.90h1.4M30.70 506.22h1.4M30.70 504.92h1.4M30.70 503.86h1.4M30.70 502.96h1.4M30.70 502.18h1.4M30.70 501.49h1.4M30.70 496.84h1.4M30.70 494.48h1.4M30.70 492.80h1.4M30.70 491.50h1.4M30.70 490.44h1.4M30.70 489.54h1.4M30.70 488.76h1.4M30.70 488.07h1.4M30.70 483.42h1.4M30.70 481.06h1.4M30.70 479.38h1.4M30.70 478.08h1.4M30.70 477.02h1.4M30.70 476.12h1.4M30.70 475.34h1.4M30.70 474.65h1.4M30.70 470.00h1.4M30.70 467.64h1.4M30.70 465.96h1.4M30.70 464.66h1.4M30.70 463.60h1.4M30.70 462.70h1.4M30.70 461.92h1.4M30.70 461.23h1.4M30.70 456.58h1.4M30.70 454.22h1.4M30.70 452.54h1.4M30.70 451.24h1.4M30.70 450.18h1.4M30.70 449.28h1.4M30.70 448.50h1.4M30.70 447.81h1.4M30.70 443.16h1.4M30.70 440.80h1.4M30.70 439.12h1.4M30.70 437.82h1.4M30.70 436.76h1.4M30.70 435.86h1.4M30.70 435.08h1.4M30.70 434.39h1.4M30.70 429.74h1.4M30.70 427.38h1.4M30.70 425.70h1.4M30.70 424.40h1.4M30.70 423.34h1.4M30.70 422.44h1.4M30.70 421.66h1.4M30.70 420.97h1.4M30.70 416.32h1.4M30.70 413.96h1.4M30.70 412.28h1.4M30.70 410.98h1.4M30.70 409.92h1.4M30.70 409.02h1.4M30.70 408.24h1.4M30.70 407.55h1.4M30.70 402.90h1.4M30.70 400.54h1.4M30.70 398.86h1.4M30.70 397.56h1.4M30.70 396.50h1.4M30.70 395.60h1.4M30.70 394.82h1.4M30.70 394.13h1.4M30.70 389.48h1.4M30.70 387.12h1.4M30.70 385.44h1.4M30.70 384.14h1.4M30.70 383.08h1.4M30.70 382.18h1.4M30.70 381.40h1.4M30.70 380.71h1.4" stroke="#000" stroke-width="0.8" fill="none"/>
<text x="42.75" y="524.60" font-size="8.6" text-anchor="middle" fill="#000">0.1</text>
<text x="120.57" y="524.60" font-size="8.6" text-anchor="middle" fill="#000">1</text>
<text x="27.60" y="383.50" font-size="9.2" text-anchor="end" font-weight="normal" fill="#000" style="stroke:none">10<tspan font-size="6.2" dy="-3.2">5</tspan></text>
<text x="27.60" y="410.34" font-size="9.2" text-anchor="end" font-weight="normal" fill="#000" style="stroke:none">10<tspan font-size="6.2" dy="-3.2">3</tspan></text>
<text x="27.60" y="437.18" font-size="9.2" text-anchor="end" font-weight="normal" fill="#000" style="stroke:none">10<tspan font-size="6.2" dy="-3.2">1</tspan></text>
<text x="27.60" y="464.02" font-size="9.2" text-anchor="end" font-weight="normal" fill="#000" style="stroke:none">10<tspan font-size="6.2" dy="-3.2">-1</tspan></text>
<text x="27.60" y="490.86" font-size="9.2" text-anchor="end" font-weight="normal" fill="#000" style="stroke:none">10<tspan font-size="6.2" dy="-3.2">-3</tspan></text>
<text x="27.60" y="517.70" font-size="9.2" text-anchor="end" font-weight="normal" fill="#000" style="stroke:none">10<tspan font-size="6.2" dy="-3.2">-5</tspan></text>
<text x="114.20" y="540.00" font-size="8.8" text-anchor="middle" fill="#000">Voltage (V)</text>
<text x="7.70" y="447.00" font-size="8.8" text-anchor="middle" fill="#000" transform="rotate(-90.00 7.70 447.00)">Current (mA cm<tspan font-size="5.5" dy="-3.2">-2</tspan><tspan dy="3.2">)</tspan></text>
<text x="41.60" y="396.20" font-size="8.1" text-anchor="start" fill="#000">Electron-only device</text>
<line x1="129.9" y1="466.3" x2="148.6" y2="466.3" stroke="#000000" stroke-width="1.4"/>
<circle cx="139.25" cy="466.30" r="1.3" fill="#fff" stroke="#000000" stroke-width="0.7"/>
<text x="151.00" y="469.20" font-size="8.2" text-anchor="start" fill="#000">PM6:L8-BO</text>
<line x1="129.9" y1="476.6" x2="148.6" y2="476.6" stroke="#7b5cb0" stroke-width="1.4"/>
<circle cx="139.25" cy="476.60" r="1.3" fill="#fff" stroke="#7b5cb0" stroke-width="0.7"/>
<text x="151.00" y="479.50" font-size="8.2" text-anchor="start" fill="#000">S1:L8-BO</text>
<line x1="129.9" y1="486.8" x2="148.6" y2="486.8" stroke="#4cae52" stroke-width="1.4"/>
<circle cx="139.25" cy="486.80" r="1.3" fill="#fff" stroke="#4cae52" stroke-width="0.7"/>
<text x="151.00" y="489.70" font-size="8.2" text-anchor="start" fill="#000">S2:L8-BO</text>
<line x1="129.9" y1="496.9" x2="148.6" y2="496.9" stroke="#f47c30" stroke-width="1.4"/>
<circle cx="139.25" cy="496.90" r="1.3" fill="#fff" stroke="#f47c30" stroke-width="0.7"/>
<text x="151.00" y="499.80" font-size="8.2" text-anchor="start" fill="#000">S3:L8-BO</text>
<text x="225.90" y="376.40" font-size="13.5" text-anchor="start" fill="#000">h</text>
<clipPath id="ch"><rect x="260.90" y="380.10" width="166.70" height="134.20"/></clipPath>
<g clip-path="url(#ch)">
<path d="M272.31 488.53 L273.04 488.45 L273.76 488.35 L274.49 488.26 L275.21 488.16 L275.94 488.07 L276.66 487.97 L277.39 487.86 L278.12 487.76 L278.84 487.65 L279.57 487.54 L280.29 487.43 L281.02 487.31 L281.74 487.20 L282.47 487.08 L283.19 486.96 L283.92 486.84 L284.64 486.71 L285.37 486.58 L286.09 486.46 L286.82 486.33 L287.54 486.19 L288.27 486.06 L288.99 485.93 L289.72 485.79 L290.44 485.65 L291.17 485.51 L291.89 485.37 L292.62 485.22 L293.34 485.08 L294.07 484.93 L294.79 484.78 L295.52 484.63 L296.24 484.48 L296.97 484.33 L297.69 484.18 L298.42 484.02 L299.14 483.87 L299.87 483.71 L300.59 483.55 L301.32 483.39 L302.04 483.23 L302.77 483.07 L303.50 482.91 L304.22 482.74 L304.95 482.58 L305.67 482.41 L306.40 482.25 L307.12 482.08 L307.85 481.91 L308.57 481.74 L309.30 481.58 L310.02 481.41 L310.75 481.24 L311.47 481.08 L312.20 480.93 L312.92 480.77 L313.65 480.61 L314.37 480.46 L315.10 480.30 L315.82 480.13 L316.55 479.96 L317.27 479.79 L318.00 479.61 L318.72 479.42 L319.45 479.23 L320.17 479.02 L320.90 478.81 L321.62 478.58 L322.35 478.34 L323.07 478.08 L323.80 477.81 L324.52 477.52 L325.25 477.22 L325.97 476.89 L326.70 476.55 L327.42 476.15 L328.15 475.68 L328.87 475.14 L329.60 474.53 L330.33 473.85 L331.05 473.11 L331.78 472.30 L332.50 471.44 L333.23 470.51 L333.95 469.53 L334.68 468.50 L335.40 467.41 L336.13 466.27 L336.85 465.09 L337.58 463.86 L338.30 462.55 L339.03 460.88 L339.75 458.86 L340.48 456.56 L341.20 454.06 L341.93 451.43 L342.65 448.74 L343.38 446.05 L344.10 443.45 L344.83 441.01 L345.55 438.79 L346.28 436.87 L347.00 435.24 L347.73 433.73 L348.45 432.35 L349.18 431.07 L349.90 429.91 L350.63 428.85 L351.35 427.88 L352.08 426.98 L352.80 426.17 L353.53 425.42 L354.25 424.71 L354.98 424.03 L355.71 423.39 L356.43 422.78 L357.16 422.21 L357.88 421.68 L358.61 421.19 L359.33 420.74 L360.06 420.31 L360.78 419.89 L361.51 419.48 L362.23 419.09 L362.96 418.70 L363.68 418.33 L364.41 417.97 L365.13 417.62 L365.86 417.29 L366.58 416.96 L367.31 416.64 L368.03 416.34 L368.76 416.04 L369.48 415.75 L370.21 415.47 L370.93 415.19 L371.66 414.93 L372.38 414.67 L373.11 414.42 L373.83 414.17 L374.56 413.93 L375.28 413.70 L376.01 413.46 L376.73 413.23 L377.46 413.01 L378.18 412.79 L378.91 412.57 L379.63 412.35 L380.36 412.14 L381.09 411.94 L381.81 411.73 L382.54 411.53 L383.26 411.34 L383.99 411.15 L384.71 410.96 L385.44 410.77 L386.16 410.59 L386.89 410.41 L387.61 410.23 L388.34 410.06 L389.06 409.89 L389.79 409.73 L390.51 409.56 L391.24 409.41 L391.96 409.25 L392.69 409.10 L393.41 408.94 L394.14 408.80 L394.86 408.65 L395.59 408.51 L396.31 408.37 L397.04 408.23 L397.76 408.10 L398.49 407.97 L399.21 407.83 L399.94 407.71 L400.66 407.58 L401.39 407.45 L402.11 407.33 L402.84 407.20 L403.56 407.08 L404.29 406.96 L405.01 406.85 L405.74 406.73 L406.47 406.62 L407.19 406.51 L407.92 406.40 L408.64 406.30 L409.37 406.20 L410.09 406.10 L410.82 406.00 L411.54 405.91 L412.27 405.82 L412.99 405.73 L413.72 405.64 L414.44 405.56 L415.17 405.48 L415.89 405.40 L416.62 405.33" stroke="#7b5cb0" stroke-width="1.4" fill="none" stroke-linejoin="round" stroke-linecap="round"/>
<circle cx="272.31" cy="488.53" r="1.3" fill="#fff" stroke="#7b5cb0" stroke-width="0.7"/>
<circle cx="309.38" cy="481.56" r="1.3" fill="#fff" stroke="#7b5cb0" stroke-width="0.7"/>
<circle cx="326.62" cy="476.59" r="1.3" fill="#fff" stroke="#7b5cb0" stroke-width="0.7"/>
<circle cx="337.97" cy="463.17" r="1.3" fill="#fff" stroke="#7b5cb0" stroke-width="0.7"/>
<circle cx="346.45" cy="436.46" r="1.3" fill="#fff" stroke="#7b5cb0" stroke-width="0.7"/>
<circle cx="353.22" cy="425.73" r="1.3" fill="#fff" stroke="#7b5cb0" stroke-width="0.7"/>
<circle cx="358.86" cy="421.03" r="1.3" fill="#fff" stroke="#7b5cb0" stroke-width="0.7"/>
<circle cx="363.69" cy="418.33" r="1.3" fill="#fff" stroke="#7b5cb0" stroke-width="0.7"/>
<circle cx="367.91" cy="416.39" r="1.3" fill="#fff" stroke="#7b5cb0" stroke-width="0.7"/>
<circle cx="371.67" cy="414.93" r="1.3" fill="#fff" stroke="#7b5cb0" stroke-width="0.7"/>
<circle cx="375.04" cy="413.77" r="1.3" fill="#fff" stroke="#7b5cb0" stroke-width="0.7"/>
<circle cx="378.11" cy="412.81" r="1.3" fill="#fff" stroke="#7b5cb0" stroke-width="0.7"/>
<circle cx="380.93" cy="411.98" r="1.3" fill="#fff" stroke="#7b5cb0" stroke-width="0.7"/>
<circle cx="383.52" cy="411.27" r="1.3" fill="#fff" stroke="#7b5cb0" stroke-width="0.7"/>
<circle cx="385.93" cy="410.65" r="1.3" fill="#fff" stroke="#7b5cb0" stroke-width="0.7"/>
<circle cx="388.18" cy="410.10" r="1.3" fill="#fff" stroke="#7b5cb0" stroke-width="0.7"/>
<circle cx="390.29" cy="409.61" r="1.3" fill="#fff" stroke="#7b5cb0" stroke-width="0.7"/>
<circle cx="392.28" cy="409.18" r="1.3" fill="#fff" stroke="#7b5cb0" stroke-width="0.7"/>
<circle cx="394.15" cy="408.79" r="1.3" fill="#fff" stroke="#7b5cb0" stroke-width="0.7"/>
<circle cx="395.93" cy="408.44" r="1.3" fill="#fff" stroke="#7b5cb0" stroke-width="0.7"/>
<circle cx="397.62" cy="408.13" r="1.3" fill="#fff" stroke="#7b5cb0" stroke-width="0.7"/>
<circle cx="399.22" cy="407.83" r="1.3" fill="#fff" stroke="#7b5cb0" stroke-width="0.7"/>
<circle cx="400.76" cy="407.56" r="1.3" fill="#fff" stroke="#7b5cb0" stroke-width="0.7"/>
<circle cx="402.23" cy="407.31" r="1.3" fill="#fff" stroke="#7b5cb0" stroke-width="0.7"/>
<circle cx="403.63" cy="407.07" r="1.3" fill="#fff" stroke="#7b5cb0" stroke-width="0.7"/>
<circle cx="404.98" cy="406.85" r="1.3" fill="#fff" stroke="#7b5cb0" stroke-width="0.7"/>
<circle cx="406.28" cy="406.65" r="1.3" fill="#fff" stroke="#7b5cb0" stroke-width="0.7"/>
<circle cx="407.53" cy="406.46" r="1.3" fill="#fff" stroke="#7b5cb0" stroke-width="0.7"/>
<circle cx="408.73" cy="406.29" r="1.3" fill="#fff" stroke="#7b5cb0" stroke-width="0.7"/>
<circle cx="409.90" cy="406.12" r="1.3" fill="#fff" stroke="#7b5cb0" stroke-width="0.7"/>
<circle cx="411.02" cy="405.97" r="1.3" fill="#fff" stroke="#7b5cb0" stroke-width="0.7"/>
<circle cx="412.11" cy="405.83" r="1.3" fill="#fff" stroke="#7b5cb0" stroke-width="0.7"/>
<circle cx="413.17" cy="405.71" r="1.3" fill="#fff" stroke="#7b5cb0" stroke-width="0.7"/>
<circle cx="414.19" cy="405.59" r="1.3" fill="#fff" stroke="#7b5cb0" stroke-width="0.7"/>
<circle cx="415.18" cy="405.48" r="1.3" fill="#fff" stroke="#7b5cb0" stroke-width="0.7"/>
<circle cx="416.15" cy="405.38" r="1.3" fill="#fff" stroke="#7b5cb0" stroke-width="0.7"/>
<path d="M272.31 492.02 L273.04 491.89 L273.76 491.76 L274.49 491.63 L275.21 491.49 L275.94 491.36 L276.66 491.22 L277.39 491.09 L278.12 490.95 L278.84 490.82 L279.57 490.68 L280.29 490.54 L281.02 490.41 L281.74 490.27 L282.47 490.13 L283.19 489.99 L283.92 489.85 L284.64 489.71 L285.37 489.57 L286.09 489.42 L286.82 489.28 L287.54 489.14 L288.27 489.00 L288.99 488.85 L289.72 488.71 L290.44 488.56 L291.17 488.42 L291.89 488.27 L292.62 488.13 L293.34 487.98 L294.07 487.83 L294.79 487.69 L295.52 487.54 L296.24 487.39 L296.97 487.24 L297.69 487.09 L298.42 486.94 L299.14 486.79 L299.87 486.64 L300.59 486.49 L301.32 486.34 L302.04 486.19 L302.77 486.04 L303.50 485.89 L304.22 485.74 L304.95 485.58 L305.67 485.43 L306.40 485.28 L307.12 485.12 L307.85 484.97 L308.57 484.81 L309.30 484.66 L310.02 484.51 L310.75 484.37 L311.47 484.23 L312.20 484.10 L312.92 483.97 L313.65 483.85 L314.37 483.73 L315.10 483.61 L315.82 483.48 L316.55 483.36 L317.27 483.23 L318.00 483.10 L318.72 482.96 L319.45 482.82 L320.17 482.67 L320.90 482.51 L321.62 482.33 L322.35 482.15 L323.07 481.95 L323.80 481.74 L324.52 481.51 L325.25 481.26 L325.97 481.00 L326.70 480.72 L327.42 480.37 L328.15 479.92 L328.87 479.38 L329.60 478.76 L330.33 478.05 L331.05 477.26 L331.78 476.40 L332.50 475.47 L333.23 474.48 L333.95 473.42 L334.68 472.31 L335.40 471.14 L336.13 469.93 L336.85 468.68 L337.58 467.38 L338.30 466.02 L339.03 464.35 L339.75 462.38 L340.48 460.16 L341.20 457.74 L341.93 455.17 L342.65 452.51 L343.38 449.81 L344.10 447.13 L344.83 444.51 L345.55 442.01 L346.28 439.68 L347.00 437.46 L347.73 435.18 L348.45 432.97 L349.18 430.96 L349.90 429.29 L350.63 427.95 L351.35 426.79 L352.08 425.76 L352.80 424.86 L353.53 424.06 L354.25 423.32 L354.98 422.64 L355.71 422.01 L356.43 421.42 L357.16 420.87 L357.88 420.35 L358.61 419.86 L359.33 419.38 L360.06 418.92 L360.78 418.47 L361.51 418.02 L362.23 417.59 L362.96 417.17 L363.68 416.76 L364.41 416.36 L365.13 415.97 L365.86 415.59 L366.58 415.22 L367.31 414.86 L368.03 414.51 L368.76 414.18 L369.48 413.85 L370.21 413.54 L370.93 413.24 L371.66 412.95 L372.38 412.68 L373.11 412.41 L373.83 412.16 L374.56 411.91 L375.28 411.67 L376.01 411.43 L376.73 411.20 L377.46 410.97 L378.18 410.75 L378.91 410.54 L379.63 410.33 L380.36 410.12 L381.09 409.92 L381.81 409.73 L382.54 409.53 L383.26 409.35 L383.99 409.16 L384.71 408.98 L385.44 408.80 L386.16 408.62 L386.89 408.45 L387.61 408.28 L388.34 408.11 L389.06 407.95 L389.79 407.78 L390.51 407.62 L391.24 407.46 L391.96 407.30 L392.69 407.15 L393.41 406.99 L394.14 406.83 L394.86 406.68 L395.59 406.52 L396.31 406.37 L397.04 406.21 L397.76 406.06 L398.49 405.91 L399.21 405.76 L399.94 405.61 L400.66 405.46 L401.39 405.32 L402.11 405.17 L402.84 405.03 L403.56 404.89 L404.29 404.75 L405.01 404.61 L405.74 404.47 L406.47 404.34 L407.19 404.21 L407.92 404.08 L408.64 403.95 L409.37 403.82 L410.09 403.69 L410.82 403.57 L411.54 403.45 L412.27 403.33 L412.99 403.21 L413.72 403.09 L414.44 402.98 L415.17 402.86 L415.89 402.75 L416.62 402.65" stroke="#f47c30" stroke-width="1.4" fill="none" stroke-linejoin="round" stroke-linecap="round"/>
<circle cx="272.31" cy="492.02" r="1.3" fill="#fff" stroke="#f47c30" stroke-width="0.7"/>
<circle cx="309.38" cy="484.64" r="1.3" fill="#fff" stroke="#f47c30" stroke-width="0.7"/>
<circle cx="326.62" cy="480.75" r="1.3" fill="#fff" stroke="#f47c30" stroke-width="0.7"/>
<circle cx="337.97" cy="466.66" r="1.3" fill="#fff" stroke="#f47c30" stroke-width="0.7"/>
<circle cx="346.45" cy="439.15" r="1.3" fill="#fff" stroke="#f47c30" stroke-width="0.7"/>
<circle cx="353.22" cy="424.39" r="1.3" fill="#fff" stroke="#f47c30" stroke-width="0.7"/>
<circle cx="358.86" cy="419.69" r="1.3" fill="#fff" stroke="#f47c30" stroke-width="0.7"/>
<circle cx="363.69" cy="416.75" r="1.3" fill="#fff" stroke="#f47c30" stroke-width="0.7"/>
<circle cx="367.91" cy="414.57" r="1.3" fill="#fff" stroke="#f47c30" stroke-width="0.7"/>
<circle cx="371.67" cy="412.95" r="1.3" fill="#fff" stroke="#f47c30" stroke-width="0.7"/>
<circle cx="375.04" cy="411.75" r="1.3" fill="#fff" stroke="#f47c30" stroke-width="0.7"/>
<circle cx="378.11" cy="410.78" r="1.3" fill="#fff" stroke="#f47c30" stroke-width="0.7"/>
<circle cx="380.93" cy="409.97" r="1.3" fill="#fff" stroke="#f47c30" stroke-width="0.7"/>
<circle cx="383.52" cy="409.28" r="1.3" fill="#fff" stroke="#f47c30" stroke-width="0.7"/>
<circle cx="385.93" cy="408.68" r="1.3" fill="#fff" stroke="#f47c30" stroke-width="0.7"/>
<circle cx="388.18" cy="408.15" r="1.3" fill="#fff" stroke="#f47c30" stroke-width="0.7"/>
<circle cx="390.29" cy="407.67" r="1.3" fill="#fff" stroke="#f47c30" stroke-width="0.7"/>
<circle cx="392.28" cy="407.23" r="1.3" fill="#fff" stroke="#f47c30" stroke-width="0.7"/>
<circle cx="394.15" cy="406.83" r="1.3" fill="#fff" stroke="#f47c30" stroke-width="0.7"/>
<circle cx="395.93" cy="406.45" r="1.3" fill="#fff" stroke="#f47c30" stroke-width="0.7"/>
<circle cx="397.62" cy="406.09" r="1.3" fill="#fff" stroke="#f47c30" stroke-width="0.7"/>
<circle cx="399.22" cy="405.76" r="1.3" fill="#fff" stroke="#f47c30" stroke-width="0.7"/>
<circle cx="400.76" cy="405.44" r="1.3" fill="#fff" stroke="#f47c30" stroke-width="0.7"/>
<circle cx="402.23" cy="405.15" r="1.3" fill="#fff" stroke="#f47c30" stroke-width="0.7"/>
<circle cx="403.63" cy="404.88" r="1.3" fill="#fff" stroke="#f47c30" stroke-width="0.7"/>
<circle cx="404.98" cy="404.62" r="1.3" fill="#fff" stroke="#f47c30" stroke-width="0.7"/>
<circle cx="406.28" cy="404.37" r="1.3" fill="#fff" stroke="#f47c30" stroke-width="0.7"/>
<circle cx="407.53" cy="404.15" r="1.3" fill="#fff" stroke="#f47c30" stroke-width="0.7"/>
<circle cx="408.73" cy="403.93" r="1.3" fill="#fff" stroke="#f47c30" stroke-width="0.7"/>
<circle cx="409.90" cy="403.73" r="1.3" fill="#fff" stroke="#f47c30" stroke-width="0.7"/>
<circle cx="411.02" cy="403.53" r="1.3" fill="#fff" stroke="#f47c30" stroke-width="0.7"/>
<circle cx="412.11" cy="403.35" r="1.3" fill="#fff" stroke="#f47c30" stroke-width="0.7"/>
<circle cx="413.17" cy="403.18" r="1.3" fill="#fff" stroke="#f47c30" stroke-width="0.7"/>
<circle cx="414.19" cy="403.02" r="1.3" fill="#fff" stroke="#f47c30" stroke-width="0.7"/>
<circle cx="415.18" cy="402.86" r="1.3" fill="#fff" stroke="#f47c30" stroke-width="0.7"/>
<circle cx="416.15" cy="402.72" r="1.3" fill="#fff" stroke="#f47c30" stroke-width="0.7"/>
<path d="M272.31 498.87 L273.04 498.77 L273.76 498.68 L274.49 498.58 L275.21 498.48 L275.94 498.37 L276.66 498.26 L277.39 498.15 L278.12 498.04 L278.84 497.93 L279.57 497.81 L280.29 497.69 L281.02 497.57 L281.74 497.45 L282.47 497.32 L283.19 497.20 L283.92 497.07 L284.64 496.93 L285.37 496.80 L286.09 496.67 L286.82 496.53 L287.54 496.39 L288.27 496.25 L288.99 496.10 L289.72 495.96 L290.44 495.81 L291.17 495.66 L291.89 495.51 L292.62 495.36 L293.34 495.21 L294.07 495.05 L294.79 494.90 L295.52 494.74 L296.24 494.58 L296.97 494.42 L297.69 494.25 L298.42 494.09 L299.14 493.93 L299.87 493.76 L300.59 493.59 L301.32 493.42 L302.04 493.26 L302.77 493.08 L303.50 492.91 L304.22 492.74 L304.95 492.57 L305.67 492.39 L306.40 492.22 L307.12 492.04 L307.85 491.86 L308.57 491.69 L309.30 491.51 L310.02 491.33 L310.75 491.16 L311.47 490.99 L312.20 490.83 L312.92 490.67 L313.65 490.51 L314.37 490.34 L315.10 490.18 L315.82 490.01 L316.55 489.84 L317.27 489.66 L318.00 489.47 L318.72 489.28 L319.45 489.07 L320.17 488.86 L320.90 488.63 L321.62 488.39 L322.35 488.13 L323.07 487.86 L323.80 487.57 L324.52 487.26 L325.25 486.93 L325.97 486.58 L326.70 486.21 L327.42 485.76 L328.15 485.21 L328.87 484.56 L329.60 483.82 L330.33 482.99 L331.05 482.07 L331.78 481.06 L332.50 479.98 L333.23 478.83 L333.95 477.60 L334.68 476.31 L335.40 474.96 L336.13 473.56 L336.85 472.10 L337.58 470.59 L338.30 468.99 L339.03 467.03 L339.75 464.71 L340.48 462.09 L341.20 459.24 L341.93 456.22 L342.65 453.11 L343.38 449.96 L344.10 446.85 L344.83 443.84 L345.55 441.00 L346.28 438.39 L347.00 435.95 L347.73 433.49 L348.45 431.13 L349.18 429.01 L349.90 427.28 L350.63 425.93 L351.35 424.78 L352.08 423.78 L352.80 422.87 L353.53 422.02 L354.25 421.20 L354.98 420.43 L355.71 419.70 L356.43 419.01 L357.16 418.36 L357.88 417.76 L358.61 417.19 L359.33 416.66 L360.06 416.15 L360.78 415.65 L361.51 415.16 L362.23 414.69 L362.96 414.23 L363.68 413.78 L364.41 413.34 L365.13 412.92 L365.86 412.51 L366.58 412.11 L367.31 411.72 L368.03 411.35 L368.76 410.99 L369.48 410.64 L370.21 410.30 L370.93 409.97 L371.66 409.66 L372.38 409.36 L373.11 409.07 L373.83 408.78 L374.56 408.51 L375.28 408.24 L376.01 407.98 L376.73 407.73 L377.46 407.48 L378.18 407.24 L378.91 407.01 L379.63 406.78 L380.36 406.55 L381.09 406.33 L381.81 406.11 L382.54 405.90 L383.26 405.69 L383.99 405.49 L384.71 405.29 L385.44 405.09 L386.16 404.90 L386.89 404.70 L387.61 404.52 L388.34 404.33 L389.06 404.14 L389.79 403.96 L390.51 403.78 L391.24 403.60 L391.96 403.42 L392.69 403.24 L393.41 403.07 L394.14 402.89 L394.86 402.71 L395.59 402.54 L396.31 402.36 L397.04 402.18 L397.76 402.00 L398.49 401.83 L399.21 401.65 L399.94 401.48 L400.66 401.31 L401.39 401.14 L402.11 400.97 L402.84 400.80 L403.56 400.64 L404.29 400.48 L405.01 400.31 L405.74 400.15 L406.47 399.99 L407.19 399.84 L407.92 399.68 L408.64 399.53 L409.37 399.38 L410.09 399.22 L410.82 399.08 L411.54 398.93 L412.27 398.78 L412.99 398.64 L413.72 398.50 L414.44 398.36 L415.17 398.22 L415.89 398.08 L416.62 397.95" stroke="#4cae52" stroke-width="1.4" fill="none" stroke-linejoin="round" stroke-linecap="round"/>
<circle cx="272.31" cy="498.87" r="1.3" fill="#fff" stroke="#4cae52" stroke-width="0.7"/>
<circle cx="309.38" cy="491.49" r="1.3" fill="#fff" stroke="#4cae52" stroke-width="0.7"/>
<circle cx="326.62" cy="486.25" r="1.3" fill="#fff" stroke="#4cae52" stroke-width="0.7"/>
<circle cx="337.97" cy="469.75" r="1.3" fill="#fff" stroke="#4cae52" stroke-width="0.7"/>
<circle cx="346.45" cy="437.81" r="1.3" fill="#fff" stroke="#4cae52" stroke-width="0.7"/>
<circle cx="353.22" cy="422.37" r="1.3" fill="#fff" stroke="#4cae52" stroke-width="0.7"/>
<circle cx="358.86" cy="417.00" r="1.3" fill="#fff" stroke="#4cae52" stroke-width="0.7"/>
<circle cx="363.69" cy="413.78" r="1.3" fill="#fff" stroke="#4cae52" stroke-width="0.7"/>
<circle cx="367.91" cy="411.41" r="1.3" fill="#fff" stroke="#4cae52" stroke-width="0.7"/>
<circle cx="371.67" cy="409.66" r="1.3" fill="#fff" stroke="#4cae52" stroke-width="0.7"/>
<circle cx="375.04" cy="408.33" r="1.3" fill="#fff" stroke="#4cae52" stroke-width="0.7"/>
<circle cx="378.11" cy="407.27" r="1.3" fill="#fff" stroke="#4cae52" stroke-width="0.7"/>
<circle cx="380.93" cy="406.38" r="1.3" fill="#fff" stroke="#4cae52" stroke-width="0.7"/>
<circle cx="383.52" cy="405.62" r="1.3" fill="#fff" stroke="#4cae52" stroke-width="0.7"/>
<circle cx="385.93" cy="404.96" r="1.3" fill="#fff" stroke="#4cae52" stroke-width="0.7"/>
<circle cx="388.18" cy="404.37" r="1.3" fill="#fff" stroke="#4cae52" stroke-width="0.7"/>
<circle cx="390.29" cy="403.84" r="1.3" fill="#fff" stroke="#4cae52" stroke-width="0.7"/>
<circle cx="392.28" cy="403.34" r="1.3" fill="#fff" stroke="#4cae52" stroke-width="0.7"/>
<circle cx="394.15" cy="402.89" r="1.3" fill="#fff" stroke="#4cae52" stroke-width="0.7"/>
<circle cx="395.93" cy="402.45" r="1.3" fill="#fff" stroke="#4cae52" stroke-width="0.7"/>
<circle cx="397.62" cy="402.04" r="1.3" fill="#fff" stroke="#4cae52" stroke-width="0.7"/>
<circle cx="399.22" cy="401.65" r="1.3" fill="#fff" stroke="#4cae52" stroke-width="0.7"/>
<circle cx="400.76" cy="401.29" r="1.3" fill="#fff" stroke="#4cae52" stroke-width="0.7"/>
<circle cx="402.23" cy="400.95" r="1.3" fill="#fff" stroke="#4cae52" stroke-width="0.7"/>
<circle cx="403.63" cy="400.62" r="1.3" fill="#fff" stroke="#4cae52" stroke-width="0.7"/>
<circle cx="404.98" cy="400.32" r="1.3" fill="#fff" stroke="#4cae52" stroke-width="0.7"/>
<circle cx="406.28" cy="400.03" r="1.3" fill="#fff" stroke="#4cae52" stroke-width="0.7"/>
<circle cx="407.53" cy="399.76" r="1.3" fill="#fff" stroke="#4cae52" stroke-width="0.7"/>
<circle cx="408.73" cy="399.51" r="1.3" fill="#fff" stroke="#4cae52" stroke-width="0.7"/>
<circle cx="409.90" cy="399.26" r="1.3" fill="#fff" stroke="#4cae52" stroke-width="0.7"/>
<circle cx="411.02" cy="399.03" r="1.3" fill="#fff" stroke="#4cae52" stroke-width="0.7"/>
<circle cx="412.11" cy="398.81" r="1.3" fill="#fff" stroke="#4cae52" stroke-width="0.7"/>
<circle cx="413.17" cy="398.61" r="1.3" fill="#fff" stroke="#4cae52" stroke-width="0.7"/>
<circle cx="414.19" cy="398.41" r="1.3" fill="#fff" stroke="#4cae52" stroke-width="0.7"/>
<circle cx="415.18" cy="398.22" r="1.3" fill="#fff" stroke="#4cae52" stroke-width="0.7"/>
<circle cx="416.15" cy="398.04" r="1.3" fill="#fff" stroke="#4cae52" stroke-width="0.7"/>
<path d="M272.31 498.46 L273.04 498.42 L273.76 498.36 L274.49 498.30 L275.21 498.24 L275.94 498.17 L276.66 498.10 L277.39 498.02 L278.12 497.93 L278.84 497.85 L279.57 497.75 L280.29 497.66 L281.02 497.56 L281.74 497.45 L282.47 497.34 L283.19 497.23 L283.92 497.11 L284.64 496.99 L285.37 496.86 L286.09 496.73 L286.82 496.60 L287.54 496.47 L288.27 496.33 L288.99 496.18 L289.72 496.04 L290.44 495.89 L291.17 495.74 L291.89 495.58 L292.62 495.43 L293.34 495.27 L294.07 495.10 L294.79 494.94 L295.52 494.77 L296.24 494.60 L296.97 494.43 L297.69 494.25 L298.42 494.07 L299.14 493.90 L299.87 493.72 L300.59 493.53 L301.32 493.35 L302.04 493.16 L302.77 492.98 L303.50 492.79 L304.22 492.60 L304.95 492.41 L305.67 492.22 L306.40 492.02 L307.12 491.83 L307.85 491.63 L308.57 491.44 L309.30 491.24 L310.02 491.05 L310.75 490.85 L311.47 490.66 L312.20 490.46 L312.92 490.26 L313.65 490.06 L314.37 489.85 L315.10 489.64 L315.82 489.42 L316.55 489.20 L317.27 488.96 L318.00 488.71 L318.72 488.45 L319.45 488.18 L320.17 487.89 L320.90 487.59 L321.62 487.27 L322.35 486.93 L323.07 486.57 L323.80 486.19 L324.52 485.79 L325.25 485.37 L325.97 484.93 L326.70 484.45 L327.42 483.89 L328.15 483.19 L328.87 482.37 L329.60 481.43 L330.33 480.39 L331.05 479.24 L331.78 478.01 L332.50 476.69 L333.23 475.30 L333.95 473.84 L334.68 472.32 L335.40 470.76 L336.13 469.15 L336.85 467.50 L337.58 465.83 L338.30 464.12 L339.03 462.13 L339.75 459.89 L340.48 457.44 L341.20 454.83 L341.93 452.12 L342.65 449.36 L343.38 446.59 L344.10 443.88 L344.83 441.27 L345.55 438.81 L346.28 436.56 L347.00 434.48 L347.73 432.42 L348.45 430.45 L349.18 428.70 L349.90 427.25 L350.63 426.10 L351.35 425.12 L352.08 424.26 L352.80 423.48 L353.53 422.74 L354.25 422.03 L354.98 421.36 L355.71 420.72 L356.43 420.12 L357.16 419.55 L357.88 419.02 L358.61 418.52 L359.33 418.04 L360.06 417.58 L360.78 417.13 L361.51 416.68 L362.23 416.25 L362.96 415.83 L363.68 415.42 L364.41 415.01 L365.13 414.62 L365.86 414.24 L366.58 413.88 L367.31 413.52 L368.03 413.17 L368.76 412.84 L369.48 412.51 L370.21 412.20 L370.93 411.90 L371.66 411.61 L372.38 411.33 L373.11 411.07 L373.83 410.81 L374.56 410.57 L375.28 410.32 L376.01 410.09 L376.73 409.86 L377.46 409.64 L378.18 409.42 L378.91 409.21 L379.63 409.00 L380.36 408.80 L381.09 408.60 L381.81 408.40 L382.54 408.21 L383.26 408.03 L383.99 407.84 L384.71 407.66 L385.44 407.49 L386.16 407.31 L386.89 407.14 L387.61 406.97 L388.34 406.80 L389.06 406.64 L389.79 406.47 L390.51 406.31 L391.24 406.15 L391.96 405.99 L392.69 405.83 L393.41 405.67 L394.14 405.51 L394.86 405.35 L395.59 405.19 L396.31 405.03 L397.04 404.87 L397.76 404.71 L398.49 404.55 L399.21 404.39 L399.94 404.24 L400.66 404.08 L401.39 403.93 L402.11 403.78 L402.84 403.63 L403.56 403.48 L404.29 403.33 L405.01 403.18 L405.74 403.04 L406.47 402.89 L407.19 402.75 L407.92 402.61 L408.64 402.47 L409.37 402.33 L410.09 402.19 L410.82 402.06 L411.54 401.93 L412.27 401.79 L412.99 401.66 L413.72 401.53 L414.44 401.41 L415.17 401.28 L415.89 401.16 L416.62 401.04" stroke="#000000" stroke-width="1.4" fill="none" stroke-linejoin="round" stroke-linecap="round"/>
<circle cx="272.31" cy="498.46" r="1.3" fill="#fff" stroke="#000000" stroke-width="0.7"/>
<circle cx="309.38" cy="491.22" r="1.3" fill="#fff" stroke="#000000" stroke-width="0.7"/>
<circle cx="326.62" cy="484.51" r="1.3" fill="#fff" stroke="#000000" stroke-width="0.7"/>
<circle cx="337.97" cy="464.91" r="1.3" fill="#fff" stroke="#000000" stroke-width="0.7"/>
<circle cx="346.45" cy="436.06" r="1.3" fill="#fff" stroke="#000000" stroke-width="0.7"/>
<circle cx="353.22" cy="423.04" r="1.3" fill="#fff" stroke="#000000" stroke-width="0.7"/>
<circle cx="358.86" cy="418.35" r="1.3" fill="#fff" stroke="#000000" stroke-width="0.7"/>
<circle cx="363.69" cy="415.41" r="1.3" fill="#fff" stroke="#000000" stroke-width="0.7"/>
<circle cx="367.91" cy="413.23" r="1.3" fill="#fff" stroke="#000000" stroke-width="0.7"/>
<circle cx="371.67" cy="411.61" r="1.3" fill="#fff" stroke="#000000" stroke-width="0.7"/>
<circle cx="375.04" cy="410.40" r="1.3" fill="#fff" stroke="#000000" stroke-width="0.7"/>
<circle cx="378.11" cy="409.44" r="1.3" fill="#fff" stroke="#000000" stroke-width="0.7"/>
<circle cx="380.93" cy="408.64" r="1.3" fill="#fff" stroke="#000000" stroke-width="0.7"/>
<circle cx="383.52" cy="407.96" r="1.3" fill="#fff" stroke="#000000" stroke-width="0.7"/>
<circle cx="385.93" cy="407.37" r="1.3" fill="#fff" stroke="#000000" stroke-width="0.7"/>
<circle cx="388.18" cy="406.84" r="1.3" fill="#fff" stroke="#000000" stroke-width="0.7"/>
<circle cx="390.29" cy="406.36" r="1.3" fill="#fff" stroke="#000000" stroke-width="0.7"/>
<circle cx="392.28" cy="405.92" r="1.3" fill="#fff" stroke="#000000" stroke-width="0.7"/>
<circle cx="394.15" cy="405.51" r="1.3" fill="#fff" stroke="#000000" stroke-width="0.7"/>
<circle cx="395.93" cy="405.12" r="1.3" fill="#fff" stroke="#000000" stroke-width="0.7"/>
<circle cx="397.62" cy="404.74" r="1.3" fill="#fff" stroke="#000000" stroke-width="0.7"/>
<circle cx="399.22" cy="404.39" r="1.3" fill="#fff" stroke="#000000" stroke-width="0.7"/>
<circle cx="400.76" cy="404.06" r="1.3" fill="#fff" stroke="#000000" stroke-width="0.7"/>
<circle cx="402.23" cy="403.75" r="1.3" fill="#fff" stroke="#000000" stroke-width="0.7"/>
<circle cx="403.63" cy="403.46" r="1.3" fill="#fff" stroke="#000000" stroke-width="0.7"/>
<circle cx="404.98" cy="403.19" r="1.3" fill="#fff" stroke="#000000" stroke-width="0.7"/>
<circle cx="406.28" cy="402.93" r="1.3" fill="#fff" stroke="#000000" stroke-width="0.7"/>
<circle cx="407.53" cy="402.68" r="1.3" fill="#fff" stroke="#000000" stroke-width="0.7"/>
<circle cx="408.73" cy="402.45" r="1.3" fill="#fff" stroke="#000000" stroke-width="0.7"/>
<circle cx="409.90" cy="402.23" r="1.3" fill="#fff" stroke="#000000" stroke-width="0.7"/>
<circle cx="411.02" cy="402.02" r="1.3" fill="#fff" stroke="#000000" stroke-width="0.7"/>
<circle cx="412.11" cy="401.82" r="1.3" fill="#fff" stroke="#000000" stroke-width="0.7"/>
<circle cx="413.17" cy="401.63" r="1.3" fill="#fff" stroke="#000000" stroke-width="0.7"/>
<circle cx="414.19" cy="401.45" r="1.3" fill="#fff" stroke="#000000" stroke-width="0.7"/>
<circle cx="415.18" cy="401.28" r="1.3" fill="#fff" stroke="#000000" stroke-width="0.7"/>
<circle cx="416.15" cy="401.11" r="1.3" fill="#fff" stroke="#000000" stroke-width="0.7"/>
</g>
<rect x="260.90" y="380.10" width="166.70" height="134.20" fill="none" stroke="#000" stroke-width="1.7"/>
<path d="M272.31 514.30v-3.0M350.01 514.30v-3.0M264.78 514.30v-1.8M268.76 514.30v-1.8M295.70 514.30v-1.8M309.38 514.30v-1.8M319.09 514.30v-1.8M326.62 514.30v-1.8M332.77 514.30v-1.8M337.97 514.30v-1.8M342.48 514.30v-1.8M346.45 514.30v-1.8M373.40 514.30v-1.8M387.08 514.30v-1.8M396.78 514.30v-1.8M404.31 514.30v-1.8M410.47 514.30v-1.8M415.67 514.30v-1.8M420.17 514.30v-1.8M424.15 514.30v-1.8" stroke="#000" stroke-width="1.1" fill="none"/>
<path d="M260.90 514.30h3.0M260.90 500.88h3.0M260.90 487.46h3.0M260.90 474.04h3.0M260.90 460.62h3.0M260.90 447.20h3.0M260.90 433.78h3.0M260.90 420.36h3.0M260.90 406.94h3.0M260.90 393.52h3.0M260.90 380.10h3.0" stroke="#000" stroke-width="1.1" fill="none"/>
<path d="M260.90 510.26h1.4M260.90 507.90h1.4M260.90 506.22h1.4M260.90 504.92h1.4M260.90 503.86h1.4M260.90 502.96h1.4M260.90 502.18h1.4M260.90 501.49h1.4M260.90 496.84h1.4M260.90 494.48h1.4M260.90 492.80h1.4M260.90 491.50h1.4M260.90 490.44h1.4M260.90 489.54h1.4M260.90 488.76h1.4M260.90 488.07h1.4M260.90 483.42h1.4M260.90 481.06h1.4M260.90 479.38h1.4M260.90 478.08h1.4M260.90 477.02h1.4M260.90 476.12h1.4M260.90 475.34h1.4M260.90 474.65h1.4M260.90 470.00h1.4M260.90 467.64h1.4M260.90 465.96h1.4M260.90 464.66h1.4M260.90 463.60h1.4M260.90 462.70h1.4M260.90 461.92h1.4M260.90 461.23h1.4M260.90 456.58h1.4M260.90 454.22h1.4M260.90 452.54h1.4M260.90 451.24h1.4M260.90 450.18h1.4M260.90 449.28h1.4M260.90 448.50h1.4M260.90 447.81h1.4M260.90 443.16h1.4M260.90 440.80h1.4M260.90 439.12h1.4M260.90 437.82h1.4M260.90 436.76h1.4M260.90 435.86h1.4M260.90 435.08h1.4M260.90 434.39h1.4M260.90 429.74h1.4M260.90 427.38h1.4M260.90 425.70h1.4M260.90 424.40h1.4M260.90 423.34h1.4M260.90 422.44h1.4M260.90 421.66h1.4M260.90 420.97h1.4M260.90 416.32h1.4M260.90 413.96h1.4M260.90 412.28h1.4M260.90 410.98h1.4M260.90 409.92h1.4M260.90 409.02h1.4M260.90 408.24h1.4M260.90 407.55h1.4M260.90 402.90h1.4M260.90 400.54h1.4M260.90 398.86h1.4M260.90 397.56h1.4M260.90 396.50h1.4M260.90 395.60h1.4M260.90 394.82h1.4M260.90 394.13h1.4M260.90 389.48h1.4M260.90 387.12h1.4M260.90 385.44h1.4M260.90 384.14h1.4M260.90 383.08h1.4M260.90 382.18h1.4M260.90 381.40h1.4M260.90 380.71h1.4" stroke="#000" stroke-width="0.8" fill="none"/>
<text x="272.31" y="524.60" font-size="8.6" text-anchor="middle" fill="#000">0.1</text>
<text x="350.01" y="524.60" font-size="8.6" text-anchor="middle" fill="#000">1</text>
<text x="257.80" y="383.50" font-size="9.2" text-anchor="end" font-weight="normal" fill="#000" style="stroke:none">10<tspan font-size="6.2" dy="-3.2">5</tspan></text>
<text x="257.80" y="410.34" font-size="9.2" text-anchor="end" font-weight="normal" fill="#000" style="stroke:none">10<tspan font-size="6.2" dy="-3.2">3</tspan></text>
<text x="257.80" y="437.18" font-size="9.2" text-anchor="end" font-weight="normal" fill="#000" style="stroke:none">10<tspan font-size="6.2" dy="-3.2">1</tspan></text>
<text x="257.80" y="464.02" font-size="9.2" text-anchor="end" font-weight="normal" fill="#000" style="stroke:none">10<tspan font-size="6.2" dy="-3.2">-1</tspan></text>
<text x="257.80" y="490.86" font-size="9.2" text-anchor="end" font-weight="normal" fill="#000" style="stroke:none">10<tspan font-size="6.2" dy="-3.2">-3</tspan></text>
<text x="257.80" y="517.70" font-size="9.2" text-anchor="end" font-weight="normal" fill="#000" style="stroke:none">10<tspan font-size="6.2" dy="-3.2">-5</tspan></text>
<text x="344.00" y="540.00" font-size="8.8" text-anchor="middle" fill="#000">Voltage (V)</text>
<text x="236.20" y="447.00" font-size="8.8" text-anchor="middle" fill="#000" transform="rotate(-90.00 236.20 447.00)">Current (mA cm<tspan font-size="5.5" dy="-3.2">-2</tspan><tspan dy="3.2">)</tspan></text>
<text x="274.60" y="395.00" font-size="8.1" text-anchor="start" fill="#000">Hole-only device</text>
<line x1="356.0" y1="468.1" x2="374.4" y2="468.1" stroke="#000000" stroke-width="1.4"/>
<circle cx="365.20" cy="468.10" r="1.3" fill="#fff" stroke="#000000" stroke-width="0.7"/>
<text x="377.80" y="471.00" font-size="8.2" text-anchor="start" fill="#000">PM6:L8-BO</text>
<line x1="356.0" y1="478.3" x2="374.4" y2="478.3" stroke="#7b5cb0" stroke-width="1.4"/>
<circle cx="365.20" cy="478.30" r="1.3" fill="#fff" stroke="#7b5cb0" stroke-width="0.7"/>
<text x="377.80" y="481.20" font-size="8.2" text-anchor="start" fill="#000">S1:L8-BO</text>
<line x1="356.0" y1="488.6" x2="374.4" y2="488.6" stroke="#4cae52" stroke-width="1.4"/>
<circle cx="365.20" cy="488.60" r="1.3" fill="#fff" stroke="#4cae52" stroke-width="0.7"/>
<text x="377.80" y="491.50" font-size="8.2" text-anchor="start" fill="#000">S2:L8-BO</text>
<line x1="356.0" y1="498.9" x2="374.4" y2="498.9" stroke="#f47c30" stroke-width="1.4"/>
<circle cx="365.20" cy="498.90" r="1.3" fill="#fff" stroke="#f47c30" stroke-width="0.7"/>
<text x="377.80" y="501.80" font-size="8.2" text-anchor="start" fill="#000">S3:L8-BO</text>
<text x="463.70" y="376.40" font-size="13.5" text-anchor="start" fill="#000">i</text>
<defs><linearGradient id="go" x1="0" x2="1" y1="0" y2="0"><stop offset="0" stop-color="#f2843e"/><stop offset="0.18" stop-color="#f5a676"/><stop offset="0.45" stop-color="#f9d0b4"/><stop offset="0.75" stop-color="#f5a878"/><stop offset="1" stop-color="#ef7d38"/></linearGradient><linearGradient id="gg" x1="0" x2="1" y1="0" y2="0"><stop offset="0" stop-color="#55ad5c"/><stop offset="0.18" stop-color="#8fc997"/><stop offset="0.45" stop-color="#c0e1c5"/><stop offset="0.75" stop-color="#8cc692"/><stop offset="1" stop-color="#4fa857"/></linearGradient></defs>
<rect x="495.88" y="432.93" width="16.9" height="80.97" fill="url(#go)"/>
<text x="504.32" y="431.33" font-size="7.6" text-anchor="middle" fill="#000">3.91</text>
<rect x="512.77" y="447.84" width="16.9" height="66.06" fill="url(#gg)"/>
<text x="521.23" y="446.24" font-size="7.6" text-anchor="middle" fill="#000">3.19</text>
<rect x="537.83" y="472.28" width="16.9" height="41.62" fill="url(#go)"/>
<text x="546.28" y="470.68" font-size="7.6" text-anchor="middle" fill="#000">2.01</text>
<rect x="554.73" y="485.94" width="16.9" height="27.96" fill="url(#gg)"/>
<text x="563.18" y="484.34" font-size="7.6" text-anchor="middle" fill="#000">1.35</text>
<rect x="579.77" y="398.14" width="16.9" height="115.76" fill="url(#go)"/>
<text x="588.23" y="396.54" font-size="7.6" text-anchor="middle" fill="#000">5.59</text>
<rect x="596.67" y="416.16" width="16.9" height="97.74" fill="url(#gg)"/>
<text x="605.12" y="414.56" font-size="7.6" text-anchor="middle" fill="#000">4.72</text>
<rect x="621.73" y="449.08" width="16.9" height="64.82" fill="url(#go)"/>
<text x="630.18" y="447.48" font-size="7.6" text-anchor="middle" fill="#000">3.13</text>
<rect x="638.62" y="468.96" width="16.9" height="44.94" fill="url(#gg)"/>
<text x="647.08" y="467.36" font-size="7.6" text-anchor="middle" fill="#000">2.17</text>
<rect x="491.80" y="379.30" width="167.80" height="134.60" fill="none" stroke="#000" stroke-width="1.7"/>
<path d="M491.80 513.90h3.0M491.80 493.19h3.0M491.80 472.48h3.0M491.80 451.78h3.0M491.80 431.07h3.0M491.80 410.36h3.0M491.80 389.65h3.0M491.80 503.55h1.8M491.80 482.84h1.8M491.80 462.13h1.8M491.80 441.42h1.8M491.80 420.72h1.8M491.80 400.01h1.8" stroke="#000" stroke-width="1.1" fill="none"/>
<text x="489.00" y="516.90" font-size="8.6" text-anchor="end" fill="#000">0</text>
<text x="489.00" y="496.19" font-size="8.6" text-anchor="end" fill="#000">1</text>
<text x="489.00" y="475.48" font-size="8.6" text-anchor="end" fill="#000">2</text>
<text x="489.00" y="454.78" font-size="8.6" text-anchor="end" fill="#000">3</text>
<text x="489.00" y="434.07" font-size="8.6" text-anchor="end" fill="#000">4</text>
<text x="489.00" y="413.36" font-size="8.6" text-anchor="end" fill="#000">5</text>
<text x="489.00" y="392.65" font-size="8.6" text-anchor="end" fill="#000">6</text>
<text x="466.60" y="444.20" font-size="8.8" text-anchor="middle" fill="#000" transform="rotate(-90.00 466.60 444.20)">Current (10<tspan font-size="5.5" dy="-3.2">-4</tspan><tspan dy="3.2"> cm</tspan><tspan font-size="5.5" dy="-3.2">2</tspan><tspan dy="3.2"> V</tspan><tspan font-size="5.5" dy="-3.2">-1</tspan><tspan dy="3.2"> s</tspan><tspan font-size="5.5" dy="-3.2">-1</tspan><tspan dy="3.2">)</tspan></text>
<text x="510.17" y="530.40" font-size="8.6" text-anchor="middle" font-style="italic" fill="#000" transform="rotate(14.50 510.17 530.40)">PM6:L8-BO</text>
<text x="552.12" y="530.40" font-size="8.6" text-anchor="middle" font-style="italic" fill="#000" transform="rotate(14.50 552.12 530.40)">S1:L8-BO</text>
<text x="594.07" y="530.40" font-size="8.6" text-anchor="middle" font-style="italic" fill="#000" transform="rotate(14.50 594.07 530.40)">S2:L8-BO</text>
<text x="636.02" y="530.40" font-size="8.6" text-anchor="middle" font-style="italic" fill="#000" transform="rotate(14.50 636.02 530.40)">S3:L8-BO</text>
<rect x="622" y="384.4" width="12.4" height="5.8" fill="url(#go)"/>
<rect x="622" y="397.8" width="12.4" height="5.8" fill="url(#gg)"/>
<text x="640.30" y="390.60" font-size="8.5" text-anchor="start" fill="#000"><tspan font-style="italic">μ</tspan><tspan font-size="5.5" dy="2.0">h</tspan></text>
<text x="640.30" y="404.00" font-size="8.5" text-anchor="start" fill="#000"><tspan font-style="italic">μ</tspan><tspan font-size="5.5" dy="2.0">e</tspan></text></svg>
</body></html>
